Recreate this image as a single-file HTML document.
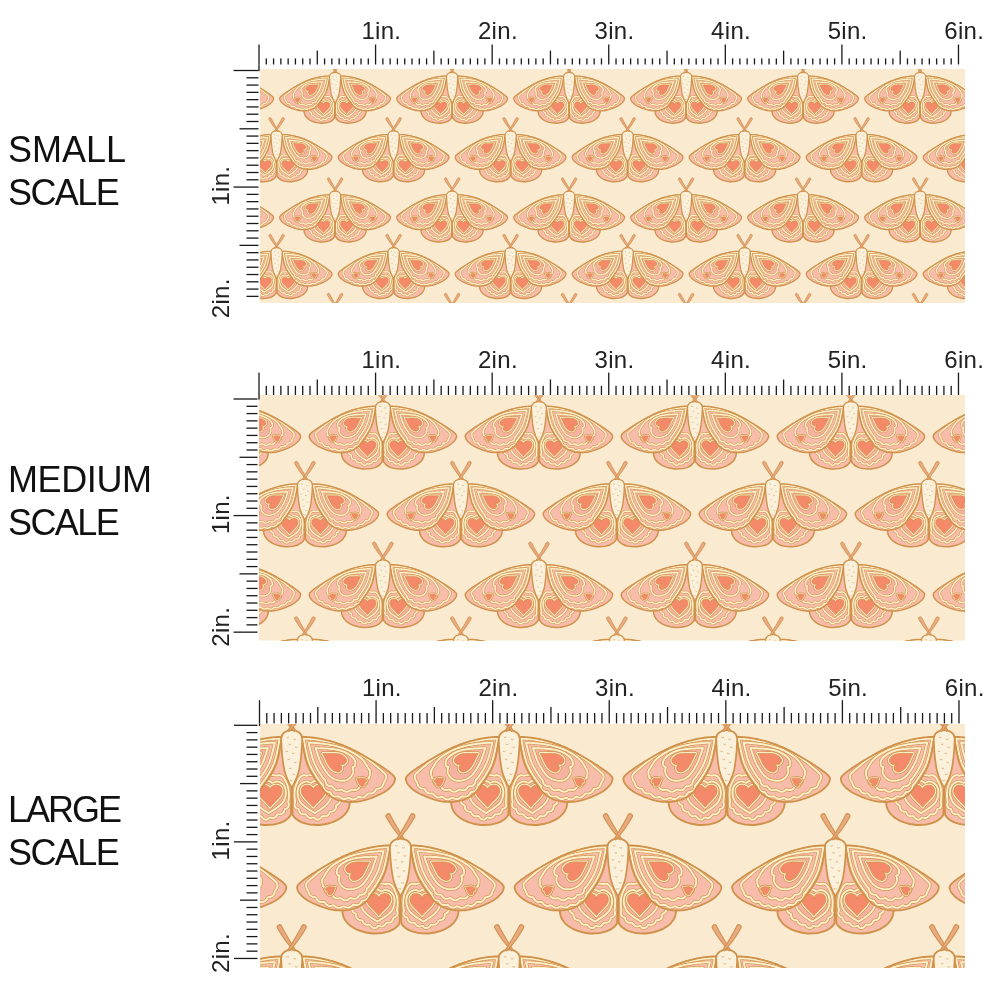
<!DOCTYPE html><html><head><meta charset="utf-8"><style>html,body{margin:0;padding:0;background:#fff;}#page{position:relative;width:1000px;height:1000px;overflow:hidden;background:#fff;font-family:"Liberation Sans",sans-serif;}.panel{position:absolute;display:block;}.big{position:absolute;will-change:transform;left:8px;font-size:36px;line-height:42.8px;color:#111;}.lab{font-family:"Liberation Sans",sans-serif;font-size:24px;letter-spacing:0.3px;fill:#222;}</style></head><body><div id="page">
<svg width="0" height="0" style="position:absolute"><defs><g id="halfS"><path d="M-2 14 C-16 16 -36 28 -48 48 C-54 58 -58 68 -58 76 C-57 86 -47 95 -28 97 C-16 97.5 -5 94 -1 87 C0 80 0 40 0 16Z" fill="#f7bcaa"/>
<path d="M-14.83 47.75 L-15.67 47.57 L-16.54 47.38 L-17.42 47.24 L-18.35 47.12 L-19.31 47.03 L-20.30 46.98 L-21.32 46.96 L-22.36 47.00 L-23.43 47.08 L-24.51 47.19 L-25.60 47.36 L-26.69 47.56 L-27.79 47.80 L-28.88 48.08 L-29.97 48.38 L-31.06 48.73 L-32.14 49.10 L-33.22 49.50 L-34.27 49.95 L-35.32 50.44 L-36.36 50.96 L-37.37 51.55 L-38.36 52.17 L-39.31 52.85 L-40.21 53.59 L-41.09 54.35 L-41.91 55.16 L-42.67 56.03 L-43.41 56.90 L-44.08 57.82 L-44.69 58.77 L-45.29 59.72 L-45.83 60.71 L-46.31 61.72 L-46.71 62.76 L-47.08 63.82 L-47.35 64.88 L-47.55 65.97 L-47.69 67.07 L-47.94 68.17 L-47.16 69.25 L-47.72 70.41 L-48.17 71.66 L-48.34 72.93 L-48.15 74.12 L-47.63 75.24 L-46.73 76.18 L-45.60 76.94 L-44.39 77.54 L-44.38 78.94 L-44.17 80.30 L-43.66 81.48 L-42.88 82.45 L-41.81 83.11 L-40.58 83.51 L-39.19 83.65 L-38.11 84.13 L-37.55 85.39 L-36.88 86.52 L-36.01 87.40 L-34.98 87.98 L-33.80 88.27 L-32.52 88.27 L-31.18 88.09 L-30.14 88.52 L-29.38 89.61 L-28.53 90.56 L-27.57 91.22 L-26.54 91.61 L-25.11 91.80 L-23.98 91.10 L-23.26 90.33 L-22.57 89.46 L-21.55 89.59 L-20.48 89.86 L-19.43 89.99 L-18.42 89.96 L-17.47 89.70 L-16.61 89.23 L-15.83 88.55 L-15.14 87.70 L-14.53 86.72 L-13.74 86.13 L-12.58 86.25 L-11.44 86.23 L-10.38 86.03 L-9.42 85.61 L-8.61 84.96 L-7.96 84.09 L-7.49 83.05 L-7.17 81.91 L-6.75 80.95 L-5.59 80.64 L-4.50 80.11 L-3.64 79.28 L-3.14 78.28 L-2.92 77.31 L-2.92 76.30 L-3.13 75.23 L-3.51 74.14 L-3.38 73.18 L-3.22 72.21 L-3.08 71.23 L-2.96 70.25 L-2.90 69.25 L-2.84 68.26 L-2.83 67.26 L-2.83 66.27 L-2.86 65.27 L-2.91 64.28 L-2.99 63.29 L-3.10 62.32 L-3.23 61.35 L-3.41 60.41 L-3.61 59.49 L-3.85 58.59 L-4.11 57.72 L-4.41 56.90 L-4.71 56.11 L-5.03 55.35 L-5.36 54.61 L-5.69 53.90 L-6.03 53.22 L-6.37 52.56 L-6.70 51.92 L-7.04 51.30 L-7.39 50.69 L-7.76 50.11 L-8.17 49.57 L-8.61 49.06 L-9.09 48.58 L-9.61 48.16 L-10.17 47.80 L-10.77 47.51 L-11.41 47.30 L-12.08 47.19 L-12.77 47.17 L-13.46 47.27 L-14.15 47.46Z" fill="#f7bcaa" stroke="#d0914a" stroke-width="4.16" stroke-linejoin="round"/><path d="M-14.83 47.75 L-15.67 47.57 L-16.54 47.38 L-17.42 47.24 L-18.35 47.12 L-19.31 47.03 L-20.30 46.98 L-21.32 46.96 L-22.36 47.00 L-23.43 47.08 L-24.51 47.19 L-25.60 47.36 L-26.69 47.56 L-27.79 47.80 L-28.88 48.08 L-29.97 48.38 L-31.06 48.73 L-32.14 49.10 L-33.22 49.50 L-34.27 49.95 L-35.32 50.44 L-36.36 50.96 L-37.37 51.55 L-38.36 52.17 L-39.31 52.85 L-40.21 53.59 L-41.09 54.35 L-41.91 55.16 L-42.67 56.03 L-43.41 56.90 L-44.08 57.82 L-44.69 58.77 L-45.29 59.72 L-45.83 60.71 L-46.31 61.72 L-46.71 62.76 L-47.08 63.82 L-47.35 64.88 L-47.55 65.97 L-47.69 67.07 L-47.94 68.17 L-47.16 69.25 L-47.72 70.41 L-48.17 71.66 L-48.34 72.93 L-48.15 74.12 L-47.63 75.24 L-46.73 76.18 L-45.60 76.94 L-44.39 77.54 L-44.38 78.94 L-44.17 80.30 L-43.66 81.48 L-42.88 82.45 L-41.81 83.11 L-40.58 83.51 L-39.19 83.65 L-38.11 84.13 L-37.55 85.39 L-36.88 86.52 L-36.01 87.40 L-34.98 87.98 L-33.80 88.27 L-32.52 88.27 L-31.18 88.09 L-30.14 88.52 L-29.38 89.61 L-28.53 90.56 L-27.57 91.22 L-26.54 91.61 L-25.11 91.80 L-23.98 91.10 L-23.26 90.33 L-22.57 89.46 L-21.55 89.59 L-20.48 89.86 L-19.43 89.99 L-18.42 89.96 L-17.47 89.70 L-16.61 89.23 L-15.83 88.55 L-15.14 87.70 L-14.53 86.72 L-13.74 86.13 L-12.58 86.25 L-11.44 86.23 L-10.38 86.03 L-9.42 85.61 L-8.61 84.96 L-7.96 84.09 L-7.49 83.05 L-7.17 81.91 L-6.75 80.95 L-5.59 80.64 L-4.50 80.11 L-3.64 79.28 L-3.14 78.28 L-2.92 77.31 L-2.92 76.30 L-3.13 75.23 L-3.51 74.14 L-3.38 73.18 L-3.22 72.21 L-3.08 71.23 L-2.96 70.25 L-2.90 69.25 L-2.84 68.26 L-2.83 67.26 L-2.83 66.27 L-2.86 65.27 L-2.91 64.28 L-2.99 63.29 L-3.10 62.32 L-3.23 61.35 L-3.41 60.41 L-3.61 59.49 L-3.85 58.59 L-4.11 57.72 L-4.41 56.90 L-4.71 56.11 L-5.03 55.35 L-5.36 54.61 L-5.69 53.90 L-6.03 53.22 L-6.37 52.56 L-6.70 51.92 L-7.04 51.30 L-7.39 50.69 L-7.76 50.11 L-8.17 49.57 L-8.61 49.06 L-9.09 48.58 L-9.61 48.16 L-10.17 47.80 L-10.77 47.51 L-11.41 47.30 L-12.08 47.19 L-12.77 47.17 L-13.46 47.27 L-14.15 47.46Z" fill="none" stroke="#fcefc8" stroke-width="2.60" stroke-linejoin="round"/>
<path d="M-18.62 55.74 L-19.01 55.32 L-19.44 54.89 L-19.91 54.49 L-20.44 54.11 L-21.02 53.77 L-21.66 53.46 L-22.34 53.20 L-23.05 52.98 L-23.81 52.82 L-24.59 52.71 L-25.39 52.65 L-26.20 52.62 L-27.02 52.65 L-27.84 52.72 L-28.67 52.81 L-29.49 52.94 L-30.31 53.11 L-31.13 53.31 L-31.94 53.55 L-32.74 53.85 L-33.53 54.18 L-34.29 54.58 L-35.03 55.02 L-35.73 55.53 L-36.37 56.10 L-36.97 56.70 L-37.52 57.35 L-38.00 58.05 L-38.44 58.76 L-38.84 59.50 L-39.17 60.25 L-39.47 61.02 L-39.73 61.80 L-39.94 62.59 L-40.07 63.39 L-40.19 64.20 L-40.20 65.00 L-40.18 65.81 L-40.11 66.61 L-39.96 67.40 L-39.79 68.20 L-39.56 68.98 L-39.28 69.75 L-38.96 70.53 L-38.60 71.28 L-38.23 72.03 L-37.80 72.76 L-37.34 73.47 L-36.85 74.17 L-36.32 74.84 L-35.77 75.51 L-35.18 76.14 L-34.59 76.76 L-33.97 77.35 L-33.34 77.94 L-32.68 78.49 L-32.02 79.04 L-31.35 79.56 L-30.67 80.08 L-29.99 80.58 L-29.30 81.07 L-28.61 81.55 L-27.91 82.01 L-27.21 82.47 L-26.52 82.92 L-25.83 83.37 L-25.14 83.81 L-24.46 84.25 L-23.79 84.68 L-23.11 85.12 L-22.51 84.74 L-21.91 84.36 L-21.30 83.97 L-20.68 83.59 L-20.06 83.21 L-19.43 82.81 L-18.80 82.43 L-18.16 82.03 L-17.53 81.63 L-16.90 81.22 L-16.26 80.80 L-15.63 80.38 L-15.00 79.94 L-14.38 79.50 L-13.76 79.04 L-13.14 78.57 L-12.54 78.08 L-11.94 77.58 L-11.35 77.07 L-10.78 76.53 L-10.22 75.98 L-9.69 75.40 L-9.17 74.81 L-8.70 74.19 L-8.28 73.54 L-7.95 72.86 L-7.64 72.16 L-7.34 71.46 L-7.06 70.76 L-6.81 70.03 L-6.56 69.30 L-6.36 68.55 L-6.18 67.80 L-6.02 67.04 L-5.95 66.25 L-5.88 65.47 L-5.88 64.69 L-5.89 63.90 L-5.95 63.12 L-6.03 62.34 L-6.16 61.57 L-6.33 60.82 L-6.53 60.08 L-6.80 59.37 L-7.11 58.70 L-7.46 58.06 L-7.85 57.47 L-8.28 56.93 L-8.73 56.45 L-9.20 56.01 L-9.68 55.60 L-10.18 55.25 L-10.67 54.93 L-11.16 54.63 L-11.66 54.36 L-12.15 54.13 L-12.65 53.92 L-13.15 53.75 L-13.65 53.62 L-14.17 53.53 L-14.69 53.49 L-15.20 53.49 L-15.70 53.56 L-16.20 53.70 L-16.68 53.89 L-17.14 54.14 L-17.56 54.46 L-17.94 54.84 L-18.30 55.27Z" fill="#f5b2a0" stroke="#d0914a" stroke-width="4.16" stroke-linejoin="round"/><path d="M-18.62 55.74 L-19.01 55.32 L-19.44 54.89 L-19.91 54.49 L-20.44 54.11 L-21.02 53.77 L-21.66 53.46 L-22.34 53.20 L-23.05 52.98 L-23.81 52.82 L-24.59 52.71 L-25.39 52.65 L-26.20 52.62 L-27.02 52.65 L-27.84 52.72 L-28.67 52.81 L-29.49 52.94 L-30.31 53.11 L-31.13 53.31 L-31.94 53.55 L-32.74 53.85 L-33.53 54.18 L-34.29 54.58 L-35.03 55.02 L-35.73 55.53 L-36.37 56.10 L-36.97 56.70 L-37.52 57.35 L-38.00 58.05 L-38.44 58.76 L-38.84 59.50 L-39.17 60.25 L-39.47 61.02 L-39.73 61.80 L-39.94 62.59 L-40.07 63.39 L-40.19 64.20 L-40.20 65.00 L-40.18 65.81 L-40.11 66.61 L-39.96 67.40 L-39.79 68.20 L-39.56 68.98 L-39.28 69.75 L-38.96 70.53 L-38.60 71.28 L-38.23 72.03 L-37.80 72.76 L-37.34 73.47 L-36.85 74.17 L-36.32 74.84 L-35.77 75.51 L-35.18 76.14 L-34.59 76.76 L-33.97 77.35 L-33.34 77.94 L-32.68 78.49 L-32.02 79.04 L-31.35 79.56 L-30.67 80.08 L-29.99 80.58 L-29.30 81.07 L-28.61 81.55 L-27.91 82.01 L-27.21 82.47 L-26.52 82.92 L-25.83 83.37 L-25.14 83.81 L-24.46 84.25 L-23.79 84.68 L-23.11 85.12 L-22.51 84.74 L-21.91 84.36 L-21.30 83.97 L-20.68 83.59 L-20.06 83.21 L-19.43 82.81 L-18.80 82.43 L-18.16 82.03 L-17.53 81.63 L-16.90 81.22 L-16.26 80.80 L-15.63 80.38 L-15.00 79.94 L-14.38 79.50 L-13.76 79.04 L-13.14 78.57 L-12.54 78.08 L-11.94 77.58 L-11.35 77.07 L-10.78 76.53 L-10.22 75.98 L-9.69 75.40 L-9.17 74.81 L-8.70 74.19 L-8.28 73.54 L-7.95 72.86 L-7.64 72.16 L-7.34 71.46 L-7.06 70.76 L-6.81 70.03 L-6.56 69.30 L-6.36 68.55 L-6.18 67.80 L-6.02 67.04 L-5.95 66.25 L-5.88 65.47 L-5.88 64.69 L-5.89 63.90 L-5.95 63.12 L-6.03 62.34 L-6.16 61.57 L-6.33 60.82 L-6.53 60.08 L-6.80 59.37 L-7.11 58.70 L-7.46 58.06 L-7.85 57.47 L-8.28 56.93 L-8.73 56.45 L-9.20 56.01 L-9.68 55.60 L-10.18 55.25 L-10.67 54.93 L-11.16 54.63 L-11.66 54.36 L-12.15 54.13 L-12.65 53.92 L-13.15 53.75 L-13.65 53.62 L-14.17 53.53 L-14.69 53.49 L-15.20 53.49 L-15.70 53.56 L-16.20 53.70 L-16.68 53.89 L-17.14 54.14 L-17.56 54.46 L-17.94 54.84 L-18.30 55.27Z" fill="none" stroke="#fcefc8" stroke-width="2.60" stroke-linejoin="round"/>
<path d="M-21.60 62.40 L-21.64 61.84 L-21.71 61.29 L-21.84 60.75 L-22.03 60.23 L-22.30 59.74 L-22.61 59.28 L-22.98 58.87 L-23.39 58.49 L-23.86 58.18 L-24.35 57.92 L-24.86 57.70 L-25.39 57.52 L-25.93 57.39 L-26.48 57.30 L-27.03 57.23 L-27.59 57.21 L-28.14 57.21 L-28.70 57.25 L-29.25 57.32 L-29.79 57.45 L-30.32 57.62 L-30.84 57.84 L-31.32 58.11 L-31.76 58.45 L-32.16 58.84 L-32.51 59.27 L-32.81 59.74 L-33.04 60.24 L-33.23 60.77 L-33.39 61.30 L-33.48 61.85 L-33.55 62.40 L-33.58 62.96 L-33.58 63.52 L-33.51 64.07 L-33.44 64.62 L-33.27 65.15 L-33.09 65.68 L-32.87 66.19 L-32.61 66.68 L-32.35 67.17 L-32.05 67.64 L-31.73 68.10 L-31.41 68.56 L-31.07 69.00 L-30.72 69.43 L-30.37 69.86 L-30.01 70.28 L-29.63 70.70 L-29.26 71.11 L-28.88 71.52 L-28.49 71.92 L-28.10 72.32 L-27.71 72.72 L-27.32 73.11 L-26.92 73.51 L-26.53 73.90 L-26.13 74.29 L-25.74 74.68 L-25.34 75.08 L-24.95 75.47 L-24.56 75.87 L-24.17 76.27 L-23.78 76.67 L-23.41 77.08 L-23.03 77.49 L-22.66 77.90 L-22.30 78.33 L-21.95 78.77 L-21.60 79.20 L-21.25 78.77 L-20.90 78.33 L-20.54 77.90 L-20.17 77.49 L-19.79 77.08 L-19.42 76.67 L-19.03 76.27 L-18.64 75.87 L-18.25 75.47 L-17.86 75.08 L-17.46 74.68 L-17.07 74.29 L-16.67 73.90 L-16.28 73.51 L-15.88 73.11 L-15.49 72.72 L-15.10 72.32 L-14.71 71.92 L-14.32 71.52 L-13.94 71.11 L-13.57 70.70 L-13.19 70.28 L-12.83 69.86 L-12.48 69.43 L-12.13 69.00 L-11.79 68.56 L-11.47 68.10 L-11.15 67.64 L-10.85 67.17 L-10.59 66.68 L-10.33 66.19 L-10.11 65.68 L-9.93 65.15 L-9.76 64.62 L-9.69 64.07 L-9.62 63.52 L-9.62 62.96 L-9.65 62.40 L-9.72 61.85 L-9.81 61.30 L-9.97 60.77 L-10.16 60.24 L-10.39 59.74 L-10.69 59.27 L-11.04 58.84 L-11.44 58.45 L-11.88 58.11 L-12.36 57.84 L-12.88 57.62 L-13.41 57.45 L-13.95 57.32 L-14.50 57.25 L-15.06 57.21 L-15.61 57.21 L-16.17 57.23 L-16.72 57.30 L-17.27 57.39 L-17.81 57.52 L-18.34 57.70 L-18.85 57.92 L-19.34 58.18 L-19.81 58.49 L-20.22 58.87 L-20.59 59.28 L-20.90 59.74 L-21.17 60.23 L-21.36 60.75 L-21.49 61.29 L-21.56 61.84Z" fill="#f48a69" stroke="#d0914a" stroke-width="5.59" stroke-linejoin="round"/>
<path d="M-21.60 62.40 L-21.64 61.84 L-21.71 61.29 L-21.84 60.75 L-22.03 60.23 L-22.30 59.74 L-22.61 59.28 L-22.98 58.87 L-23.39 58.49 L-23.86 58.18 L-24.35 57.92 L-24.86 57.70 L-25.39 57.52 L-25.93 57.39 L-26.48 57.30 L-27.03 57.23 L-27.59 57.21 L-28.14 57.21 L-28.70 57.25 L-29.25 57.32 L-29.79 57.45 L-30.32 57.62 L-30.84 57.84 L-31.32 58.11 L-31.76 58.45 L-32.16 58.84 L-32.51 59.27 L-32.81 59.74 L-33.04 60.24 L-33.23 60.77 L-33.39 61.30 L-33.48 61.85 L-33.55 62.40 L-33.58 62.96 L-33.58 63.52 L-33.51 64.07 L-33.44 64.62 L-33.27 65.15 L-33.09 65.68 L-32.87 66.19 L-32.61 66.68 L-32.35 67.17 L-32.05 67.64 L-31.73 68.10 L-31.41 68.56 L-31.07 69.00 L-30.72 69.43 L-30.37 69.86 L-30.01 70.28 L-29.63 70.70 L-29.26 71.11 L-28.88 71.52 L-28.49 71.92 L-28.10 72.32 L-27.71 72.72 L-27.32 73.11 L-26.92 73.51 L-26.53 73.90 L-26.13 74.29 L-25.74 74.68 L-25.34 75.08 L-24.95 75.47 L-24.56 75.87 L-24.17 76.27 L-23.78 76.67 L-23.41 77.08 L-23.03 77.49 L-22.66 77.90 L-22.30 78.33 L-21.95 78.77 L-21.60 79.20 L-21.25 78.77 L-20.90 78.33 L-20.54 77.90 L-20.17 77.49 L-19.79 77.08 L-19.42 76.67 L-19.03 76.27 L-18.64 75.87 L-18.25 75.47 L-17.86 75.08 L-17.46 74.68 L-17.07 74.29 L-16.67 73.90 L-16.28 73.51 L-15.88 73.11 L-15.49 72.72 L-15.10 72.32 L-14.71 71.92 L-14.32 71.52 L-13.94 71.11 L-13.57 70.70 L-13.19 70.28 L-12.83 69.86 L-12.48 69.43 L-12.13 69.00 L-11.79 68.56 L-11.47 68.10 L-11.15 67.64 L-10.85 67.17 L-10.59 66.68 L-10.33 66.19 L-10.11 65.68 L-9.93 65.15 L-9.76 64.62 L-9.69 64.07 L-9.62 63.52 L-9.62 62.96 L-9.65 62.40 L-9.72 61.85 L-9.81 61.30 L-9.97 60.77 L-10.16 60.24 L-10.39 59.74 L-10.69 59.27 L-11.04 58.84 L-11.44 58.45 L-11.88 58.11 L-12.36 57.84 L-12.88 57.62 L-13.41 57.45 L-13.95 57.32 L-14.50 57.25 L-15.06 57.21 L-15.61 57.21 L-16.17 57.23 L-16.72 57.30 L-17.27 57.39 L-17.81 57.52 L-18.34 57.70 L-18.85 57.92 L-19.34 58.18 L-19.81 58.49 L-20.22 58.87 L-20.59 59.28 L-20.90 59.74 L-21.17 60.23 L-21.36 60.75 L-21.49 61.29 L-21.56 61.84Z" fill="#f48a69" stroke="#fcefc8" stroke-width="3.90" stroke-linejoin="round"/>
<path d="M-21.60 62.40 L-21.64 61.84 L-21.71 61.29 L-21.84 60.75 L-22.03 60.23 L-22.30 59.74 L-22.61 59.28 L-22.98 58.87 L-23.39 58.49 L-23.86 58.18 L-24.35 57.92 L-24.86 57.70 L-25.39 57.52 L-25.93 57.39 L-26.48 57.30 L-27.03 57.23 L-27.59 57.21 L-28.14 57.21 L-28.70 57.25 L-29.25 57.32 L-29.79 57.45 L-30.32 57.62 L-30.84 57.84 L-31.32 58.11 L-31.76 58.45 L-32.16 58.84 L-32.51 59.27 L-32.81 59.74 L-33.04 60.24 L-33.23 60.77 L-33.39 61.30 L-33.48 61.85 L-33.55 62.40 L-33.58 62.96 L-33.58 63.52 L-33.51 64.07 L-33.44 64.62 L-33.27 65.15 L-33.09 65.68 L-32.87 66.19 L-32.61 66.68 L-32.35 67.17 L-32.05 67.64 L-31.73 68.10 L-31.41 68.56 L-31.07 69.00 L-30.72 69.43 L-30.37 69.86 L-30.01 70.28 L-29.63 70.70 L-29.26 71.11 L-28.88 71.52 L-28.49 71.92 L-28.10 72.32 L-27.71 72.72 L-27.32 73.11 L-26.92 73.51 L-26.53 73.90 L-26.13 74.29 L-25.74 74.68 L-25.34 75.08 L-24.95 75.47 L-24.56 75.87 L-24.17 76.27 L-23.78 76.67 L-23.41 77.08 L-23.03 77.49 L-22.66 77.90 L-22.30 78.33 L-21.95 78.77 L-21.60 79.20 L-21.25 78.77 L-20.90 78.33 L-20.54 77.90 L-20.17 77.49 L-19.79 77.08 L-19.42 76.67 L-19.03 76.27 L-18.64 75.87 L-18.25 75.47 L-17.86 75.08 L-17.46 74.68 L-17.07 74.29 L-16.67 73.90 L-16.28 73.51 L-15.88 73.11 L-15.49 72.72 L-15.10 72.32 L-14.71 71.92 L-14.32 71.52 L-13.94 71.11 L-13.57 70.70 L-13.19 70.28 L-12.83 69.86 L-12.48 69.43 L-12.13 69.00 L-11.79 68.56 L-11.47 68.10 L-11.15 67.64 L-10.85 67.17 L-10.59 66.68 L-10.33 66.19 L-10.11 65.68 L-9.93 65.15 L-9.76 64.62 L-9.69 64.07 L-9.62 63.52 L-9.62 62.96 L-9.65 62.40 L-9.72 61.85 L-9.81 61.30 L-9.97 60.77 L-10.16 60.24 L-10.39 59.74 L-10.69 59.27 L-11.04 58.84 L-11.44 58.45 L-11.88 58.11 L-12.36 57.84 L-12.88 57.62 L-13.41 57.45 L-13.95 57.32 L-14.50 57.25 L-15.06 57.21 L-15.61 57.21 L-16.17 57.23 L-16.72 57.30 L-17.27 57.39 L-17.81 57.52 L-18.34 57.70 L-18.85 57.92 L-19.34 58.18 L-19.81 58.49 L-20.22 58.87 L-20.59 59.28 L-20.90 59.74 L-21.17 60.23 L-21.36 60.75 L-21.49 61.29 L-21.56 61.84Z" fill="#f48a69" stroke="#d0914a" stroke-width="1.17" stroke-linejoin="round"/>
<path d="M-2 14 C-16 16 -36 28 -48 48 C-54 58 -58 68 -58 76 C-57 86 -47 95 -28 97 C-16 97.5 -5 94 -1 87 C0 80 0 40 0 16Z" fill="none" stroke="#d0914a" stroke-width="2.47"/>
<path d="M-10.00 9.00 L-11.50 8.97 L-13.01 8.96 L-14.51 9.01 L-16.01 9.08 L-17.51 9.19 L-19.01 9.32 L-20.50 9.49 L-21.99 9.67 L-23.48 9.89 L-24.97 10.11 L-26.45 10.38 L-27.93 10.65 L-29.40 10.94 L-30.87 11.25 L-32.34 11.57 L-33.81 11.93 L-35.27 12.28 L-36.72 12.67 L-38.17 13.06 L-39.62 13.47 L-41.06 13.91 L-42.49 14.35 L-43.92 14.82 L-45.35 15.30 L-46.77 15.79 L-48.18 16.32 L-49.58 16.84 L-50.98 17.41 L-52.37 17.99 L-53.75 18.57 L-55.12 19.19 L-56.49 19.80 L-57.86 20.42 L-59.22 21.08 L-60.58 21.73 L-61.93 22.38 L-63.27 23.06 L-64.61 23.74 L-65.95 24.42 L-67.28 25.13 L-68.61 25.83 L-69.93 26.54 L-71.25 27.27 L-72.56 28.00 L-73.88 28.73 L-75.18 29.48 L-76.48 30.23 L-77.78 30.99 L-79.08 31.75 L-80.36 32.53 L-81.65 33.31 L-82.93 34.09 L-84.21 34.89 L-85.48 35.69 L-86.75 36.50 L-88.01 37.32 L-89.27 38.15 L-90.52 38.98 L-91.76 39.82 L-93.00 40.67 L-94.24 41.53 L-95.46 42.40 L-96.69 43.28 L-97.89 44.18 L-99.06 45.12 L-100.20 46.10 L-101.28 47.14 L-102.27 48.27 L-103.07 49.55 L-103.40 51.00 L-103.11 52.55 L-102.59 54.04 L-101.87 55.44 L-100.99 56.76 L-100.00 57.99 L-98.92 59.14 L-97.77 60.22 L-96.57 61.24 L-95.32 62.20 L-94.03 63.12 L-92.70 63.98 L-91.35 64.79 L-89.94 65.52 L-88.52 66.21 L-87.09 66.88 L-85.66 67.54 L-84.21 68.17 L-82.76 68.79 L-81.29 69.38 L-79.82 69.95 L-78.33 70.49 L-76.84 71.00 L-75.34 71.49 L-73.82 71.93 L-72.29 72.35 L-70.76 72.72 L-69.21 73.05 L-67.66 73.34 L-66.10 73.56 L-64.53 73.76 L-62.95 73.89 L-61.38 73.96 L-59.80 73.99 L-58.22 73.95 L-56.64 73.88 L-55.06 73.75 L-53.49 73.57 L-51.93 73.34 L-50.38 73.05 L-48.83 72.72 L-47.31 72.30 L-45.80 71.84 L-44.31 71.30 L-42.85 70.70 L-41.42 70.05 L-40.03 69.30 L-38.67 68.48 L-37.35 67.61 L-36.11 66.64 L-34.93 65.59 L-33.80 64.49 L-32.76 63.30 L-31.77 62.07 L-30.79 60.83 L-29.82 59.58 L-28.85 58.33 L-27.89 57.08 L-26.94 55.82 L-26.00 54.55 L-25.08 53.26 L-24.17 51.97 L-23.28 50.66 L-22.41 49.34 L-21.56 48.01 L-20.74 46.66 L-19.94 45.30 L-19.16 43.92 L-18.42 42.53 L-17.71 41.12 L-17.04 39.69 L-16.40 38.24 L-15.81 36.78 L-15.26 35.30 L-14.76 33.80 L-14.31 32.29 L-13.90 30.76 L-13.51 29.23 L-13.16 27.69 L-12.82 26.15 L-12.50 24.60 L-12.19 23.05 L-11.90 21.50 L-11.62 19.94 L-11.36 18.38 L-11.10 16.82 L-10.86 15.26 L-10.63 13.70 L-10.41 12.13 L-10.20 10.57Z" fill="#f7bcaa"/>
<path d="M-12.07 10.79 L-13.47 10.77 L-14.88 10.77 L-16.28 10.82 L-17.68 10.88 L-19.09 10.98 L-20.48 11.09 L-21.88 11.23 L-23.28 11.37 L-24.67 11.56 L-26.06 11.73 L-27.44 11.95 L-28.83 12.17 L-30.21 12.41 L-31.58 12.67 L-32.96 12.93 L-34.33 13.22 L-35.70 13.51 L-37.06 13.83 L-38.42 14.16 L-39.78 14.50 L-41.13 14.87 L-42.48 15.24 L-43.82 15.64 L-45.16 16.05 L-46.49 16.46 L-47.82 16.92 L-49.14 17.37 L-50.45 17.86 L-51.76 18.37 L-53.06 18.89 L-54.35 19.43 L-55.64 19.99 L-56.92 20.55 L-58.20 21.14 L-59.46 21.74 L-60.73 22.36 L-61.98 22.99 L-63.23 23.64 L-64.47 24.29 L-65.70 24.97 L-66.93 25.65 L-68.15 26.33 L-69.36 27.04 L-70.55 27.76 L-71.75 28.48 L-72.92 29.23 L-74.08 29.99 L-75.23 30.76 L-76.35 31.54 L-77.45 32.33 L-78.52 33.13 L-79.56 33.94 L-80.57 34.74 L-81.57 35.54 L-82.54 36.34 L-83.49 37.14 L-84.43 37.93 L-85.36 38.71 L-86.26 39.48 L-87.16 40.24 L-88.04 40.99 L-88.91 41.73 L-89.79 42.45 L-90.64 43.19 L-91.47 43.94 L-92.28 44.71 L-93.05 45.53 L-93.73 46.41 L-94.26 47.40 L-94.41 48.54 L-94.27 49.90 L-93.93 51.21 L-93.42 52.45 L-92.78 53.62 L-92.04 54.72 L-91.60 56.08 L-91.12 57.50 L-90.36 58.69 L-89.30 59.60 L-88.01 60.21 L-86.54 60.54 L-84.98 60.66 L-84.18 61.91 L-83.36 63.21 L-82.38 64.28 L-81.20 65.06 L-79.82 65.47 L-78.30 65.58 L-76.68 65.45 L-75.50 66.24 L-74.49 67.50 L-73.34 68.51 L-72.02 69.16 L-70.55 69.39 L-68.99 69.25 L-67.39 68.81 L-66.04 69.30 L-64.76 70.34 L-63.38 71.06 L-61.92 71.38 L-60.42 71.24 L-58.94 70.69 L-57.51 69.87 L-56.07 70.02 L-54.58 70.70 L-53.07 71.06 L-51.59 71.01 L-50.18 70.51 L-48.88 69.62 L-47.67 68.49 L-46.24 68.31 L-44.62 68.61 L-43.06 68.55 L-41.64 68.09 L-40.41 67.22 L-39.40 65.97 L-38.62 64.51 L-37.30 63.92 L-35.68 63.62 L-34.23 63.00 L-33.06 62.03 L-32.28 60.72 L-31.83 59.20 L-31.61 57.55 L-30.48 56.61 L-29.61 55.47 L-28.74 54.33 L-27.89 53.17 L-27.05 52.01 L-26.23 50.84 L-25.41 49.66 L-24.61 48.46 L-23.83 47.26 L-23.07 46.05 L-22.33 44.82 L-21.61 43.58 L-20.91 42.32 L-20.24 41.06 L-19.60 39.77 L-18.98 38.48 L-18.40 37.16 L-17.86 35.84 L-17.35 34.50 L-16.89 33.14 L-16.46 31.77 L-16.07 30.39 L-15.70 29.01 L-15.35 27.62 L-15.02 26.22 L-14.70 24.83 L-14.40 23.43 L-14.10 22.03 L-13.82 20.63 L-13.55 19.22 L-13.28 17.82 L-13.02 16.41 L-12.78 15.01 L-12.53 13.60 L-12.30 12.19Z" fill="#f7bcaa" stroke="#d0914a" stroke-width="4.16" stroke-linejoin="round"/><path d="M-12.07 10.79 L-13.47 10.77 L-14.88 10.77 L-16.28 10.82 L-17.68 10.88 L-19.09 10.98 L-20.48 11.09 L-21.88 11.23 L-23.28 11.37 L-24.67 11.56 L-26.06 11.73 L-27.44 11.95 L-28.83 12.17 L-30.21 12.41 L-31.58 12.67 L-32.96 12.93 L-34.33 13.22 L-35.70 13.51 L-37.06 13.83 L-38.42 14.16 L-39.78 14.50 L-41.13 14.87 L-42.48 15.24 L-43.82 15.64 L-45.16 16.05 L-46.49 16.46 L-47.82 16.92 L-49.14 17.37 L-50.45 17.86 L-51.76 18.37 L-53.06 18.89 L-54.35 19.43 L-55.64 19.99 L-56.92 20.55 L-58.20 21.14 L-59.46 21.74 L-60.73 22.36 L-61.98 22.99 L-63.23 23.64 L-64.47 24.29 L-65.70 24.97 L-66.93 25.65 L-68.15 26.33 L-69.36 27.04 L-70.55 27.76 L-71.75 28.48 L-72.92 29.23 L-74.08 29.99 L-75.23 30.76 L-76.35 31.54 L-77.45 32.33 L-78.52 33.13 L-79.56 33.94 L-80.57 34.74 L-81.57 35.54 L-82.54 36.34 L-83.49 37.14 L-84.43 37.93 L-85.36 38.71 L-86.26 39.48 L-87.16 40.24 L-88.04 40.99 L-88.91 41.73 L-89.79 42.45 L-90.64 43.19 L-91.47 43.94 L-92.28 44.71 L-93.05 45.53 L-93.73 46.41 L-94.26 47.40 L-94.41 48.54 L-94.27 49.90 L-93.93 51.21 L-93.42 52.45 L-92.78 53.62 L-92.04 54.72 L-91.60 56.08 L-91.12 57.50 L-90.36 58.69 L-89.30 59.60 L-88.01 60.21 L-86.54 60.54 L-84.98 60.66 L-84.18 61.91 L-83.36 63.21 L-82.38 64.28 L-81.20 65.06 L-79.82 65.47 L-78.30 65.58 L-76.68 65.45 L-75.50 66.24 L-74.49 67.50 L-73.34 68.51 L-72.02 69.16 L-70.55 69.39 L-68.99 69.25 L-67.39 68.81 L-66.04 69.30 L-64.76 70.34 L-63.38 71.06 L-61.92 71.38 L-60.42 71.24 L-58.94 70.69 L-57.51 69.87 L-56.07 70.02 L-54.58 70.70 L-53.07 71.06 L-51.59 71.01 L-50.18 70.51 L-48.88 69.62 L-47.67 68.49 L-46.24 68.31 L-44.62 68.61 L-43.06 68.55 L-41.64 68.09 L-40.41 67.22 L-39.40 65.97 L-38.62 64.51 L-37.30 63.92 L-35.68 63.62 L-34.23 63.00 L-33.06 62.03 L-32.28 60.72 L-31.83 59.20 L-31.61 57.55 L-30.48 56.61 L-29.61 55.47 L-28.74 54.33 L-27.89 53.17 L-27.05 52.01 L-26.23 50.84 L-25.41 49.66 L-24.61 48.46 L-23.83 47.26 L-23.07 46.05 L-22.33 44.82 L-21.61 43.58 L-20.91 42.32 L-20.24 41.06 L-19.60 39.77 L-18.98 38.48 L-18.40 37.16 L-17.86 35.84 L-17.35 34.50 L-16.89 33.14 L-16.46 31.77 L-16.07 30.39 L-15.70 29.01 L-15.35 27.62 L-15.02 26.22 L-14.70 24.83 L-14.40 23.43 L-14.10 22.03 L-13.82 20.63 L-13.55 19.22 L-13.28 17.82 L-13.02 16.41 L-12.78 15.01 L-12.53 13.60 L-12.30 12.19Z" fill="none" stroke="#fcefc8" stroke-width="2.60" stroke-linejoin="round"/>
<path d="M-16.91 14.74 L-18.09 14.74 L-19.26 14.76 L-20.44 14.81 L-21.62 14.85 L-22.79 14.91 L-23.97 14.99 L-25.14 15.07 L-26.31 15.16 L-27.48 15.28 L-28.65 15.38 L-29.81 15.52 L-30.98 15.65 L-32.14 15.80 L-33.30 15.95 L-34.46 16.12 L-35.61 16.30 L-36.77 16.48 L-37.92 16.69 L-39.07 16.89 L-40.21 17.12 L-41.36 17.36 L-42.50 17.60 L-43.64 17.87 L-44.77 18.15 L-45.90 18.44 L-47.03 18.76 L-48.15 19.09 L-49.27 19.44 L-50.38 19.81 L-51.48 20.20 L-52.58 20.61 L-53.67 21.04 L-54.76 21.49 L-55.84 21.96 L-56.91 22.45 L-57.96 22.97 L-59.01 23.50 L-60.05 24.06 L-61.08 24.63 L-62.09 25.23 L-63.10 25.83 L-64.10 26.45 L-65.08 27.09 L-66.04 27.75 L-66.99 28.42 L-67.90 29.12 L-68.79 29.84 L-69.64 30.58 L-70.44 31.35 L-71.19 32.13 L-71.88 32.91 L-72.51 33.69 L-73.07 34.47 L-73.60 35.22 L-74.08 35.96 L-74.53 36.68 L-74.94 37.37 L-75.32 38.03 L-75.68 38.66 L-76.01 39.24 L-76.32 39.78 L-76.62 40.28 L-76.92 40.74 L-77.22 41.18 L-77.50 41.62 L-77.77 42.04 L-78.02 42.47 L-78.22 42.94 L-78.33 43.45 L-78.19 44.06 L-78.27 45.06 L-78.22 46.02 L-78.06 46.96 L-77.80 47.85 L-77.47 48.70 L-77.55 49.76 L-76.66 50.33 L-75.71 50.79 L-75.59 51.82 L-75.46 52.88 L-75.18 53.92 L-74.73 54.89 L-74.10 55.71 L-73.31 56.38 L-72.37 56.88 L-71.31 57.22 L-70.12 57.41 L-68.89 57.49 L-68.20 58.37 L-67.58 59.46 L-66.84 60.43 L-65.96 61.22 L-64.92 61.78 L-63.76 62.06 L-62.52 62.08 L-61.24 61.86 L-59.98 61.46 L-58.95 62.04 L-57.89 62.82 L-56.77 63.42 L-55.59 63.75 L-54.40 63.78 L-53.23 63.51 L-52.10 62.98 L-51.03 62.25 L-50.02 61.40 L-48.81 61.81 L-47.56 62.16 L-46.32 62.31 L-45.12 62.22 L-44.01 61.83 L-42.99 61.18 L-42.10 60.29 L-41.34 59.23 L-40.60 58.23 L-39.28 58.24 L-37.99 58.08 L-36.79 57.73 L-35.73 57.10 L-34.88 56.24 L-34.26 55.17 L-33.87 53.95 L-33.66 52.65 L-33.19 51.58 L-32.20 50.90 L-31.52 49.99 L-30.84 49.08 L-30.18 48.15 L-29.53 47.22 L-28.89 46.28 L-28.26 45.33 L-27.64 44.38 L-27.04 43.41 L-26.45 42.44 L-25.87 41.46 L-25.31 40.47 L-24.77 39.47 L-24.24 38.46 L-23.74 37.44 L-23.25 36.41 L-22.78 35.37 L-22.34 34.32 L-21.93 33.26 L-21.54 32.19 L-21.17 31.12 L-20.83 30.04 L-20.51 28.95 L-20.19 27.86 L-19.89 26.77 L-19.59 25.68 L-19.30 24.58 L-19.02 23.49 L-18.75 22.39 L-18.47 21.30 L-18.21 20.20 L-17.94 19.10 L-17.68 18.01 L-17.42 16.92 L-17.16 15.83Z" fill="#f7bcaa" stroke="#d0914a" stroke-width="4.16" stroke-linejoin="round"/><path d="M-16.91 14.74 L-18.09 14.74 L-19.26 14.76 L-20.44 14.81 L-21.62 14.85 L-22.79 14.91 L-23.97 14.99 L-25.14 15.07 L-26.31 15.16 L-27.48 15.28 L-28.65 15.38 L-29.81 15.52 L-30.98 15.65 L-32.14 15.80 L-33.30 15.95 L-34.46 16.12 L-35.61 16.30 L-36.77 16.48 L-37.92 16.69 L-39.07 16.89 L-40.21 17.12 L-41.36 17.36 L-42.50 17.60 L-43.64 17.87 L-44.77 18.15 L-45.90 18.44 L-47.03 18.76 L-48.15 19.09 L-49.27 19.44 L-50.38 19.81 L-51.48 20.20 L-52.58 20.61 L-53.67 21.04 L-54.76 21.49 L-55.84 21.96 L-56.91 22.45 L-57.96 22.97 L-59.01 23.50 L-60.05 24.06 L-61.08 24.63 L-62.09 25.23 L-63.10 25.83 L-64.10 26.45 L-65.08 27.09 L-66.04 27.75 L-66.99 28.42 L-67.90 29.12 L-68.79 29.84 L-69.64 30.58 L-70.44 31.35 L-71.19 32.13 L-71.88 32.91 L-72.51 33.69 L-73.07 34.47 L-73.60 35.22 L-74.08 35.96 L-74.53 36.68 L-74.94 37.37 L-75.32 38.03 L-75.68 38.66 L-76.01 39.24 L-76.32 39.78 L-76.62 40.28 L-76.92 40.74 L-77.22 41.18 L-77.50 41.62 L-77.77 42.04 L-78.02 42.47 L-78.22 42.94 L-78.33 43.45 L-78.19 44.06 L-78.27 45.06 L-78.22 46.02 L-78.06 46.96 L-77.80 47.85 L-77.47 48.70 L-77.55 49.76 L-76.66 50.33 L-75.71 50.79 L-75.59 51.82 L-75.46 52.88 L-75.18 53.92 L-74.73 54.89 L-74.10 55.71 L-73.31 56.38 L-72.37 56.88 L-71.31 57.22 L-70.12 57.41 L-68.89 57.49 L-68.20 58.37 L-67.58 59.46 L-66.84 60.43 L-65.96 61.22 L-64.92 61.78 L-63.76 62.06 L-62.52 62.08 L-61.24 61.86 L-59.98 61.46 L-58.95 62.04 L-57.89 62.82 L-56.77 63.42 L-55.59 63.75 L-54.40 63.78 L-53.23 63.51 L-52.10 62.98 L-51.03 62.25 L-50.02 61.40 L-48.81 61.81 L-47.56 62.16 L-46.32 62.31 L-45.12 62.22 L-44.01 61.83 L-42.99 61.18 L-42.10 60.29 L-41.34 59.23 L-40.60 58.23 L-39.28 58.24 L-37.99 58.08 L-36.79 57.73 L-35.73 57.10 L-34.88 56.24 L-34.26 55.17 L-33.87 53.95 L-33.66 52.65 L-33.19 51.58 L-32.20 50.90 L-31.52 49.99 L-30.84 49.08 L-30.18 48.15 L-29.53 47.22 L-28.89 46.28 L-28.26 45.33 L-27.64 44.38 L-27.04 43.41 L-26.45 42.44 L-25.87 41.46 L-25.31 40.47 L-24.77 39.47 L-24.24 38.46 L-23.74 37.44 L-23.25 36.41 L-22.78 35.37 L-22.34 34.32 L-21.93 33.26 L-21.54 32.19 L-21.17 31.12 L-20.83 30.04 L-20.51 28.95 L-20.19 27.86 L-19.89 26.77 L-19.59 25.68 L-19.30 24.58 L-19.02 23.49 L-18.75 22.39 L-18.47 21.30 L-18.21 20.20 L-17.94 19.10 L-17.68 18.01 L-17.42 16.92 L-17.16 15.83Z" fill="none" stroke="#fcefc8" stroke-width="2.60" stroke-linejoin="round"/>
<path d="M-23.78 20.09 L-24.65 20.11 L-25.51 20.14 L-26.37 20.18 L-27.23 20.20 L-28.09 20.24 L-28.95 20.27 L-29.81 20.30 L-30.67 20.34 L-31.53 20.38 L-32.39 20.41 L-33.24 20.46 L-34.10 20.51 L-34.95 20.56 L-35.81 20.61 L-36.66 20.67 L-37.51 20.74 L-38.36 20.82 L-39.21 20.90 L-40.06 20.98 L-40.91 21.09 L-41.76 21.19 L-42.61 21.30 L-43.45 21.44 L-44.29 21.58 L-45.13 21.72 L-45.97 21.89 L-46.81 22.08 L-47.64 22.28 L-48.47 22.49 L-49.29 22.73 L-50.11 22.99 L-50.92 23.26 L-51.73 23.57 L-52.53 23.88 L-53.31 24.24 L-54.09 24.62 L-54.85 25.01 L-55.60 25.44 L-56.34 25.88 L-57.07 26.34 L-57.78 26.82 L-58.48 27.31 L-59.17 27.83 L-59.82 28.37 L-60.47 28.92 L-61.06 29.51 L-61.62 30.13 L-62.13 30.77 L-62.58 31.44 L-62.96 32.12 L-63.25 32.81 L-63.46 33.50 L-63.59 34.16 L-63.66 34.80 L-63.67 35.41 L-63.64 35.99 L-63.56 36.53 L-63.44 37.02 L-63.29 37.45 L-63.10 37.82 L-62.90 38.13 L-62.68 38.37 L-62.46 38.56 L-62.25 38.71 L-62.03 38.83 L-61.81 38.90 L-61.59 38.96 L-61.36 39.02 L-61.10 39.08 L-60.74 39.18 L-61.00 39.76 L-61.20 40.33 L-61.35 40.90 L-61.45 41.46 L-61.51 42.02 L-61.53 42.57 L-61.52 43.12 L-61.48 43.67 L-61.40 44.23 L-61.30 44.78 L-61.14 45.35 L-60.95 45.91 L-60.72 46.46 L-60.42 47.02 L-60.09 47.57 L-59.73 48.12 L-59.31 48.66 L-58.85 49.18 L-58.36 49.69 L-57.83 50.17 L-57.27 50.63 L-56.68 51.07 L-56.05 51.47 L-55.39 51.82 L-54.69 52.12 L-53.98 52.38 L-53.24 52.58 L-52.49 52.73 L-51.73 52.82 L-50.96 52.86 L-50.20 52.86 L-49.43 52.82 L-48.68 52.74 L-47.92 52.63 L-47.18 52.49 L-46.44 52.32 L-45.70 52.13 L-44.98 51.90 L-44.26 51.66 L-43.55 51.39 L-42.84 51.10 L-42.15 50.79 L-41.47 50.44 L-40.81 50.06 L-40.15 49.68 L-39.52 49.25 L-38.92 48.78 L-38.33 48.30 L-37.75 47.79 L-37.21 47.25 L-36.70 46.69 L-36.21 46.10 L-35.73 45.50 L-35.27 44.88 L-34.82 44.26 L-34.37 43.64 L-33.93 43.02 L-33.50 42.38 L-33.08 41.74 L-32.67 41.09 L-32.25 40.45 L-31.86 39.79 L-31.47 39.13 L-31.09 38.47 L-30.71 37.80 L-30.34 37.12 L-29.99 36.44 L-29.64 35.76 L-29.30 35.07 L-28.98 34.38 L-28.66 33.68 L-28.35 32.98 L-28.06 32.27 L-27.77 31.56 L-27.50 30.84 L-27.24 30.13 L-26.98 29.41 L-26.73 28.69 L-26.48 27.96 L-26.23 27.24 L-25.99 26.52 L-25.75 25.80 L-25.51 25.08 L-25.26 24.36 L-25.02 23.65 L-24.78 22.93 L-24.53 22.22 L-24.28 21.51 L-24.03 20.80Z" fill="#f5b2a0" stroke="#d0914a" stroke-width="4.16" stroke-linejoin="round"/><path d="M-23.78 20.09 L-24.65 20.11 L-25.51 20.14 L-26.37 20.18 L-27.23 20.20 L-28.09 20.24 L-28.95 20.27 L-29.81 20.30 L-30.67 20.34 L-31.53 20.38 L-32.39 20.41 L-33.24 20.46 L-34.10 20.51 L-34.95 20.56 L-35.81 20.61 L-36.66 20.67 L-37.51 20.74 L-38.36 20.82 L-39.21 20.90 L-40.06 20.98 L-40.91 21.09 L-41.76 21.19 L-42.61 21.30 L-43.45 21.44 L-44.29 21.58 L-45.13 21.72 L-45.97 21.89 L-46.81 22.08 L-47.64 22.28 L-48.47 22.49 L-49.29 22.73 L-50.11 22.99 L-50.92 23.26 L-51.73 23.57 L-52.53 23.88 L-53.31 24.24 L-54.09 24.62 L-54.85 25.01 L-55.60 25.44 L-56.34 25.88 L-57.07 26.34 L-57.78 26.82 L-58.48 27.31 L-59.17 27.83 L-59.82 28.37 L-60.47 28.92 L-61.06 29.51 L-61.62 30.13 L-62.13 30.77 L-62.58 31.44 L-62.96 32.12 L-63.25 32.81 L-63.46 33.50 L-63.59 34.16 L-63.66 34.80 L-63.67 35.41 L-63.64 35.99 L-63.56 36.53 L-63.44 37.02 L-63.29 37.45 L-63.10 37.82 L-62.90 38.13 L-62.68 38.37 L-62.46 38.56 L-62.25 38.71 L-62.03 38.83 L-61.81 38.90 L-61.59 38.96 L-61.36 39.02 L-61.10 39.08 L-60.74 39.18 L-61.00 39.76 L-61.20 40.33 L-61.35 40.90 L-61.45 41.46 L-61.51 42.02 L-61.53 42.57 L-61.52 43.12 L-61.48 43.67 L-61.40 44.23 L-61.30 44.78 L-61.14 45.35 L-60.95 45.91 L-60.72 46.46 L-60.42 47.02 L-60.09 47.57 L-59.73 48.12 L-59.31 48.66 L-58.85 49.18 L-58.36 49.69 L-57.83 50.17 L-57.27 50.63 L-56.68 51.07 L-56.05 51.47 L-55.39 51.82 L-54.69 52.12 L-53.98 52.38 L-53.24 52.58 L-52.49 52.73 L-51.73 52.82 L-50.96 52.86 L-50.20 52.86 L-49.43 52.82 L-48.68 52.74 L-47.92 52.63 L-47.18 52.49 L-46.44 52.32 L-45.70 52.13 L-44.98 51.90 L-44.26 51.66 L-43.55 51.39 L-42.84 51.10 L-42.15 50.79 L-41.47 50.44 L-40.81 50.06 L-40.15 49.68 L-39.52 49.25 L-38.92 48.78 L-38.33 48.30 L-37.75 47.79 L-37.21 47.25 L-36.70 46.69 L-36.21 46.10 L-35.73 45.50 L-35.27 44.88 L-34.82 44.26 L-34.37 43.64 L-33.93 43.02 L-33.50 42.38 L-33.08 41.74 L-32.67 41.09 L-32.25 40.45 L-31.86 39.79 L-31.47 39.13 L-31.09 38.47 L-30.71 37.80 L-30.34 37.12 L-29.99 36.44 L-29.64 35.76 L-29.30 35.07 L-28.98 34.38 L-28.66 33.68 L-28.35 32.98 L-28.06 32.27 L-27.77 31.56 L-27.50 30.84 L-27.24 30.13 L-26.98 29.41 L-26.73 28.69 L-26.48 27.96 L-26.23 27.24 L-25.99 26.52 L-25.75 25.80 L-25.51 25.08 L-25.26 24.36 L-25.02 23.65 L-24.78 22.93 L-24.53 22.22 L-24.28 21.51 L-24.03 20.80Z" fill="none" stroke="#fcefc8" stroke-width="2.60" stroke-linejoin="round"/>
<path d="M-65.00 50.50 L-65.53 50.50 L-66.07 50.47 L-66.60 50.43 L-67.13 50.38 L-67.66 50.32 L-68.19 50.27 L-68.73 50.21 L-69.26 50.16 L-69.79 50.13 L-70.32 50.11 L-70.86 50.11 L-71.39 50.14 L-71.92 50.21 L-72.44 50.33 L-72.94 50.50 L-73.42 50.75 L-73.85 51.06 L-74.26 51.41 L-74.60 51.81 L-74.85 52.28 L-74.96 52.80 L-74.90 53.33 L-74.69 53.82 L-74.38 54.25 L-73.98 54.61 L-73.51 54.84 L-72.99 54.94 L-72.45 54.89 L-71.95 54.72 L-71.47 54.48 L-71.90 54.80 L-72.28 55.17 L-72.56 55.63 L-72.71 56.14 L-72.72 56.67 L-72.58 57.18 L-72.33 57.66 L-71.99 58.06 L-71.55 58.35 L-71.03 58.49 L-70.50 58.48 L-69.98 58.35 L-69.49 58.15 L-69.02 57.90 L-68.59 57.59 L-68.20 57.22 L-67.86 56.81 L-67.56 56.37 L-67.29 55.91 L-67.05 55.43 L-66.83 54.94 L-66.62 54.45 L-66.42 53.96 L-66.23 53.46 L-66.04 52.96 L-65.86 52.46 L-65.66 51.96 L-65.46 51.47 L-65.24 50.98Z" fill="#f48a69" stroke="#d0914a" stroke-width="4.68" stroke-linejoin="round"/>
<path d="M-65.00 50.50 L-65.53 50.50 L-66.07 50.47 L-66.60 50.43 L-67.13 50.38 L-67.66 50.32 L-68.19 50.27 L-68.73 50.21 L-69.26 50.16 L-69.79 50.13 L-70.32 50.11 L-70.86 50.11 L-71.39 50.14 L-71.92 50.21 L-72.44 50.33 L-72.94 50.50 L-73.42 50.75 L-73.85 51.06 L-74.26 51.41 L-74.60 51.81 L-74.85 52.28 L-74.96 52.80 L-74.90 53.33 L-74.69 53.82 L-74.38 54.25 L-73.98 54.61 L-73.51 54.84 L-72.99 54.94 L-72.45 54.89 L-71.95 54.72 L-71.47 54.48 L-71.90 54.80 L-72.28 55.17 L-72.56 55.63 L-72.71 56.14 L-72.72 56.67 L-72.58 57.18 L-72.33 57.66 L-71.99 58.06 L-71.55 58.35 L-71.03 58.49 L-70.50 58.48 L-69.98 58.35 L-69.49 58.15 L-69.02 57.90 L-68.59 57.59 L-68.20 57.22 L-67.86 56.81 L-67.56 56.37 L-67.29 55.91 L-67.05 55.43 L-66.83 54.94 L-66.62 54.45 L-66.42 53.96 L-66.23 53.46 L-66.04 52.96 L-65.86 52.46 L-65.66 51.96 L-65.46 51.47 L-65.24 50.98Z" fill="#f48a69" stroke="#fcefc8" stroke-width="2.60" stroke-linejoin="round"/>
<path d="M-65.00 50.50 L-65.53 50.50 L-66.07 50.47 L-66.60 50.43 L-67.13 50.38 L-67.66 50.32 L-68.19 50.27 L-68.73 50.21 L-69.26 50.16 L-69.79 50.13 L-70.32 50.11 L-70.86 50.11 L-71.39 50.14 L-71.92 50.21 L-72.44 50.33 L-72.94 50.50 L-73.42 50.75 L-73.85 51.06 L-74.26 51.41 L-74.60 51.81 L-74.85 52.28 L-74.96 52.80 L-74.90 53.33 L-74.69 53.82 L-74.38 54.25 L-73.98 54.61 L-73.51 54.84 L-72.99 54.94 L-72.45 54.89 L-71.95 54.72 L-71.47 54.48 L-71.90 54.80 L-72.28 55.17 L-72.56 55.63 L-72.71 56.14 L-72.72 56.67 L-72.58 57.18 L-72.33 57.66 L-71.99 58.06 L-71.55 58.35 L-71.03 58.49 L-70.50 58.48 L-69.98 58.35 L-69.49 58.15 L-69.02 57.90 L-68.59 57.59 L-68.20 57.22 L-67.86 56.81 L-67.56 56.37 L-67.29 55.91 L-67.05 55.43 L-66.83 54.94 L-66.62 54.45 L-66.42 53.96 L-66.23 53.46 L-66.04 52.96 L-65.86 52.46 L-65.66 51.96 L-65.46 51.47 L-65.24 50.98Z" fill="#f48a69" stroke="#d0914a" stroke-width="0.91" stroke-linejoin="round"/>
<path d="M-31.00 25.50 L-31.53 25.53 L-32.07 25.57 L-32.60 25.60 L-33.14 25.60 L-33.67 25.61 L-34.21 25.61 L-34.75 25.60 L-35.28 25.59 L-35.82 25.58 L-36.35 25.57 L-36.89 25.55 L-37.42 25.53 L-37.96 25.51 L-38.49 25.50 L-39.03 25.48 L-39.56 25.46 L-40.10 25.45 L-40.63 25.44 L-41.17 25.43 L-41.71 25.44 L-42.24 25.45 L-42.78 25.45 L-43.31 25.48 L-43.85 25.51 L-44.38 25.54 L-44.91 25.59 L-45.45 25.65 L-45.98 25.72 L-46.51 25.80 L-47.03 25.91 L-47.55 26.02 L-48.07 26.16 L-48.58 26.33 L-49.09 26.50 L-49.58 26.71 L-50.05 26.95 L-50.53 27.20 L-50.99 27.48 L-51.43 27.77 L-51.87 28.09 L-52.29 28.41 L-52.70 28.76 L-53.10 29.12 L-53.46 29.51 L-53.81 29.91 L-54.12 30.35 L-54.39 30.82 L-54.60 31.30 L-54.76 31.82 L-54.83 32.35 L-54.82 32.88 L-54.72 33.41 L-54.54 33.91 L-54.29 34.39 L-53.99 34.83 L-53.64 35.23 L-53.25 35.60 L-52.82 35.91 L-52.34 36.15 L-51.84 36.34 L-51.32 36.45 L-50.78 36.48 L-50.25 36.46 L-49.72 36.40 L-49.19 36.29 L-48.68 36.12 L-48.18 35.93 L-47.70 35.71 L-47.22 35.46 L-46.76 35.19 L-47.10 35.43 L-47.45 35.66 L-47.78 35.91 L-48.10 36.17 L-48.41 36.45 L-48.70 36.75 L-48.98 37.06 L-49.24 37.39 L-49.46 37.74 L-49.68 38.09 L-49.84 38.48 L-49.98 38.87 L-50.08 39.27 L-50.13 39.69 L-50.13 40.10 L-50.11 40.52 L-50.02 40.92 L-49.90 41.32 L-49.75 41.71 L-49.55 42.08 L-49.33 42.43 L-49.08 42.76 L-48.79 43.06 L-48.47 43.32 L-48.12 43.54 L-47.74 43.73 L-47.35 43.86 L-46.94 43.93 L-46.53 43.98 L-46.11 43.98 L-45.70 43.94 L-45.28 43.88 L-44.88 43.79 L-44.48 43.68 L-44.08 43.55 L-43.69 43.40 L-43.31 43.24 L-42.93 43.06 L-42.56 42.88 L-42.19 42.68 L-41.83 42.48 L-41.47 42.27 L-41.13 42.03 L-40.79 41.78 L-40.46 41.53 L-40.13 41.27 L-39.84 40.98 L-39.54 40.69 L-39.24 40.40 L-38.97 40.09 L-38.71 39.76 L-38.45 39.44 L-38.18 39.11 L-37.95 38.77 L-37.71 38.42 L-37.48 38.08 L-37.25 37.73 L-37.04 37.37 L-36.83 37.01 L-36.62 36.65 L-36.41 36.29 L-36.21 35.93 L-36.02 35.56 L-35.83 35.19 L-35.64 34.82 L-35.45 34.45 L-35.27 34.07 L-35.09 33.70 L-34.91 33.32 L-34.73 32.95 L-34.55 32.57 L-34.37 32.19 L-34.20 31.81 L-34.02 31.43 L-33.85 31.06 L-33.67 30.68 L-33.50 30.30 L-33.32 29.92 L-33.14 29.55 L-32.96 29.17 L-32.78 28.80 L-32.60 28.42 L-32.41 28.05 L-32.22 27.68 L-32.03 27.31 L-31.84 26.94 L-31.63 26.58 L-31.42 26.22 L-31.21 25.86Z" fill="#f48a69" stroke="#d0914a" stroke-width="5.59" stroke-linejoin="round"/>
<path d="M-31.00 25.50 L-31.53 25.53 L-32.07 25.57 L-32.60 25.60 L-33.14 25.60 L-33.67 25.61 L-34.21 25.61 L-34.75 25.60 L-35.28 25.59 L-35.82 25.58 L-36.35 25.57 L-36.89 25.55 L-37.42 25.53 L-37.96 25.51 L-38.49 25.50 L-39.03 25.48 L-39.56 25.46 L-40.10 25.45 L-40.63 25.44 L-41.17 25.43 L-41.71 25.44 L-42.24 25.45 L-42.78 25.45 L-43.31 25.48 L-43.85 25.51 L-44.38 25.54 L-44.91 25.59 L-45.45 25.65 L-45.98 25.72 L-46.51 25.80 L-47.03 25.91 L-47.55 26.02 L-48.07 26.16 L-48.58 26.33 L-49.09 26.50 L-49.58 26.71 L-50.05 26.95 L-50.53 27.20 L-50.99 27.48 L-51.43 27.77 L-51.87 28.09 L-52.29 28.41 L-52.70 28.76 L-53.10 29.12 L-53.46 29.51 L-53.81 29.91 L-54.12 30.35 L-54.39 30.82 L-54.60 31.30 L-54.76 31.82 L-54.83 32.35 L-54.82 32.88 L-54.72 33.41 L-54.54 33.91 L-54.29 34.39 L-53.99 34.83 L-53.64 35.23 L-53.25 35.60 L-52.82 35.91 L-52.34 36.15 L-51.84 36.34 L-51.32 36.45 L-50.78 36.48 L-50.25 36.46 L-49.72 36.40 L-49.19 36.29 L-48.68 36.12 L-48.18 35.93 L-47.70 35.71 L-47.22 35.46 L-46.76 35.19 L-47.10 35.43 L-47.45 35.66 L-47.78 35.91 L-48.10 36.17 L-48.41 36.45 L-48.70 36.75 L-48.98 37.06 L-49.24 37.39 L-49.46 37.74 L-49.68 38.09 L-49.84 38.48 L-49.98 38.87 L-50.08 39.27 L-50.13 39.69 L-50.13 40.10 L-50.11 40.52 L-50.02 40.92 L-49.90 41.32 L-49.75 41.71 L-49.55 42.08 L-49.33 42.43 L-49.08 42.76 L-48.79 43.06 L-48.47 43.32 L-48.12 43.54 L-47.74 43.73 L-47.35 43.86 L-46.94 43.93 L-46.53 43.98 L-46.11 43.98 L-45.70 43.94 L-45.28 43.88 L-44.88 43.79 L-44.48 43.68 L-44.08 43.55 L-43.69 43.40 L-43.31 43.24 L-42.93 43.06 L-42.56 42.88 L-42.19 42.68 L-41.83 42.48 L-41.47 42.27 L-41.13 42.03 L-40.79 41.78 L-40.46 41.53 L-40.13 41.27 L-39.84 40.98 L-39.54 40.69 L-39.24 40.40 L-38.97 40.09 L-38.71 39.76 L-38.45 39.44 L-38.18 39.11 L-37.95 38.77 L-37.71 38.42 L-37.48 38.08 L-37.25 37.73 L-37.04 37.37 L-36.83 37.01 L-36.62 36.65 L-36.41 36.29 L-36.21 35.93 L-36.02 35.56 L-35.83 35.19 L-35.64 34.82 L-35.45 34.45 L-35.27 34.07 L-35.09 33.70 L-34.91 33.32 L-34.73 32.95 L-34.55 32.57 L-34.37 32.19 L-34.20 31.81 L-34.02 31.43 L-33.85 31.06 L-33.67 30.68 L-33.50 30.30 L-33.32 29.92 L-33.14 29.55 L-32.96 29.17 L-32.78 28.80 L-32.60 28.42 L-32.41 28.05 L-32.22 27.68 L-32.03 27.31 L-31.84 26.94 L-31.63 26.58 L-31.42 26.22 L-31.21 25.86Z" fill="#f48a69" stroke="#fcefc8" stroke-width="3.90" stroke-linejoin="round"/>
<path d="M-31.00 25.50 L-31.53 25.53 L-32.07 25.57 L-32.60 25.60 L-33.14 25.60 L-33.67 25.61 L-34.21 25.61 L-34.75 25.60 L-35.28 25.59 L-35.82 25.58 L-36.35 25.57 L-36.89 25.55 L-37.42 25.53 L-37.96 25.51 L-38.49 25.50 L-39.03 25.48 L-39.56 25.46 L-40.10 25.45 L-40.63 25.44 L-41.17 25.43 L-41.71 25.44 L-42.24 25.45 L-42.78 25.45 L-43.31 25.48 L-43.85 25.51 L-44.38 25.54 L-44.91 25.59 L-45.45 25.65 L-45.98 25.72 L-46.51 25.80 L-47.03 25.91 L-47.55 26.02 L-48.07 26.16 L-48.58 26.33 L-49.09 26.50 L-49.58 26.71 L-50.05 26.95 L-50.53 27.20 L-50.99 27.48 L-51.43 27.77 L-51.87 28.09 L-52.29 28.41 L-52.70 28.76 L-53.10 29.12 L-53.46 29.51 L-53.81 29.91 L-54.12 30.35 L-54.39 30.82 L-54.60 31.30 L-54.76 31.82 L-54.83 32.35 L-54.82 32.88 L-54.72 33.41 L-54.54 33.91 L-54.29 34.39 L-53.99 34.83 L-53.64 35.23 L-53.25 35.60 L-52.82 35.91 L-52.34 36.15 L-51.84 36.34 L-51.32 36.45 L-50.78 36.48 L-50.25 36.46 L-49.72 36.40 L-49.19 36.29 L-48.68 36.12 L-48.18 35.93 L-47.70 35.71 L-47.22 35.46 L-46.76 35.19 L-47.10 35.43 L-47.45 35.66 L-47.78 35.91 L-48.10 36.17 L-48.41 36.45 L-48.70 36.75 L-48.98 37.06 L-49.24 37.39 L-49.46 37.74 L-49.68 38.09 L-49.84 38.48 L-49.98 38.87 L-50.08 39.27 L-50.13 39.69 L-50.13 40.10 L-50.11 40.52 L-50.02 40.92 L-49.90 41.32 L-49.75 41.71 L-49.55 42.08 L-49.33 42.43 L-49.08 42.76 L-48.79 43.06 L-48.47 43.32 L-48.12 43.54 L-47.74 43.73 L-47.35 43.86 L-46.94 43.93 L-46.53 43.98 L-46.11 43.98 L-45.70 43.94 L-45.28 43.88 L-44.88 43.79 L-44.48 43.68 L-44.08 43.55 L-43.69 43.40 L-43.31 43.24 L-42.93 43.06 L-42.56 42.88 L-42.19 42.68 L-41.83 42.48 L-41.47 42.27 L-41.13 42.03 L-40.79 41.78 L-40.46 41.53 L-40.13 41.27 L-39.84 40.98 L-39.54 40.69 L-39.24 40.40 L-38.97 40.09 L-38.71 39.76 L-38.45 39.44 L-38.18 39.11 L-37.95 38.77 L-37.71 38.42 L-37.48 38.08 L-37.25 37.73 L-37.04 37.37 L-36.83 37.01 L-36.62 36.65 L-36.41 36.29 L-36.21 35.93 L-36.02 35.56 L-35.83 35.19 L-35.64 34.82 L-35.45 34.45 L-35.27 34.07 L-35.09 33.70 L-34.91 33.32 L-34.73 32.95 L-34.55 32.57 L-34.37 32.19 L-34.20 31.81 L-34.02 31.43 L-33.85 31.06 L-33.67 30.68 L-33.50 30.30 L-33.32 29.92 L-33.14 29.55 L-32.96 29.17 L-32.78 28.80 L-32.60 28.42 L-32.41 28.05 L-32.22 27.68 L-32.03 27.31 L-31.84 26.94 L-31.63 26.58 L-31.42 26.22 L-31.21 25.86Z" fill="#f48a69" stroke="#d0914a" stroke-width="1.17" stroke-linejoin="round"/>
<path d="M-10.00 9.00 L-11.50 8.97 L-13.01 8.96 L-14.51 9.01 L-16.01 9.08 L-17.51 9.19 L-19.01 9.32 L-20.50 9.49 L-21.99 9.67 L-23.48 9.89 L-24.97 10.11 L-26.45 10.38 L-27.93 10.65 L-29.40 10.94 L-30.87 11.25 L-32.34 11.57 L-33.81 11.93 L-35.27 12.28 L-36.72 12.67 L-38.17 13.06 L-39.62 13.47 L-41.06 13.91 L-42.49 14.35 L-43.92 14.82 L-45.35 15.30 L-46.77 15.79 L-48.18 16.32 L-49.58 16.84 L-50.98 17.41 L-52.37 17.99 L-53.75 18.57 L-55.12 19.19 L-56.49 19.80 L-57.86 20.42 L-59.22 21.08 L-60.58 21.73 L-61.93 22.38 L-63.27 23.06 L-64.61 23.74 L-65.95 24.42 L-67.28 25.13 L-68.61 25.83 L-69.93 26.54 L-71.25 27.27 L-72.56 28.00 L-73.88 28.73 L-75.18 29.48 L-76.48 30.23 L-77.78 30.99 L-79.08 31.75 L-80.36 32.53 L-81.65 33.31 L-82.93 34.09 L-84.21 34.89 L-85.48 35.69 L-86.75 36.50 L-88.01 37.32 L-89.27 38.15 L-90.52 38.98 L-91.76 39.82 L-93.00 40.67 L-94.24 41.53 L-95.46 42.40 L-96.69 43.28 L-97.89 44.18 L-99.06 45.12 L-100.20 46.10 L-101.28 47.14 L-102.27 48.27 L-103.07 49.55 L-103.40 51.00 L-103.11 52.55 L-102.59 54.04 L-101.87 55.44 L-100.99 56.76 L-100.00 57.99 L-98.92 59.14 L-97.77 60.22 L-96.57 61.24 L-95.32 62.20 L-94.03 63.12 L-92.70 63.98 L-91.35 64.79 L-89.94 65.52 L-88.52 66.21 L-87.09 66.88 L-85.66 67.54 L-84.21 68.17 L-82.76 68.79 L-81.29 69.38 L-79.82 69.95 L-78.33 70.49 L-76.84 71.00 L-75.34 71.49 L-73.82 71.93 L-72.29 72.35 L-70.76 72.72 L-69.21 73.05 L-67.66 73.34 L-66.10 73.56 L-64.53 73.76 L-62.95 73.89 L-61.38 73.96 L-59.80 73.99 L-58.22 73.95 L-56.64 73.88 L-55.06 73.75 L-53.49 73.57 L-51.93 73.34 L-50.38 73.05 L-48.83 72.72 L-47.31 72.30 L-45.80 71.84 L-44.31 71.30 L-42.85 70.70 L-41.42 70.05 L-40.03 69.30 L-38.67 68.48 L-37.35 67.61 L-36.11 66.64 L-34.93 65.59 L-33.80 64.49 L-32.76 63.30 L-31.77 62.07 L-30.79 60.83 L-29.82 59.58 L-28.85 58.33 L-27.89 57.08 L-26.94 55.82 L-26.00 54.55 L-25.08 53.26 L-24.17 51.97 L-23.28 50.66 L-22.41 49.34 L-21.56 48.01 L-20.74 46.66 L-19.94 45.30 L-19.16 43.92 L-18.42 42.53 L-17.71 41.12 L-17.04 39.69 L-16.40 38.24 L-15.81 36.78 L-15.26 35.30 L-14.76 33.80 L-14.31 32.29 L-13.90 30.76 L-13.51 29.23 L-13.16 27.69 L-12.82 26.15 L-12.50 24.60 L-12.19 23.05 L-11.90 21.50 L-11.62 19.94 L-11.36 18.38 L-11.10 16.82 L-10.86 15.26 L-10.63 13.70 L-10.41 12.13 L-10.20 10.57Z" fill="none" stroke="#d0914a" stroke-width="2.34" stroke-linejoin="round"/></g><path id="antS" d="M3.79 2.62 C-2.5 -7.6 -6.8 -14.6 -10.32 -21.84 A2.3 2.3 0 0 0 -14.16 -19.32 C-10.4 -12.6 -3.6 -2.8 2.61 3.38Z" fill="#e9a982" stroke="#d0914a" stroke-width="1.43" stroke-linejoin="round"/><g id="mothS"><use href="#halfS"/><use href="#halfS" transform="scale(-1 1)"/><path d="M0 2.2 C-5 2.2 -10.5 5 -10.5 10.5 C-10.2 22 -9 34 -7.4 42 C-5.8 49 -2.8 55 0 60 C2.8 55 5.8 49 7.4 42 C9 34 10.2 22 10.5 10.5 C10.5 5 5 2.2 0 2.2Z" fill="#fbf0da" stroke="#d0914a" stroke-width="2.21"/>
<path d="M-5.3 9 q1.3 1.4 2.6 0" fill="none" stroke="#d9b07e" stroke-width="1.17"/>
<path d="M1.7 11 q1.3 1.4 2.6 0" fill="none" stroke="#d9b07e" stroke-width="1.17"/>
<path d="M-3.3 16 q1.3 1.4 2.6 0" fill="none" stroke="#d9b07e" stroke-width="1.17"/>
<path d="M3.2 19 q1.3 1.4 2.6 0" fill="none" stroke="#d9b07e" stroke-width="1.17"/>
<path d="M-6.3 23 q1.3 1.4 2.6 0" fill="none" stroke="#d9b07e" stroke-width="1.17"/>
<path d="M0.19999999999999996 25 q1.3 1.4 2.6 0" fill="none" stroke="#d9b07e" stroke-width="1.17"/>
<path d="M-4.3 31 q1.3 1.4 2.6 0" fill="none" stroke="#d9b07e" stroke-width="1.17"/>
<path d="M2.2 34 q1.3 1.4 2.6 0" fill="none" stroke="#d9b07e" stroke-width="1.17"/>
<path d="M-2.8 40 q1.3 1.4 2.6 0" fill="none" stroke="#d9b07e" stroke-width="1.17"/>
<path d="M0.7 46 q1.3 1.4 2.6 0" fill="none" stroke="#d9b07e" stroke-width="1.17"/>
<path d="M-1.8 52 q1.3 1.4 2.6 0" fill="none" stroke="#d9b07e" stroke-width="1.17"/><use href="#antS"/><use href="#antS" transform="scale(-1 1)"/></g><g id="halfM"><path d="M-2 14 C-16 16 -36 28 -48 48 C-54 58 -58 68 -58 76 C-57 86 -47 95 -28 97 C-16 97.5 -5 94 -1 87 C0 80 0 40 0 16Z" fill="#f7bcaa"/>
<path d="M-14.83 47.75 L-15.67 47.57 L-16.54 47.38 L-17.42 47.24 L-18.35 47.12 L-19.31 47.03 L-20.30 46.98 L-21.32 46.96 L-22.36 47.00 L-23.43 47.08 L-24.51 47.19 L-25.60 47.36 L-26.69 47.56 L-27.79 47.80 L-28.88 48.08 L-29.97 48.38 L-31.06 48.73 L-32.14 49.10 L-33.22 49.50 L-34.27 49.95 L-35.32 50.44 L-36.36 50.96 L-37.37 51.55 L-38.36 52.17 L-39.31 52.85 L-40.21 53.59 L-41.09 54.35 L-41.91 55.16 L-42.67 56.03 L-43.41 56.90 L-44.08 57.82 L-44.69 58.77 L-45.29 59.72 L-45.83 60.71 L-46.31 61.72 L-46.71 62.76 L-47.08 63.82 L-47.35 64.88 L-47.55 65.97 L-47.69 67.07 L-47.94 68.17 L-47.16 69.25 L-47.72 70.41 L-48.17 71.66 L-48.34 72.93 L-48.15 74.12 L-47.63 75.24 L-46.73 76.18 L-45.60 76.94 L-44.39 77.54 L-44.38 78.94 L-44.17 80.30 L-43.66 81.48 L-42.88 82.45 L-41.81 83.11 L-40.58 83.51 L-39.19 83.65 L-38.11 84.13 L-37.55 85.39 L-36.88 86.52 L-36.01 87.40 L-34.98 87.98 L-33.80 88.27 L-32.52 88.27 L-31.18 88.09 L-30.14 88.52 L-29.38 89.61 L-28.53 90.56 L-27.57 91.22 L-26.54 91.61 L-25.11 91.80 L-23.98 91.10 L-23.26 90.33 L-22.57 89.46 L-21.55 89.59 L-20.48 89.86 L-19.43 89.99 L-18.42 89.96 L-17.47 89.70 L-16.61 89.23 L-15.83 88.55 L-15.14 87.70 L-14.53 86.72 L-13.74 86.13 L-12.58 86.25 L-11.44 86.23 L-10.38 86.03 L-9.42 85.61 L-8.61 84.96 L-7.96 84.09 L-7.49 83.05 L-7.17 81.91 L-6.75 80.95 L-5.59 80.64 L-4.50 80.11 L-3.64 79.28 L-3.14 78.28 L-2.92 77.31 L-2.92 76.30 L-3.13 75.23 L-3.51 74.14 L-3.38 73.18 L-3.22 72.21 L-3.08 71.23 L-2.96 70.25 L-2.90 69.25 L-2.84 68.26 L-2.83 67.26 L-2.83 66.27 L-2.86 65.27 L-2.91 64.28 L-2.99 63.29 L-3.10 62.32 L-3.23 61.35 L-3.41 60.41 L-3.61 59.49 L-3.85 58.59 L-4.11 57.72 L-4.41 56.90 L-4.71 56.11 L-5.03 55.35 L-5.36 54.61 L-5.69 53.90 L-6.03 53.22 L-6.37 52.56 L-6.70 51.92 L-7.04 51.30 L-7.39 50.69 L-7.76 50.11 L-8.17 49.57 L-8.61 49.06 L-9.09 48.58 L-9.61 48.16 L-10.17 47.80 L-10.77 47.51 L-11.41 47.30 L-12.08 47.19 L-12.77 47.17 L-13.46 47.27 L-14.15 47.46Z" fill="#f7bcaa" stroke="#d0914a" stroke-width="3.52" stroke-linejoin="round"/><path d="M-14.83 47.75 L-15.67 47.57 L-16.54 47.38 L-17.42 47.24 L-18.35 47.12 L-19.31 47.03 L-20.30 46.98 L-21.32 46.96 L-22.36 47.00 L-23.43 47.08 L-24.51 47.19 L-25.60 47.36 L-26.69 47.56 L-27.79 47.80 L-28.88 48.08 L-29.97 48.38 L-31.06 48.73 L-32.14 49.10 L-33.22 49.50 L-34.27 49.95 L-35.32 50.44 L-36.36 50.96 L-37.37 51.55 L-38.36 52.17 L-39.31 52.85 L-40.21 53.59 L-41.09 54.35 L-41.91 55.16 L-42.67 56.03 L-43.41 56.90 L-44.08 57.82 L-44.69 58.77 L-45.29 59.72 L-45.83 60.71 L-46.31 61.72 L-46.71 62.76 L-47.08 63.82 L-47.35 64.88 L-47.55 65.97 L-47.69 67.07 L-47.94 68.17 L-47.16 69.25 L-47.72 70.41 L-48.17 71.66 L-48.34 72.93 L-48.15 74.12 L-47.63 75.24 L-46.73 76.18 L-45.60 76.94 L-44.39 77.54 L-44.38 78.94 L-44.17 80.30 L-43.66 81.48 L-42.88 82.45 L-41.81 83.11 L-40.58 83.51 L-39.19 83.65 L-38.11 84.13 L-37.55 85.39 L-36.88 86.52 L-36.01 87.40 L-34.98 87.98 L-33.80 88.27 L-32.52 88.27 L-31.18 88.09 L-30.14 88.52 L-29.38 89.61 L-28.53 90.56 L-27.57 91.22 L-26.54 91.61 L-25.11 91.80 L-23.98 91.10 L-23.26 90.33 L-22.57 89.46 L-21.55 89.59 L-20.48 89.86 L-19.43 89.99 L-18.42 89.96 L-17.47 89.70 L-16.61 89.23 L-15.83 88.55 L-15.14 87.70 L-14.53 86.72 L-13.74 86.13 L-12.58 86.25 L-11.44 86.23 L-10.38 86.03 L-9.42 85.61 L-8.61 84.96 L-7.96 84.09 L-7.49 83.05 L-7.17 81.91 L-6.75 80.95 L-5.59 80.64 L-4.50 80.11 L-3.64 79.28 L-3.14 78.28 L-2.92 77.31 L-2.92 76.30 L-3.13 75.23 L-3.51 74.14 L-3.38 73.18 L-3.22 72.21 L-3.08 71.23 L-2.96 70.25 L-2.90 69.25 L-2.84 68.26 L-2.83 67.26 L-2.83 66.27 L-2.86 65.27 L-2.91 64.28 L-2.99 63.29 L-3.10 62.32 L-3.23 61.35 L-3.41 60.41 L-3.61 59.49 L-3.85 58.59 L-4.11 57.72 L-4.41 56.90 L-4.71 56.11 L-5.03 55.35 L-5.36 54.61 L-5.69 53.90 L-6.03 53.22 L-6.37 52.56 L-6.70 51.92 L-7.04 51.30 L-7.39 50.69 L-7.76 50.11 L-8.17 49.57 L-8.61 49.06 L-9.09 48.58 L-9.61 48.16 L-10.17 47.80 L-10.77 47.51 L-11.41 47.30 L-12.08 47.19 L-12.77 47.17 L-13.46 47.27 L-14.15 47.46Z" fill="none" stroke="#fcefc8" stroke-width="2.20" stroke-linejoin="round"/>
<path d="M-18.62 55.74 L-19.01 55.32 L-19.44 54.89 L-19.91 54.49 L-20.44 54.11 L-21.02 53.77 L-21.66 53.46 L-22.34 53.20 L-23.05 52.98 L-23.81 52.82 L-24.59 52.71 L-25.39 52.65 L-26.20 52.62 L-27.02 52.65 L-27.84 52.72 L-28.67 52.81 L-29.49 52.94 L-30.31 53.11 L-31.13 53.31 L-31.94 53.55 L-32.74 53.85 L-33.53 54.18 L-34.29 54.58 L-35.03 55.02 L-35.73 55.53 L-36.37 56.10 L-36.97 56.70 L-37.52 57.35 L-38.00 58.05 L-38.44 58.76 L-38.84 59.50 L-39.17 60.25 L-39.47 61.02 L-39.73 61.80 L-39.94 62.59 L-40.07 63.39 L-40.19 64.20 L-40.20 65.00 L-40.18 65.81 L-40.11 66.61 L-39.96 67.40 L-39.79 68.20 L-39.56 68.98 L-39.28 69.75 L-38.96 70.53 L-38.60 71.28 L-38.23 72.03 L-37.80 72.76 L-37.34 73.47 L-36.85 74.17 L-36.32 74.84 L-35.77 75.51 L-35.18 76.14 L-34.59 76.76 L-33.97 77.35 L-33.34 77.94 L-32.68 78.49 L-32.02 79.04 L-31.35 79.56 L-30.67 80.08 L-29.99 80.58 L-29.30 81.07 L-28.61 81.55 L-27.91 82.01 L-27.21 82.47 L-26.52 82.92 L-25.83 83.37 L-25.14 83.81 L-24.46 84.25 L-23.79 84.68 L-23.11 85.12 L-22.51 84.74 L-21.91 84.36 L-21.30 83.97 L-20.68 83.59 L-20.06 83.21 L-19.43 82.81 L-18.80 82.43 L-18.16 82.03 L-17.53 81.63 L-16.90 81.22 L-16.26 80.80 L-15.63 80.38 L-15.00 79.94 L-14.38 79.50 L-13.76 79.04 L-13.14 78.57 L-12.54 78.08 L-11.94 77.58 L-11.35 77.07 L-10.78 76.53 L-10.22 75.98 L-9.69 75.40 L-9.17 74.81 L-8.70 74.19 L-8.28 73.54 L-7.95 72.86 L-7.64 72.16 L-7.34 71.46 L-7.06 70.76 L-6.81 70.03 L-6.56 69.30 L-6.36 68.55 L-6.18 67.80 L-6.02 67.04 L-5.95 66.25 L-5.88 65.47 L-5.88 64.69 L-5.89 63.90 L-5.95 63.12 L-6.03 62.34 L-6.16 61.57 L-6.33 60.82 L-6.53 60.08 L-6.80 59.37 L-7.11 58.70 L-7.46 58.06 L-7.85 57.47 L-8.28 56.93 L-8.73 56.45 L-9.20 56.01 L-9.68 55.60 L-10.18 55.25 L-10.67 54.93 L-11.16 54.63 L-11.66 54.36 L-12.15 54.13 L-12.65 53.92 L-13.15 53.75 L-13.65 53.62 L-14.17 53.53 L-14.69 53.49 L-15.20 53.49 L-15.70 53.56 L-16.20 53.70 L-16.68 53.89 L-17.14 54.14 L-17.56 54.46 L-17.94 54.84 L-18.30 55.27Z" fill="#f5b2a0" stroke="#d0914a" stroke-width="3.52" stroke-linejoin="round"/><path d="M-18.62 55.74 L-19.01 55.32 L-19.44 54.89 L-19.91 54.49 L-20.44 54.11 L-21.02 53.77 L-21.66 53.46 L-22.34 53.20 L-23.05 52.98 L-23.81 52.82 L-24.59 52.71 L-25.39 52.65 L-26.20 52.62 L-27.02 52.65 L-27.84 52.72 L-28.67 52.81 L-29.49 52.94 L-30.31 53.11 L-31.13 53.31 L-31.94 53.55 L-32.74 53.85 L-33.53 54.18 L-34.29 54.58 L-35.03 55.02 L-35.73 55.53 L-36.37 56.10 L-36.97 56.70 L-37.52 57.35 L-38.00 58.05 L-38.44 58.76 L-38.84 59.50 L-39.17 60.25 L-39.47 61.02 L-39.73 61.80 L-39.94 62.59 L-40.07 63.39 L-40.19 64.20 L-40.20 65.00 L-40.18 65.81 L-40.11 66.61 L-39.96 67.40 L-39.79 68.20 L-39.56 68.98 L-39.28 69.75 L-38.96 70.53 L-38.60 71.28 L-38.23 72.03 L-37.80 72.76 L-37.34 73.47 L-36.85 74.17 L-36.32 74.84 L-35.77 75.51 L-35.18 76.14 L-34.59 76.76 L-33.97 77.35 L-33.34 77.94 L-32.68 78.49 L-32.02 79.04 L-31.35 79.56 L-30.67 80.08 L-29.99 80.58 L-29.30 81.07 L-28.61 81.55 L-27.91 82.01 L-27.21 82.47 L-26.52 82.92 L-25.83 83.37 L-25.14 83.81 L-24.46 84.25 L-23.79 84.68 L-23.11 85.12 L-22.51 84.74 L-21.91 84.36 L-21.30 83.97 L-20.68 83.59 L-20.06 83.21 L-19.43 82.81 L-18.80 82.43 L-18.16 82.03 L-17.53 81.63 L-16.90 81.22 L-16.26 80.80 L-15.63 80.38 L-15.00 79.94 L-14.38 79.50 L-13.76 79.04 L-13.14 78.57 L-12.54 78.08 L-11.94 77.58 L-11.35 77.07 L-10.78 76.53 L-10.22 75.98 L-9.69 75.40 L-9.17 74.81 L-8.70 74.19 L-8.28 73.54 L-7.95 72.86 L-7.64 72.16 L-7.34 71.46 L-7.06 70.76 L-6.81 70.03 L-6.56 69.30 L-6.36 68.55 L-6.18 67.80 L-6.02 67.04 L-5.95 66.25 L-5.88 65.47 L-5.88 64.69 L-5.89 63.90 L-5.95 63.12 L-6.03 62.34 L-6.16 61.57 L-6.33 60.82 L-6.53 60.08 L-6.80 59.37 L-7.11 58.70 L-7.46 58.06 L-7.85 57.47 L-8.28 56.93 L-8.73 56.45 L-9.20 56.01 L-9.68 55.60 L-10.18 55.25 L-10.67 54.93 L-11.16 54.63 L-11.66 54.36 L-12.15 54.13 L-12.65 53.92 L-13.15 53.75 L-13.65 53.62 L-14.17 53.53 L-14.69 53.49 L-15.20 53.49 L-15.70 53.56 L-16.20 53.70 L-16.68 53.89 L-17.14 54.14 L-17.56 54.46 L-17.94 54.84 L-18.30 55.27Z" fill="none" stroke="#fcefc8" stroke-width="2.20" stroke-linejoin="round"/>
<path d="M-21.60 62.40 L-21.64 61.84 L-21.71 61.29 L-21.84 60.75 L-22.03 60.23 L-22.30 59.74 L-22.61 59.28 L-22.98 58.87 L-23.39 58.49 L-23.86 58.18 L-24.35 57.92 L-24.86 57.70 L-25.39 57.52 L-25.93 57.39 L-26.48 57.30 L-27.03 57.23 L-27.59 57.21 L-28.14 57.21 L-28.70 57.25 L-29.25 57.32 L-29.79 57.45 L-30.32 57.62 L-30.84 57.84 L-31.32 58.11 L-31.76 58.45 L-32.16 58.84 L-32.51 59.27 L-32.81 59.74 L-33.04 60.24 L-33.23 60.77 L-33.39 61.30 L-33.48 61.85 L-33.55 62.40 L-33.58 62.96 L-33.58 63.52 L-33.51 64.07 L-33.44 64.62 L-33.27 65.15 L-33.09 65.68 L-32.87 66.19 L-32.61 66.68 L-32.35 67.17 L-32.05 67.64 L-31.73 68.10 L-31.41 68.56 L-31.07 69.00 L-30.72 69.43 L-30.37 69.86 L-30.01 70.28 L-29.63 70.70 L-29.26 71.11 L-28.88 71.52 L-28.49 71.92 L-28.10 72.32 L-27.71 72.72 L-27.32 73.11 L-26.92 73.51 L-26.53 73.90 L-26.13 74.29 L-25.74 74.68 L-25.34 75.08 L-24.95 75.47 L-24.56 75.87 L-24.17 76.27 L-23.78 76.67 L-23.41 77.08 L-23.03 77.49 L-22.66 77.90 L-22.30 78.33 L-21.95 78.77 L-21.60 79.20 L-21.25 78.77 L-20.90 78.33 L-20.54 77.90 L-20.17 77.49 L-19.79 77.08 L-19.42 76.67 L-19.03 76.27 L-18.64 75.87 L-18.25 75.47 L-17.86 75.08 L-17.46 74.68 L-17.07 74.29 L-16.67 73.90 L-16.28 73.51 L-15.88 73.11 L-15.49 72.72 L-15.10 72.32 L-14.71 71.92 L-14.32 71.52 L-13.94 71.11 L-13.57 70.70 L-13.19 70.28 L-12.83 69.86 L-12.48 69.43 L-12.13 69.00 L-11.79 68.56 L-11.47 68.10 L-11.15 67.64 L-10.85 67.17 L-10.59 66.68 L-10.33 66.19 L-10.11 65.68 L-9.93 65.15 L-9.76 64.62 L-9.69 64.07 L-9.62 63.52 L-9.62 62.96 L-9.65 62.40 L-9.72 61.85 L-9.81 61.30 L-9.97 60.77 L-10.16 60.24 L-10.39 59.74 L-10.69 59.27 L-11.04 58.84 L-11.44 58.45 L-11.88 58.11 L-12.36 57.84 L-12.88 57.62 L-13.41 57.45 L-13.95 57.32 L-14.50 57.25 L-15.06 57.21 L-15.61 57.21 L-16.17 57.23 L-16.72 57.30 L-17.27 57.39 L-17.81 57.52 L-18.34 57.70 L-18.85 57.92 L-19.34 58.18 L-19.81 58.49 L-20.22 58.87 L-20.59 59.28 L-20.90 59.74 L-21.17 60.23 L-21.36 60.75 L-21.49 61.29 L-21.56 61.84Z" fill="#f48a69" stroke="#d0914a" stroke-width="4.73" stroke-linejoin="round"/>
<path d="M-21.60 62.40 L-21.64 61.84 L-21.71 61.29 L-21.84 60.75 L-22.03 60.23 L-22.30 59.74 L-22.61 59.28 L-22.98 58.87 L-23.39 58.49 L-23.86 58.18 L-24.35 57.92 L-24.86 57.70 L-25.39 57.52 L-25.93 57.39 L-26.48 57.30 L-27.03 57.23 L-27.59 57.21 L-28.14 57.21 L-28.70 57.25 L-29.25 57.32 L-29.79 57.45 L-30.32 57.62 L-30.84 57.84 L-31.32 58.11 L-31.76 58.45 L-32.16 58.84 L-32.51 59.27 L-32.81 59.74 L-33.04 60.24 L-33.23 60.77 L-33.39 61.30 L-33.48 61.85 L-33.55 62.40 L-33.58 62.96 L-33.58 63.52 L-33.51 64.07 L-33.44 64.62 L-33.27 65.15 L-33.09 65.68 L-32.87 66.19 L-32.61 66.68 L-32.35 67.17 L-32.05 67.64 L-31.73 68.10 L-31.41 68.56 L-31.07 69.00 L-30.72 69.43 L-30.37 69.86 L-30.01 70.28 L-29.63 70.70 L-29.26 71.11 L-28.88 71.52 L-28.49 71.92 L-28.10 72.32 L-27.71 72.72 L-27.32 73.11 L-26.92 73.51 L-26.53 73.90 L-26.13 74.29 L-25.74 74.68 L-25.34 75.08 L-24.95 75.47 L-24.56 75.87 L-24.17 76.27 L-23.78 76.67 L-23.41 77.08 L-23.03 77.49 L-22.66 77.90 L-22.30 78.33 L-21.95 78.77 L-21.60 79.20 L-21.25 78.77 L-20.90 78.33 L-20.54 77.90 L-20.17 77.49 L-19.79 77.08 L-19.42 76.67 L-19.03 76.27 L-18.64 75.87 L-18.25 75.47 L-17.86 75.08 L-17.46 74.68 L-17.07 74.29 L-16.67 73.90 L-16.28 73.51 L-15.88 73.11 L-15.49 72.72 L-15.10 72.32 L-14.71 71.92 L-14.32 71.52 L-13.94 71.11 L-13.57 70.70 L-13.19 70.28 L-12.83 69.86 L-12.48 69.43 L-12.13 69.00 L-11.79 68.56 L-11.47 68.10 L-11.15 67.64 L-10.85 67.17 L-10.59 66.68 L-10.33 66.19 L-10.11 65.68 L-9.93 65.15 L-9.76 64.62 L-9.69 64.07 L-9.62 63.52 L-9.62 62.96 L-9.65 62.40 L-9.72 61.85 L-9.81 61.30 L-9.97 60.77 L-10.16 60.24 L-10.39 59.74 L-10.69 59.27 L-11.04 58.84 L-11.44 58.45 L-11.88 58.11 L-12.36 57.84 L-12.88 57.62 L-13.41 57.45 L-13.95 57.32 L-14.50 57.25 L-15.06 57.21 L-15.61 57.21 L-16.17 57.23 L-16.72 57.30 L-17.27 57.39 L-17.81 57.52 L-18.34 57.70 L-18.85 57.92 L-19.34 58.18 L-19.81 58.49 L-20.22 58.87 L-20.59 59.28 L-20.90 59.74 L-21.17 60.23 L-21.36 60.75 L-21.49 61.29 L-21.56 61.84Z" fill="#f48a69" stroke="#fcefc8" stroke-width="3.30" stroke-linejoin="round"/>
<path d="M-21.60 62.40 L-21.64 61.84 L-21.71 61.29 L-21.84 60.75 L-22.03 60.23 L-22.30 59.74 L-22.61 59.28 L-22.98 58.87 L-23.39 58.49 L-23.86 58.18 L-24.35 57.92 L-24.86 57.70 L-25.39 57.52 L-25.93 57.39 L-26.48 57.30 L-27.03 57.23 L-27.59 57.21 L-28.14 57.21 L-28.70 57.25 L-29.25 57.32 L-29.79 57.45 L-30.32 57.62 L-30.84 57.84 L-31.32 58.11 L-31.76 58.45 L-32.16 58.84 L-32.51 59.27 L-32.81 59.74 L-33.04 60.24 L-33.23 60.77 L-33.39 61.30 L-33.48 61.85 L-33.55 62.40 L-33.58 62.96 L-33.58 63.52 L-33.51 64.07 L-33.44 64.62 L-33.27 65.15 L-33.09 65.68 L-32.87 66.19 L-32.61 66.68 L-32.35 67.17 L-32.05 67.64 L-31.73 68.10 L-31.41 68.56 L-31.07 69.00 L-30.72 69.43 L-30.37 69.86 L-30.01 70.28 L-29.63 70.70 L-29.26 71.11 L-28.88 71.52 L-28.49 71.92 L-28.10 72.32 L-27.71 72.72 L-27.32 73.11 L-26.92 73.51 L-26.53 73.90 L-26.13 74.29 L-25.74 74.68 L-25.34 75.08 L-24.95 75.47 L-24.56 75.87 L-24.17 76.27 L-23.78 76.67 L-23.41 77.08 L-23.03 77.49 L-22.66 77.90 L-22.30 78.33 L-21.95 78.77 L-21.60 79.20 L-21.25 78.77 L-20.90 78.33 L-20.54 77.90 L-20.17 77.49 L-19.79 77.08 L-19.42 76.67 L-19.03 76.27 L-18.64 75.87 L-18.25 75.47 L-17.86 75.08 L-17.46 74.68 L-17.07 74.29 L-16.67 73.90 L-16.28 73.51 L-15.88 73.11 L-15.49 72.72 L-15.10 72.32 L-14.71 71.92 L-14.32 71.52 L-13.94 71.11 L-13.57 70.70 L-13.19 70.28 L-12.83 69.86 L-12.48 69.43 L-12.13 69.00 L-11.79 68.56 L-11.47 68.10 L-11.15 67.64 L-10.85 67.17 L-10.59 66.68 L-10.33 66.19 L-10.11 65.68 L-9.93 65.15 L-9.76 64.62 L-9.69 64.07 L-9.62 63.52 L-9.62 62.96 L-9.65 62.40 L-9.72 61.85 L-9.81 61.30 L-9.97 60.77 L-10.16 60.24 L-10.39 59.74 L-10.69 59.27 L-11.04 58.84 L-11.44 58.45 L-11.88 58.11 L-12.36 57.84 L-12.88 57.62 L-13.41 57.45 L-13.95 57.32 L-14.50 57.25 L-15.06 57.21 L-15.61 57.21 L-16.17 57.23 L-16.72 57.30 L-17.27 57.39 L-17.81 57.52 L-18.34 57.70 L-18.85 57.92 L-19.34 58.18 L-19.81 58.49 L-20.22 58.87 L-20.59 59.28 L-20.90 59.74 L-21.17 60.23 L-21.36 60.75 L-21.49 61.29 L-21.56 61.84Z" fill="#f48a69" stroke="#d0914a" stroke-width="0.99" stroke-linejoin="round"/>
<path d="M-2 14 C-16 16 -36 28 -48 48 C-54 58 -58 68 -58 76 C-57 86 -47 95 -28 97 C-16 97.5 -5 94 -1 87 C0 80 0 40 0 16Z" fill="none" stroke="#d0914a" stroke-width="2.09"/>
<path d="M-10.00 9.00 L-11.50 8.97 L-13.01 8.96 L-14.51 9.01 L-16.01 9.08 L-17.51 9.19 L-19.01 9.32 L-20.50 9.49 L-21.99 9.67 L-23.48 9.89 L-24.97 10.11 L-26.45 10.38 L-27.93 10.65 L-29.40 10.94 L-30.87 11.25 L-32.34 11.57 L-33.81 11.93 L-35.27 12.28 L-36.72 12.67 L-38.17 13.06 L-39.62 13.47 L-41.06 13.91 L-42.49 14.35 L-43.92 14.82 L-45.35 15.30 L-46.77 15.79 L-48.18 16.32 L-49.58 16.84 L-50.98 17.41 L-52.37 17.99 L-53.75 18.57 L-55.12 19.19 L-56.49 19.80 L-57.86 20.42 L-59.22 21.08 L-60.58 21.73 L-61.93 22.38 L-63.27 23.06 L-64.61 23.74 L-65.95 24.42 L-67.28 25.13 L-68.61 25.83 L-69.93 26.54 L-71.25 27.27 L-72.56 28.00 L-73.88 28.73 L-75.18 29.48 L-76.48 30.23 L-77.78 30.99 L-79.08 31.75 L-80.36 32.53 L-81.65 33.31 L-82.93 34.09 L-84.21 34.89 L-85.48 35.69 L-86.75 36.50 L-88.01 37.32 L-89.27 38.15 L-90.52 38.98 L-91.76 39.82 L-93.00 40.67 L-94.24 41.53 L-95.46 42.40 L-96.69 43.28 L-97.89 44.18 L-99.06 45.12 L-100.20 46.10 L-101.28 47.14 L-102.27 48.27 L-103.07 49.55 L-103.40 51.00 L-103.11 52.55 L-102.59 54.04 L-101.87 55.44 L-100.99 56.76 L-100.00 57.99 L-98.92 59.14 L-97.77 60.22 L-96.57 61.24 L-95.32 62.20 L-94.03 63.12 L-92.70 63.98 L-91.35 64.79 L-89.94 65.52 L-88.52 66.21 L-87.09 66.88 L-85.66 67.54 L-84.21 68.17 L-82.76 68.79 L-81.29 69.38 L-79.82 69.95 L-78.33 70.49 L-76.84 71.00 L-75.34 71.49 L-73.82 71.93 L-72.29 72.35 L-70.76 72.72 L-69.21 73.05 L-67.66 73.34 L-66.10 73.56 L-64.53 73.76 L-62.95 73.89 L-61.38 73.96 L-59.80 73.99 L-58.22 73.95 L-56.64 73.88 L-55.06 73.75 L-53.49 73.57 L-51.93 73.34 L-50.38 73.05 L-48.83 72.72 L-47.31 72.30 L-45.80 71.84 L-44.31 71.30 L-42.85 70.70 L-41.42 70.05 L-40.03 69.30 L-38.67 68.48 L-37.35 67.61 L-36.11 66.64 L-34.93 65.59 L-33.80 64.49 L-32.76 63.30 L-31.77 62.07 L-30.79 60.83 L-29.82 59.58 L-28.85 58.33 L-27.89 57.08 L-26.94 55.82 L-26.00 54.55 L-25.08 53.26 L-24.17 51.97 L-23.28 50.66 L-22.41 49.34 L-21.56 48.01 L-20.74 46.66 L-19.94 45.30 L-19.16 43.92 L-18.42 42.53 L-17.71 41.12 L-17.04 39.69 L-16.40 38.24 L-15.81 36.78 L-15.26 35.30 L-14.76 33.80 L-14.31 32.29 L-13.90 30.76 L-13.51 29.23 L-13.16 27.69 L-12.82 26.15 L-12.50 24.60 L-12.19 23.05 L-11.90 21.50 L-11.62 19.94 L-11.36 18.38 L-11.10 16.82 L-10.86 15.26 L-10.63 13.70 L-10.41 12.13 L-10.20 10.57Z" fill="#f7bcaa"/>
<path d="M-12.07 10.79 L-13.47 10.77 L-14.88 10.77 L-16.28 10.82 L-17.68 10.88 L-19.09 10.98 L-20.48 11.09 L-21.88 11.23 L-23.28 11.37 L-24.67 11.56 L-26.06 11.73 L-27.44 11.95 L-28.83 12.17 L-30.21 12.41 L-31.58 12.67 L-32.96 12.93 L-34.33 13.22 L-35.70 13.51 L-37.06 13.83 L-38.42 14.16 L-39.78 14.50 L-41.13 14.87 L-42.48 15.24 L-43.82 15.64 L-45.16 16.05 L-46.49 16.46 L-47.82 16.92 L-49.14 17.37 L-50.45 17.86 L-51.76 18.37 L-53.06 18.89 L-54.35 19.43 L-55.64 19.99 L-56.92 20.55 L-58.20 21.14 L-59.46 21.74 L-60.73 22.36 L-61.98 22.99 L-63.23 23.64 L-64.47 24.29 L-65.70 24.97 L-66.93 25.65 L-68.15 26.33 L-69.36 27.04 L-70.55 27.76 L-71.75 28.48 L-72.92 29.23 L-74.08 29.99 L-75.23 30.76 L-76.35 31.54 L-77.45 32.33 L-78.52 33.13 L-79.56 33.94 L-80.57 34.74 L-81.57 35.54 L-82.54 36.34 L-83.49 37.14 L-84.43 37.93 L-85.36 38.71 L-86.26 39.48 L-87.16 40.24 L-88.04 40.99 L-88.91 41.73 L-89.79 42.45 L-90.64 43.19 L-91.47 43.94 L-92.28 44.71 L-93.05 45.53 L-93.73 46.41 L-94.26 47.40 L-94.41 48.54 L-94.27 49.90 L-93.93 51.21 L-93.42 52.45 L-92.78 53.62 L-92.04 54.72 L-91.60 56.08 L-91.12 57.50 L-90.36 58.69 L-89.30 59.60 L-88.01 60.21 L-86.54 60.54 L-84.98 60.66 L-84.18 61.91 L-83.36 63.21 L-82.38 64.28 L-81.20 65.06 L-79.82 65.47 L-78.30 65.58 L-76.68 65.45 L-75.50 66.24 L-74.49 67.50 L-73.34 68.51 L-72.02 69.16 L-70.55 69.39 L-68.99 69.25 L-67.39 68.81 L-66.04 69.30 L-64.76 70.34 L-63.38 71.06 L-61.92 71.38 L-60.42 71.24 L-58.94 70.69 L-57.51 69.87 L-56.07 70.02 L-54.58 70.70 L-53.07 71.06 L-51.59 71.01 L-50.18 70.51 L-48.88 69.62 L-47.67 68.49 L-46.24 68.31 L-44.62 68.61 L-43.06 68.55 L-41.64 68.09 L-40.41 67.22 L-39.40 65.97 L-38.62 64.51 L-37.30 63.92 L-35.68 63.62 L-34.23 63.00 L-33.06 62.03 L-32.28 60.72 L-31.83 59.20 L-31.61 57.55 L-30.48 56.61 L-29.61 55.47 L-28.74 54.33 L-27.89 53.17 L-27.05 52.01 L-26.23 50.84 L-25.41 49.66 L-24.61 48.46 L-23.83 47.26 L-23.07 46.05 L-22.33 44.82 L-21.61 43.58 L-20.91 42.32 L-20.24 41.06 L-19.60 39.77 L-18.98 38.48 L-18.40 37.16 L-17.86 35.84 L-17.35 34.50 L-16.89 33.14 L-16.46 31.77 L-16.07 30.39 L-15.70 29.01 L-15.35 27.62 L-15.02 26.22 L-14.70 24.83 L-14.40 23.43 L-14.10 22.03 L-13.82 20.63 L-13.55 19.22 L-13.28 17.82 L-13.02 16.41 L-12.78 15.01 L-12.53 13.60 L-12.30 12.19Z" fill="#f7bcaa" stroke="#d0914a" stroke-width="3.52" stroke-linejoin="round"/><path d="M-12.07 10.79 L-13.47 10.77 L-14.88 10.77 L-16.28 10.82 L-17.68 10.88 L-19.09 10.98 L-20.48 11.09 L-21.88 11.23 L-23.28 11.37 L-24.67 11.56 L-26.06 11.73 L-27.44 11.95 L-28.83 12.17 L-30.21 12.41 L-31.58 12.67 L-32.96 12.93 L-34.33 13.22 L-35.70 13.51 L-37.06 13.83 L-38.42 14.16 L-39.78 14.50 L-41.13 14.87 L-42.48 15.24 L-43.82 15.64 L-45.16 16.05 L-46.49 16.46 L-47.82 16.92 L-49.14 17.37 L-50.45 17.86 L-51.76 18.37 L-53.06 18.89 L-54.35 19.43 L-55.64 19.99 L-56.92 20.55 L-58.20 21.14 L-59.46 21.74 L-60.73 22.36 L-61.98 22.99 L-63.23 23.64 L-64.47 24.29 L-65.70 24.97 L-66.93 25.65 L-68.15 26.33 L-69.36 27.04 L-70.55 27.76 L-71.75 28.48 L-72.92 29.23 L-74.08 29.99 L-75.23 30.76 L-76.35 31.54 L-77.45 32.33 L-78.52 33.13 L-79.56 33.94 L-80.57 34.74 L-81.57 35.54 L-82.54 36.34 L-83.49 37.14 L-84.43 37.93 L-85.36 38.71 L-86.26 39.48 L-87.16 40.24 L-88.04 40.99 L-88.91 41.73 L-89.79 42.45 L-90.64 43.19 L-91.47 43.94 L-92.28 44.71 L-93.05 45.53 L-93.73 46.41 L-94.26 47.40 L-94.41 48.54 L-94.27 49.90 L-93.93 51.21 L-93.42 52.45 L-92.78 53.62 L-92.04 54.72 L-91.60 56.08 L-91.12 57.50 L-90.36 58.69 L-89.30 59.60 L-88.01 60.21 L-86.54 60.54 L-84.98 60.66 L-84.18 61.91 L-83.36 63.21 L-82.38 64.28 L-81.20 65.06 L-79.82 65.47 L-78.30 65.58 L-76.68 65.45 L-75.50 66.24 L-74.49 67.50 L-73.34 68.51 L-72.02 69.16 L-70.55 69.39 L-68.99 69.25 L-67.39 68.81 L-66.04 69.30 L-64.76 70.34 L-63.38 71.06 L-61.92 71.38 L-60.42 71.24 L-58.94 70.69 L-57.51 69.87 L-56.07 70.02 L-54.58 70.70 L-53.07 71.06 L-51.59 71.01 L-50.18 70.51 L-48.88 69.62 L-47.67 68.49 L-46.24 68.31 L-44.62 68.61 L-43.06 68.55 L-41.64 68.09 L-40.41 67.22 L-39.40 65.97 L-38.62 64.51 L-37.30 63.92 L-35.68 63.62 L-34.23 63.00 L-33.06 62.03 L-32.28 60.72 L-31.83 59.20 L-31.61 57.55 L-30.48 56.61 L-29.61 55.47 L-28.74 54.33 L-27.89 53.17 L-27.05 52.01 L-26.23 50.84 L-25.41 49.66 L-24.61 48.46 L-23.83 47.26 L-23.07 46.05 L-22.33 44.82 L-21.61 43.58 L-20.91 42.32 L-20.24 41.06 L-19.60 39.77 L-18.98 38.48 L-18.40 37.16 L-17.86 35.84 L-17.35 34.50 L-16.89 33.14 L-16.46 31.77 L-16.07 30.39 L-15.70 29.01 L-15.35 27.62 L-15.02 26.22 L-14.70 24.83 L-14.40 23.43 L-14.10 22.03 L-13.82 20.63 L-13.55 19.22 L-13.28 17.82 L-13.02 16.41 L-12.78 15.01 L-12.53 13.60 L-12.30 12.19Z" fill="none" stroke="#fcefc8" stroke-width="2.20" stroke-linejoin="round"/>
<path d="M-16.91 14.74 L-18.09 14.74 L-19.26 14.76 L-20.44 14.81 L-21.62 14.85 L-22.79 14.91 L-23.97 14.99 L-25.14 15.07 L-26.31 15.16 L-27.48 15.28 L-28.65 15.38 L-29.81 15.52 L-30.98 15.65 L-32.14 15.80 L-33.30 15.95 L-34.46 16.12 L-35.61 16.30 L-36.77 16.48 L-37.92 16.69 L-39.07 16.89 L-40.21 17.12 L-41.36 17.36 L-42.50 17.60 L-43.64 17.87 L-44.77 18.15 L-45.90 18.44 L-47.03 18.76 L-48.15 19.09 L-49.27 19.44 L-50.38 19.81 L-51.48 20.20 L-52.58 20.61 L-53.67 21.04 L-54.76 21.49 L-55.84 21.96 L-56.91 22.45 L-57.96 22.97 L-59.01 23.50 L-60.05 24.06 L-61.08 24.63 L-62.09 25.23 L-63.10 25.83 L-64.10 26.45 L-65.08 27.09 L-66.04 27.75 L-66.99 28.42 L-67.90 29.12 L-68.79 29.84 L-69.64 30.58 L-70.44 31.35 L-71.19 32.13 L-71.88 32.91 L-72.51 33.69 L-73.07 34.47 L-73.60 35.22 L-74.08 35.96 L-74.53 36.68 L-74.94 37.37 L-75.32 38.03 L-75.68 38.66 L-76.01 39.24 L-76.32 39.78 L-76.62 40.28 L-76.92 40.74 L-77.22 41.18 L-77.50 41.62 L-77.77 42.04 L-78.02 42.47 L-78.22 42.94 L-78.33 43.45 L-78.19 44.06 L-78.27 45.06 L-78.22 46.02 L-78.06 46.96 L-77.80 47.85 L-77.47 48.70 L-77.55 49.76 L-76.66 50.33 L-75.71 50.79 L-75.59 51.82 L-75.46 52.88 L-75.18 53.92 L-74.73 54.89 L-74.10 55.71 L-73.31 56.38 L-72.37 56.88 L-71.31 57.22 L-70.12 57.41 L-68.89 57.49 L-68.20 58.37 L-67.58 59.46 L-66.84 60.43 L-65.96 61.22 L-64.92 61.78 L-63.76 62.06 L-62.52 62.08 L-61.24 61.86 L-59.98 61.46 L-58.95 62.04 L-57.89 62.82 L-56.77 63.42 L-55.59 63.75 L-54.40 63.78 L-53.23 63.51 L-52.10 62.98 L-51.03 62.25 L-50.02 61.40 L-48.81 61.81 L-47.56 62.16 L-46.32 62.31 L-45.12 62.22 L-44.01 61.83 L-42.99 61.18 L-42.10 60.29 L-41.34 59.23 L-40.60 58.23 L-39.28 58.24 L-37.99 58.08 L-36.79 57.73 L-35.73 57.10 L-34.88 56.24 L-34.26 55.17 L-33.87 53.95 L-33.66 52.65 L-33.19 51.58 L-32.20 50.90 L-31.52 49.99 L-30.84 49.08 L-30.18 48.15 L-29.53 47.22 L-28.89 46.28 L-28.26 45.33 L-27.64 44.38 L-27.04 43.41 L-26.45 42.44 L-25.87 41.46 L-25.31 40.47 L-24.77 39.47 L-24.24 38.46 L-23.74 37.44 L-23.25 36.41 L-22.78 35.37 L-22.34 34.32 L-21.93 33.26 L-21.54 32.19 L-21.17 31.12 L-20.83 30.04 L-20.51 28.95 L-20.19 27.86 L-19.89 26.77 L-19.59 25.68 L-19.30 24.58 L-19.02 23.49 L-18.75 22.39 L-18.47 21.30 L-18.21 20.20 L-17.94 19.10 L-17.68 18.01 L-17.42 16.92 L-17.16 15.83Z" fill="#f7bcaa" stroke="#d0914a" stroke-width="3.52" stroke-linejoin="round"/><path d="M-16.91 14.74 L-18.09 14.74 L-19.26 14.76 L-20.44 14.81 L-21.62 14.85 L-22.79 14.91 L-23.97 14.99 L-25.14 15.07 L-26.31 15.16 L-27.48 15.28 L-28.65 15.38 L-29.81 15.52 L-30.98 15.65 L-32.14 15.80 L-33.30 15.95 L-34.46 16.12 L-35.61 16.30 L-36.77 16.48 L-37.92 16.69 L-39.07 16.89 L-40.21 17.12 L-41.36 17.36 L-42.50 17.60 L-43.64 17.87 L-44.77 18.15 L-45.90 18.44 L-47.03 18.76 L-48.15 19.09 L-49.27 19.44 L-50.38 19.81 L-51.48 20.20 L-52.58 20.61 L-53.67 21.04 L-54.76 21.49 L-55.84 21.96 L-56.91 22.45 L-57.96 22.97 L-59.01 23.50 L-60.05 24.06 L-61.08 24.63 L-62.09 25.23 L-63.10 25.83 L-64.10 26.45 L-65.08 27.09 L-66.04 27.75 L-66.99 28.42 L-67.90 29.12 L-68.79 29.84 L-69.64 30.58 L-70.44 31.35 L-71.19 32.13 L-71.88 32.91 L-72.51 33.69 L-73.07 34.47 L-73.60 35.22 L-74.08 35.96 L-74.53 36.68 L-74.94 37.37 L-75.32 38.03 L-75.68 38.66 L-76.01 39.24 L-76.32 39.78 L-76.62 40.28 L-76.92 40.74 L-77.22 41.18 L-77.50 41.62 L-77.77 42.04 L-78.02 42.47 L-78.22 42.94 L-78.33 43.45 L-78.19 44.06 L-78.27 45.06 L-78.22 46.02 L-78.06 46.96 L-77.80 47.85 L-77.47 48.70 L-77.55 49.76 L-76.66 50.33 L-75.71 50.79 L-75.59 51.82 L-75.46 52.88 L-75.18 53.92 L-74.73 54.89 L-74.10 55.71 L-73.31 56.38 L-72.37 56.88 L-71.31 57.22 L-70.12 57.41 L-68.89 57.49 L-68.20 58.37 L-67.58 59.46 L-66.84 60.43 L-65.96 61.22 L-64.92 61.78 L-63.76 62.06 L-62.52 62.08 L-61.24 61.86 L-59.98 61.46 L-58.95 62.04 L-57.89 62.82 L-56.77 63.42 L-55.59 63.75 L-54.40 63.78 L-53.23 63.51 L-52.10 62.98 L-51.03 62.25 L-50.02 61.40 L-48.81 61.81 L-47.56 62.16 L-46.32 62.31 L-45.12 62.22 L-44.01 61.83 L-42.99 61.18 L-42.10 60.29 L-41.34 59.23 L-40.60 58.23 L-39.28 58.24 L-37.99 58.08 L-36.79 57.73 L-35.73 57.10 L-34.88 56.24 L-34.26 55.17 L-33.87 53.95 L-33.66 52.65 L-33.19 51.58 L-32.20 50.90 L-31.52 49.99 L-30.84 49.08 L-30.18 48.15 L-29.53 47.22 L-28.89 46.28 L-28.26 45.33 L-27.64 44.38 L-27.04 43.41 L-26.45 42.44 L-25.87 41.46 L-25.31 40.47 L-24.77 39.47 L-24.24 38.46 L-23.74 37.44 L-23.25 36.41 L-22.78 35.37 L-22.34 34.32 L-21.93 33.26 L-21.54 32.19 L-21.17 31.12 L-20.83 30.04 L-20.51 28.95 L-20.19 27.86 L-19.89 26.77 L-19.59 25.68 L-19.30 24.58 L-19.02 23.49 L-18.75 22.39 L-18.47 21.30 L-18.21 20.20 L-17.94 19.10 L-17.68 18.01 L-17.42 16.92 L-17.16 15.83Z" fill="none" stroke="#fcefc8" stroke-width="2.20" stroke-linejoin="round"/>
<path d="M-23.78 20.09 L-24.65 20.11 L-25.51 20.14 L-26.37 20.18 L-27.23 20.20 L-28.09 20.24 L-28.95 20.27 L-29.81 20.30 L-30.67 20.34 L-31.53 20.38 L-32.39 20.41 L-33.24 20.46 L-34.10 20.51 L-34.95 20.56 L-35.81 20.61 L-36.66 20.67 L-37.51 20.74 L-38.36 20.82 L-39.21 20.90 L-40.06 20.98 L-40.91 21.09 L-41.76 21.19 L-42.61 21.30 L-43.45 21.44 L-44.29 21.58 L-45.13 21.72 L-45.97 21.89 L-46.81 22.08 L-47.64 22.28 L-48.47 22.49 L-49.29 22.73 L-50.11 22.99 L-50.92 23.26 L-51.73 23.57 L-52.53 23.88 L-53.31 24.24 L-54.09 24.62 L-54.85 25.01 L-55.60 25.44 L-56.34 25.88 L-57.07 26.34 L-57.78 26.82 L-58.48 27.31 L-59.17 27.83 L-59.82 28.37 L-60.47 28.92 L-61.06 29.51 L-61.62 30.13 L-62.13 30.77 L-62.58 31.44 L-62.96 32.12 L-63.25 32.81 L-63.46 33.50 L-63.59 34.16 L-63.66 34.80 L-63.67 35.41 L-63.64 35.99 L-63.56 36.53 L-63.44 37.02 L-63.29 37.45 L-63.10 37.82 L-62.90 38.13 L-62.68 38.37 L-62.46 38.56 L-62.25 38.71 L-62.03 38.83 L-61.81 38.90 L-61.59 38.96 L-61.36 39.02 L-61.10 39.08 L-60.74 39.18 L-61.00 39.76 L-61.20 40.33 L-61.35 40.90 L-61.45 41.46 L-61.51 42.02 L-61.53 42.57 L-61.52 43.12 L-61.48 43.67 L-61.40 44.23 L-61.30 44.78 L-61.14 45.35 L-60.95 45.91 L-60.72 46.46 L-60.42 47.02 L-60.09 47.57 L-59.73 48.12 L-59.31 48.66 L-58.85 49.18 L-58.36 49.69 L-57.83 50.17 L-57.27 50.63 L-56.68 51.07 L-56.05 51.47 L-55.39 51.82 L-54.69 52.12 L-53.98 52.38 L-53.24 52.58 L-52.49 52.73 L-51.73 52.82 L-50.96 52.86 L-50.20 52.86 L-49.43 52.82 L-48.68 52.74 L-47.92 52.63 L-47.18 52.49 L-46.44 52.32 L-45.70 52.13 L-44.98 51.90 L-44.26 51.66 L-43.55 51.39 L-42.84 51.10 L-42.15 50.79 L-41.47 50.44 L-40.81 50.06 L-40.15 49.68 L-39.52 49.25 L-38.92 48.78 L-38.33 48.30 L-37.75 47.79 L-37.21 47.25 L-36.70 46.69 L-36.21 46.10 L-35.73 45.50 L-35.27 44.88 L-34.82 44.26 L-34.37 43.64 L-33.93 43.02 L-33.50 42.38 L-33.08 41.74 L-32.67 41.09 L-32.25 40.45 L-31.86 39.79 L-31.47 39.13 L-31.09 38.47 L-30.71 37.80 L-30.34 37.12 L-29.99 36.44 L-29.64 35.76 L-29.30 35.07 L-28.98 34.38 L-28.66 33.68 L-28.35 32.98 L-28.06 32.27 L-27.77 31.56 L-27.50 30.84 L-27.24 30.13 L-26.98 29.41 L-26.73 28.69 L-26.48 27.96 L-26.23 27.24 L-25.99 26.52 L-25.75 25.80 L-25.51 25.08 L-25.26 24.36 L-25.02 23.65 L-24.78 22.93 L-24.53 22.22 L-24.28 21.51 L-24.03 20.80Z" fill="#f5b2a0" stroke="#d0914a" stroke-width="3.52" stroke-linejoin="round"/><path d="M-23.78 20.09 L-24.65 20.11 L-25.51 20.14 L-26.37 20.18 L-27.23 20.20 L-28.09 20.24 L-28.95 20.27 L-29.81 20.30 L-30.67 20.34 L-31.53 20.38 L-32.39 20.41 L-33.24 20.46 L-34.10 20.51 L-34.95 20.56 L-35.81 20.61 L-36.66 20.67 L-37.51 20.74 L-38.36 20.82 L-39.21 20.90 L-40.06 20.98 L-40.91 21.09 L-41.76 21.19 L-42.61 21.30 L-43.45 21.44 L-44.29 21.58 L-45.13 21.72 L-45.97 21.89 L-46.81 22.08 L-47.64 22.28 L-48.47 22.49 L-49.29 22.73 L-50.11 22.99 L-50.92 23.26 L-51.73 23.57 L-52.53 23.88 L-53.31 24.24 L-54.09 24.62 L-54.85 25.01 L-55.60 25.44 L-56.34 25.88 L-57.07 26.34 L-57.78 26.82 L-58.48 27.31 L-59.17 27.83 L-59.82 28.37 L-60.47 28.92 L-61.06 29.51 L-61.62 30.13 L-62.13 30.77 L-62.58 31.44 L-62.96 32.12 L-63.25 32.81 L-63.46 33.50 L-63.59 34.16 L-63.66 34.80 L-63.67 35.41 L-63.64 35.99 L-63.56 36.53 L-63.44 37.02 L-63.29 37.45 L-63.10 37.82 L-62.90 38.13 L-62.68 38.37 L-62.46 38.56 L-62.25 38.71 L-62.03 38.83 L-61.81 38.90 L-61.59 38.96 L-61.36 39.02 L-61.10 39.08 L-60.74 39.18 L-61.00 39.76 L-61.20 40.33 L-61.35 40.90 L-61.45 41.46 L-61.51 42.02 L-61.53 42.57 L-61.52 43.12 L-61.48 43.67 L-61.40 44.23 L-61.30 44.78 L-61.14 45.35 L-60.95 45.91 L-60.72 46.46 L-60.42 47.02 L-60.09 47.57 L-59.73 48.12 L-59.31 48.66 L-58.85 49.18 L-58.36 49.69 L-57.83 50.17 L-57.27 50.63 L-56.68 51.07 L-56.05 51.47 L-55.39 51.82 L-54.69 52.12 L-53.98 52.38 L-53.24 52.58 L-52.49 52.73 L-51.73 52.82 L-50.96 52.86 L-50.20 52.86 L-49.43 52.82 L-48.68 52.74 L-47.92 52.63 L-47.18 52.49 L-46.44 52.32 L-45.70 52.13 L-44.98 51.90 L-44.26 51.66 L-43.55 51.39 L-42.84 51.10 L-42.15 50.79 L-41.47 50.44 L-40.81 50.06 L-40.15 49.68 L-39.52 49.25 L-38.92 48.78 L-38.33 48.30 L-37.75 47.79 L-37.21 47.25 L-36.70 46.69 L-36.21 46.10 L-35.73 45.50 L-35.27 44.88 L-34.82 44.26 L-34.37 43.64 L-33.93 43.02 L-33.50 42.38 L-33.08 41.74 L-32.67 41.09 L-32.25 40.45 L-31.86 39.79 L-31.47 39.13 L-31.09 38.47 L-30.71 37.80 L-30.34 37.12 L-29.99 36.44 L-29.64 35.76 L-29.30 35.07 L-28.98 34.38 L-28.66 33.68 L-28.35 32.98 L-28.06 32.27 L-27.77 31.56 L-27.50 30.84 L-27.24 30.13 L-26.98 29.41 L-26.73 28.69 L-26.48 27.96 L-26.23 27.24 L-25.99 26.52 L-25.75 25.80 L-25.51 25.08 L-25.26 24.36 L-25.02 23.65 L-24.78 22.93 L-24.53 22.22 L-24.28 21.51 L-24.03 20.80Z" fill="none" stroke="#fcefc8" stroke-width="2.20" stroke-linejoin="round"/>
<path d="M-65.00 50.50 L-65.53 50.50 L-66.07 50.47 L-66.60 50.43 L-67.13 50.38 L-67.66 50.32 L-68.19 50.27 L-68.73 50.21 L-69.26 50.16 L-69.79 50.13 L-70.32 50.11 L-70.86 50.11 L-71.39 50.14 L-71.92 50.21 L-72.44 50.33 L-72.94 50.50 L-73.42 50.75 L-73.85 51.06 L-74.26 51.41 L-74.60 51.81 L-74.85 52.28 L-74.96 52.80 L-74.90 53.33 L-74.69 53.82 L-74.38 54.25 L-73.98 54.61 L-73.51 54.84 L-72.99 54.94 L-72.45 54.89 L-71.95 54.72 L-71.47 54.48 L-71.90 54.80 L-72.28 55.17 L-72.56 55.63 L-72.71 56.14 L-72.72 56.67 L-72.58 57.18 L-72.33 57.66 L-71.99 58.06 L-71.55 58.35 L-71.03 58.49 L-70.50 58.48 L-69.98 58.35 L-69.49 58.15 L-69.02 57.90 L-68.59 57.59 L-68.20 57.22 L-67.86 56.81 L-67.56 56.37 L-67.29 55.91 L-67.05 55.43 L-66.83 54.94 L-66.62 54.45 L-66.42 53.96 L-66.23 53.46 L-66.04 52.96 L-65.86 52.46 L-65.66 51.96 L-65.46 51.47 L-65.24 50.98Z" fill="#f48a69" stroke="#d0914a" stroke-width="3.96" stroke-linejoin="round"/>
<path d="M-65.00 50.50 L-65.53 50.50 L-66.07 50.47 L-66.60 50.43 L-67.13 50.38 L-67.66 50.32 L-68.19 50.27 L-68.73 50.21 L-69.26 50.16 L-69.79 50.13 L-70.32 50.11 L-70.86 50.11 L-71.39 50.14 L-71.92 50.21 L-72.44 50.33 L-72.94 50.50 L-73.42 50.75 L-73.85 51.06 L-74.26 51.41 L-74.60 51.81 L-74.85 52.28 L-74.96 52.80 L-74.90 53.33 L-74.69 53.82 L-74.38 54.25 L-73.98 54.61 L-73.51 54.84 L-72.99 54.94 L-72.45 54.89 L-71.95 54.72 L-71.47 54.48 L-71.90 54.80 L-72.28 55.17 L-72.56 55.63 L-72.71 56.14 L-72.72 56.67 L-72.58 57.18 L-72.33 57.66 L-71.99 58.06 L-71.55 58.35 L-71.03 58.49 L-70.50 58.48 L-69.98 58.35 L-69.49 58.15 L-69.02 57.90 L-68.59 57.59 L-68.20 57.22 L-67.86 56.81 L-67.56 56.37 L-67.29 55.91 L-67.05 55.43 L-66.83 54.94 L-66.62 54.45 L-66.42 53.96 L-66.23 53.46 L-66.04 52.96 L-65.86 52.46 L-65.66 51.96 L-65.46 51.47 L-65.24 50.98Z" fill="#f48a69" stroke="#fcefc8" stroke-width="2.20" stroke-linejoin="round"/>
<path d="M-65.00 50.50 L-65.53 50.50 L-66.07 50.47 L-66.60 50.43 L-67.13 50.38 L-67.66 50.32 L-68.19 50.27 L-68.73 50.21 L-69.26 50.16 L-69.79 50.13 L-70.32 50.11 L-70.86 50.11 L-71.39 50.14 L-71.92 50.21 L-72.44 50.33 L-72.94 50.50 L-73.42 50.75 L-73.85 51.06 L-74.26 51.41 L-74.60 51.81 L-74.85 52.28 L-74.96 52.80 L-74.90 53.33 L-74.69 53.82 L-74.38 54.25 L-73.98 54.61 L-73.51 54.84 L-72.99 54.94 L-72.45 54.89 L-71.95 54.72 L-71.47 54.48 L-71.90 54.80 L-72.28 55.17 L-72.56 55.63 L-72.71 56.14 L-72.72 56.67 L-72.58 57.18 L-72.33 57.66 L-71.99 58.06 L-71.55 58.35 L-71.03 58.49 L-70.50 58.48 L-69.98 58.35 L-69.49 58.15 L-69.02 57.90 L-68.59 57.59 L-68.20 57.22 L-67.86 56.81 L-67.56 56.37 L-67.29 55.91 L-67.05 55.43 L-66.83 54.94 L-66.62 54.45 L-66.42 53.96 L-66.23 53.46 L-66.04 52.96 L-65.86 52.46 L-65.66 51.96 L-65.46 51.47 L-65.24 50.98Z" fill="#f48a69" stroke="#d0914a" stroke-width="0.77" stroke-linejoin="round"/>
<path d="M-31.00 25.50 L-31.53 25.53 L-32.07 25.57 L-32.60 25.60 L-33.14 25.60 L-33.67 25.61 L-34.21 25.61 L-34.75 25.60 L-35.28 25.59 L-35.82 25.58 L-36.35 25.57 L-36.89 25.55 L-37.42 25.53 L-37.96 25.51 L-38.49 25.50 L-39.03 25.48 L-39.56 25.46 L-40.10 25.45 L-40.63 25.44 L-41.17 25.43 L-41.71 25.44 L-42.24 25.45 L-42.78 25.45 L-43.31 25.48 L-43.85 25.51 L-44.38 25.54 L-44.91 25.59 L-45.45 25.65 L-45.98 25.72 L-46.51 25.80 L-47.03 25.91 L-47.55 26.02 L-48.07 26.16 L-48.58 26.33 L-49.09 26.50 L-49.58 26.71 L-50.05 26.95 L-50.53 27.20 L-50.99 27.48 L-51.43 27.77 L-51.87 28.09 L-52.29 28.41 L-52.70 28.76 L-53.10 29.12 L-53.46 29.51 L-53.81 29.91 L-54.12 30.35 L-54.39 30.82 L-54.60 31.30 L-54.76 31.82 L-54.83 32.35 L-54.82 32.88 L-54.72 33.41 L-54.54 33.91 L-54.29 34.39 L-53.99 34.83 L-53.64 35.23 L-53.25 35.60 L-52.82 35.91 L-52.34 36.15 L-51.84 36.34 L-51.32 36.45 L-50.78 36.48 L-50.25 36.46 L-49.72 36.40 L-49.19 36.29 L-48.68 36.12 L-48.18 35.93 L-47.70 35.71 L-47.22 35.46 L-46.76 35.19 L-47.10 35.43 L-47.45 35.66 L-47.78 35.91 L-48.10 36.17 L-48.41 36.45 L-48.70 36.75 L-48.98 37.06 L-49.24 37.39 L-49.46 37.74 L-49.68 38.09 L-49.84 38.48 L-49.98 38.87 L-50.08 39.27 L-50.13 39.69 L-50.13 40.10 L-50.11 40.52 L-50.02 40.92 L-49.90 41.32 L-49.75 41.71 L-49.55 42.08 L-49.33 42.43 L-49.08 42.76 L-48.79 43.06 L-48.47 43.32 L-48.12 43.54 L-47.74 43.73 L-47.35 43.86 L-46.94 43.93 L-46.53 43.98 L-46.11 43.98 L-45.70 43.94 L-45.28 43.88 L-44.88 43.79 L-44.48 43.68 L-44.08 43.55 L-43.69 43.40 L-43.31 43.24 L-42.93 43.06 L-42.56 42.88 L-42.19 42.68 L-41.83 42.48 L-41.47 42.27 L-41.13 42.03 L-40.79 41.78 L-40.46 41.53 L-40.13 41.27 L-39.84 40.98 L-39.54 40.69 L-39.24 40.40 L-38.97 40.09 L-38.71 39.76 L-38.45 39.44 L-38.18 39.11 L-37.95 38.77 L-37.71 38.42 L-37.48 38.08 L-37.25 37.73 L-37.04 37.37 L-36.83 37.01 L-36.62 36.65 L-36.41 36.29 L-36.21 35.93 L-36.02 35.56 L-35.83 35.19 L-35.64 34.82 L-35.45 34.45 L-35.27 34.07 L-35.09 33.70 L-34.91 33.32 L-34.73 32.95 L-34.55 32.57 L-34.37 32.19 L-34.20 31.81 L-34.02 31.43 L-33.85 31.06 L-33.67 30.68 L-33.50 30.30 L-33.32 29.92 L-33.14 29.55 L-32.96 29.17 L-32.78 28.80 L-32.60 28.42 L-32.41 28.05 L-32.22 27.68 L-32.03 27.31 L-31.84 26.94 L-31.63 26.58 L-31.42 26.22 L-31.21 25.86Z" fill="#f48a69" stroke="#d0914a" stroke-width="4.73" stroke-linejoin="round"/>
<path d="M-31.00 25.50 L-31.53 25.53 L-32.07 25.57 L-32.60 25.60 L-33.14 25.60 L-33.67 25.61 L-34.21 25.61 L-34.75 25.60 L-35.28 25.59 L-35.82 25.58 L-36.35 25.57 L-36.89 25.55 L-37.42 25.53 L-37.96 25.51 L-38.49 25.50 L-39.03 25.48 L-39.56 25.46 L-40.10 25.45 L-40.63 25.44 L-41.17 25.43 L-41.71 25.44 L-42.24 25.45 L-42.78 25.45 L-43.31 25.48 L-43.85 25.51 L-44.38 25.54 L-44.91 25.59 L-45.45 25.65 L-45.98 25.72 L-46.51 25.80 L-47.03 25.91 L-47.55 26.02 L-48.07 26.16 L-48.58 26.33 L-49.09 26.50 L-49.58 26.71 L-50.05 26.95 L-50.53 27.20 L-50.99 27.48 L-51.43 27.77 L-51.87 28.09 L-52.29 28.41 L-52.70 28.76 L-53.10 29.12 L-53.46 29.51 L-53.81 29.91 L-54.12 30.35 L-54.39 30.82 L-54.60 31.30 L-54.76 31.82 L-54.83 32.35 L-54.82 32.88 L-54.72 33.41 L-54.54 33.91 L-54.29 34.39 L-53.99 34.83 L-53.64 35.23 L-53.25 35.60 L-52.82 35.91 L-52.34 36.15 L-51.84 36.34 L-51.32 36.45 L-50.78 36.48 L-50.25 36.46 L-49.72 36.40 L-49.19 36.29 L-48.68 36.12 L-48.18 35.93 L-47.70 35.71 L-47.22 35.46 L-46.76 35.19 L-47.10 35.43 L-47.45 35.66 L-47.78 35.91 L-48.10 36.17 L-48.41 36.45 L-48.70 36.75 L-48.98 37.06 L-49.24 37.39 L-49.46 37.74 L-49.68 38.09 L-49.84 38.48 L-49.98 38.87 L-50.08 39.27 L-50.13 39.69 L-50.13 40.10 L-50.11 40.52 L-50.02 40.92 L-49.90 41.32 L-49.75 41.71 L-49.55 42.08 L-49.33 42.43 L-49.08 42.76 L-48.79 43.06 L-48.47 43.32 L-48.12 43.54 L-47.74 43.73 L-47.35 43.86 L-46.94 43.93 L-46.53 43.98 L-46.11 43.98 L-45.70 43.94 L-45.28 43.88 L-44.88 43.79 L-44.48 43.68 L-44.08 43.55 L-43.69 43.40 L-43.31 43.24 L-42.93 43.06 L-42.56 42.88 L-42.19 42.68 L-41.83 42.48 L-41.47 42.27 L-41.13 42.03 L-40.79 41.78 L-40.46 41.53 L-40.13 41.27 L-39.84 40.98 L-39.54 40.69 L-39.24 40.40 L-38.97 40.09 L-38.71 39.76 L-38.45 39.44 L-38.18 39.11 L-37.95 38.77 L-37.71 38.42 L-37.48 38.08 L-37.25 37.73 L-37.04 37.37 L-36.83 37.01 L-36.62 36.65 L-36.41 36.29 L-36.21 35.93 L-36.02 35.56 L-35.83 35.19 L-35.64 34.82 L-35.45 34.45 L-35.27 34.07 L-35.09 33.70 L-34.91 33.32 L-34.73 32.95 L-34.55 32.57 L-34.37 32.19 L-34.20 31.81 L-34.02 31.43 L-33.85 31.06 L-33.67 30.68 L-33.50 30.30 L-33.32 29.92 L-33.14 29.55 L-32.96 29.17 L-32.78 28.80 L-32.60 28.42 L-32.41 28.05 L-32.22 27.68 L-32.03 27.31 L-31.84 26.94 L-31.63 26.58 L-31.42 26.22 L-31.21 25.86Z" fill="#f48a69" stroke="#fcefc8" stroke-width="3.30" stroke-linejoin="round"/>
<path d="M-31.00 25.50 L-31.53 25.53 L-32.07 25.57 L-32.60 25.60 L-33.14 25.60 L-33.67 25.61 L-34.21 25.61 L-34.75 25.60 L-35.28 25.59 L-35.82 25.58 L-36.35 25.57 L-36.89 25.55 L-37.42 25.53 L-37.96 25.51 L-38.49 25.50 L-39.03 25.48 L-39.56 25.46 L-40.10 25.45 L-40.63 25.44 L-41.17 25.43 L-41.71 25.44 L-42.24 25.45 L-42.78 25.45 L-43.31 25.48 L-43.85 25.51 L-44.38 25.54 L-44.91 25.59 L-45.45 25.65 L-45.98 25.72 L-46.51 25.80 L-47.03 25.91 L-47.55 26.02 L-48.07 26.16 L-48.58 26.33 L-49.09 26.50 L-49.58 26.71 L-50.05 26.95 L-50.53 27.20 L-50.99 27.48 L-51.43 27.77 L-51.87 28.09 L-52.29 28.41 L-52.70 28.76 L-53.10 29.12 L-53.46 29.51 L-53.81 29.91 L-54.12 30.35 L-54.39 30.82 L-54.60 31.30 L-54.76 31.82 L-54.83 32.35 L-54.82 32.88 L-54.72 33.41 L-54.54 33.91 L-54.29 34.39 L-53.99 34.83 L-53.64 35.23 L-53.25 35.60 L-52.82 35.91 L-52.34 36.15 L-51.84 36.34 L-51.32 36.45 L-50.78 36.48 L-50.25 36.46 L-49.72 36.40 L-49.19 36.29 L-48.68 36.12 L-48.18 35.93 L-47.70 35.71 L-47.22 35.46 L-46.76 35.19 L-47.10 35.43 L-47.45 35.66 L-47.78 35.91 L-48.10 36.17 L-48.41 36.45 L-48.70 36.75 L-48.98 37.06 L-49.24 37.39 L-49.46 37.74 L-49.68 38.09 L-49.84 38.48 L-49.98 38.87 L-50.08 39.27 L-50.13 39.69 L-50.13 40.10 L-50.11 40.52 L-50.02 40.92 L-49.90 41.32 L-49.75 41.71 L-49.55 42.08 L-49.33 42.43 L-49.08 42.76 L-48.79 43.06 L-48.47 43.32 L-48.12 43.54 L-47.74 43.73 L-47.35 43.86 L-46.94 43.93 L-46.53 43.98 L-46.11 43.98 L-45.70 43.94 L-45.28 43.88 L-44.88 43.79 L-44.48 43.68 L-44.08 43.55 L-43.69 43.40 L-43.31 43.24 L-42.93 43.06 L-42.56 42.88 L-42.19 42.68 L-41.83 42.48 L-41.47 42.27 L-41.13 42.03 L-40.79 41.78 L-40.46 41.53 L-40.13 41.27 L-39.84 40.98 L-39.54 40.69 L-39.24 40.40 L-38.97 40.09 L-38.71 39.76 L-38.45 39.44 L-38.18 39.11 L-37.95 38.77 L-37.71 38.42 L-37.48 38.08 L-37.25 37.73 L-37.04 37.37 L-36.83 37.01 L-36.62 36.65 L-36.41 36.29 L-36.21 35.93 L-36.02 35.56 L-35.83 35.19 L-35.64 34.82 L-35.45 34.45 L-35.27 34.07 L-35.09 33.70 L-34.91 33.32 L-34.73 32.95 L-34.55 32.57 L-34.37 32.19 L-34.20 31.81 L-34.02 31.43 L-33.85 31.06 L-33.67 30.68 L-33.50 30.30 L-33.32 29.92 L-33.14 29.55 L-32.96 29.17 L-32.78 28.80 L-32.60 28.42 L-32.41 28.05 L-32.22 27.68 L-32.03 27.31 L-31.84 26.94 L-31.63 26.58 L-31.42 26.22 L-31.21 25.86Z" fill="#f48a69" stroke="#d0914a" stroke-width="0.99" stroke-linejoin="round"/>
<path d="M-10.00 9.00 L-11.50 8.97 L-13.01 8.96 L-14.51 9.01 L-16.01 9.08 L-17.51 9.19 L-19.01 9.32 L-20.50 9.49 L-21.99 9.67 L-23.48 9.89 L-24.97 10.11 L-26.45 10.38 L-27.93 10.65 L-29.40 10.94 L-30.87 11.25 L-32.34 11.57 L-33.81 11.93 L-35.27 12.28 L-36.72 12.67 L-38.17 13.06 L-39.62 13.47 L-41.06 13.91 L-42.49 14.35 L-43.92 14.82 L-45.35 15.30 L-46.77 15.79 L-48.18 16.32 L-49.58 16.84 L-50.98 17.41 L-52.37 17.99 L-53.75 18.57 L-55.12 19.19 L-56.49 19.80 L-57.86 20.42 L-59.22 21.08 L-60.58 21.73 L-61.93 22.38 L-63.27 23.06 L-64.61 23.74 L-65.95 24.42 L-67.28 25.13 L-68.61 25.83 L-69.93 26.54 L-71.25 27.27 L-72.56 28.00 L-73.88 28.73 L-75.18 29.48 L-76.48 30.23 L-77.78 30.99 L-79.08 31.75 L-80.36 32.53 L-81.65 33.31 L-82.93 34.09 L-84.21 34.89 L-85.48 35.69 L-86.75 36.50 L-88.01 37.32 L-89.27 38.15 L-90.52 38.98 L-91.76 39.82 L-93.00 40.67 L-94.24 41.53 L-95.46 42.40 L-96.69 43.28 L-97.89 44.18 L-99.06 45.12 L-100.20 46.10 L-101.28 47.14 L-102.27 48.27 L-103.07 49.55 L-103.40 51.00 L-103.11 52.55 L-102.59 54.04 L-101.87 55.44 L-100.99 56.76 L-100.00 57.99 L-98.92 59.14 L-97.77 60.22 L-96.57 61.24 L-95.32 62.20 L-94.03 63.12 L-92.70 63.98 L-91.35 64.79 L-89.94 65.52 L-88.52 66.21 L-87.09 66.88 L-85.66 67.54 L-84.21 68.17 L-82.76 68.79 L-81.29 69.38 L-79.82 69.95 L-78.33 70.49 L-76.84 71.00 L-75.34 71.49 L-73.82 71.93 L-72.29 72.35 L-70.76 72.72 L-69.21 73.05 L-67.66 73.34 L-66.10 73.56 L-64.53 73.76 L-62.95 73.89 L-61.38 73.96 L-59.80 73.99 L-58.22 73.95 L-56.64 73.88 L-55.06 73.75 L-53.49 73.57 L-51.93 73.34 L-50.38 73.05 L-48.83 72.72 L-47.31 72.30 L-45.80 71.84 L-44.31 71.30 L-42.85 70.70 L-41.42 70.05 L-40.03 69.30 L-38.67 68.48 L-37.35 67.61 L-36.11 66.64 L-34.93 65.59 L-33.80 64.49 L-32.76 63.30 L-31.77 62.07 L-30.79 60.83 L-29.82 59.58 L-28.85 58.33 L-27.89 57.08 L-26.94 55.82 L-26.00 54.55 L-25.08 53.26 L-24.17 51.97 L-23.28 50.66 L-22.41 49.34 L-21.56 48.01 L-20.74 46.66 L-19.94 45.30 L-19.16 43.92 L-18.42 42.53 L-17.71 41.12 L-17.04 39.69 L-16.40 38.24 L-15.81 36.78 L-15.26 35.30 L-14.76 33.80 L-14.31 32.29 L-13.90 30.76 L-13.51 29.23 L-13.16 27.69 L-12.82 26.15 L-12.50 24.60 L-12.19 23.05 L-11.90 21.50 L-11.62 19.94 L-11.36 18.38 L-11.10 16.82 L-10.86 15.26 L-10.63 13.70 L-10.41 12.13 L-10.20 10.57Z" fill="none" stroke="#d0914a" stroke-width="1.98" stroke-linejoin="round"/></g><path id="antM" d="M3.79 2.62 C-2.5 -7.6 -6.8 -14.6 -10.32 -21.84 A2.3 2.3 0 0 0 -14.16 -19.32 C-10.4 -12.6 -3.6 -2.8 2.61 3.38Z" fill="#e9a982" stroke="#d0914a" stroke-width="1.21" stroke-linejoin="round"/><g id="mothM"><use href="#halfM"/><use href="#halfM" transform="scale(-1 1)"/><path d="M0 2.2 C-5 2.2 -10.5 5 -10.5 10.5 C-10.2 22 -9 34 -7.4 42 C-5.8 49 -2.8 55 0 60 C2.8 55 5.8 49 7.4 42 C9 34 10.2 22 10.5 10.5 C10.5 5 5 2.2 0 2.2Z" fill="#fbf0da" stroke="#d0914a" stroke-width="1.87"/>
<path d="M-5.3 9 q1.3 1.4 2.6 0" fill="none" stroke="#d9b07e" stroke-width="0.99"/>
<path d="M1.7 11 q1.3 1.4 2.6 0" fill="none" stroke="#d9b07e" stroke-width="0.99"/>
<path d="M-3.3 16 q1.3 1.4 2.6 0" fill="none" stroke="#d9b07e" stroke-width="0.99"/>
<path d="M3.2 19 q1.3 1.4 2.6 0" fill="none" stroke="#d9b07e" stroke-width="0.99"/>
<path d="M-6.3 23 q1.3 1.4 2.6 0" fill="none" stroke="#d9b07e" stroke-width="0.99"/>
<path d="M0.19999999999999996 25 q1.3 1.4 2.6 0" fill="none" stroke="#d9b07e" stroke-width="0.99"/>
<path d="M-4.3 31 q1.3 1.4 2.6 0" fill="none" stroke="#d9b07e" stroke-width="0.99"/>
<path d="M2.2 34 q1.3 1.4 2.6 0" fill="none" stroke="#d9b07e" stroke-width="0.99"/>
<path d="M-2.8 40 q1.3 1.4 2.6 0" fill="none" stroke="#d9b07e" stroke-width="0.99"/>
<path d="M0.7 46 q1.3 1.4 2.6 0" fill="none" stroke="#d9b07e" stroke-width="0.99"/>
<path d="M-1.8 52 q1.3 1.4 2.6 0" fill="none" stroke="#d9b07e" stroke-width="0.99"/><use href="#antM"/><use href="#antM" transform="scale(-1 1)"/></g><g id="halfL"><path d="M-2 14 C-16 16 -36 28 -48 48 C-54 58 -58 68 -58 76 C-57 86 -47 95 -28 97 C-16 97.5 -5 94 -1 87 C0 80 0 40 0 16Z" fill="#f7bcaa"/>
<path d="M-14.83 47.75 L-15.67 47.57 L-16.54 47.38 L-17.42 47.24 L-18.35 47.12 L-19.31 47.03 L-20.30 46.98 L-21.32 46.96 L-22.36 47.00 L-23.43 47.08 L-24.51 47.19 L-25.60 47.36 L-26.69 47.56 L-27.79 47.80 L-28.88 48.08 L-29.97 48.38 L-31.06 48.73 L-32.14 49.10 L-33.22 49.50 L-34.27 49.95 L-35.32 50.44 L-36.36 50.96 L-37.37 51.55 L-38.36 52.17 L-39.31 52.85 L-40.21 53.59 L-41.09 54.35 L-41.91 55.16 L-42.67 56.03 L-43.41 56.90 L-44.08 57.82 L-44.69 58.77 L-45.29 59.72 L-45.83 60.71 L-46.31 61.72 L-46.71 62.76 L-47.08 63.82 L-47.35 64.88 L-47.55 65.97 L-47.69 67.07 L-47.94 68.17 L-47.16 69.25 L-47.72 70.41 L-48.17 71.66 L-48.34 72.93 L-48.15 74.12 L-47.63 75.24 L-46.73 76.18 L-45.60 76.94 L-44.39 77.54 L-44.38 78.94 L-44.17 80.30 L-43.66 81.48 L-42.88 82.45 L-41.81 83.11 L-40.58 83.51 L-39.19 83.65 L-38.11 84.13 L-37.55 85.39 L-36.88 86.52 L-36.01 87.40 L-34.98 87.98 L-33.80 88.27 L-32.52 88.27 L-31.18 88.09 L-30.14 88.52 L-29.38 89.61 L-28.53 90.56 L-27.57 91.22 L-26.54 91.61 L-25.11 91.80 L-23.98 91.10 L-23.26 90.33 L-22.57 89.46 L-21.55 89.59 L-20.48 89.86 L-19.43 89.99 L-18.42 89.96 L-17.47 89.70 L-16.61 89.23 L-15.83 88.55 L-15.14 87.70 L-14.53 86.72 L-13.74 86.13 L-12.58 86.25 L-11.44 86.23 L-10.38 86.03 L-9.42 85.61 L-8.61 84.96 L-7.96 84.09 L-7.49 83.05 L-7.17 81.91 L-6.75 80.95 L-5.59 80.64 L-4.50 80.11 L-3.64 79.28 L-3.14 78.28 L-2.92 77.31 L-2.92 76.30 L-3.13 75.23 L-3.51 74.14 L-3.38 73.18 L-3.22 72.21 L-3.08 71.23 L-2.96 70.25 L-2.90 69.25 L-2.84 68.26 L-2.83 67.26 L-2.83 66.27 L-2.86 65.27 L-2.91 64.28 L-2.99 63.29 L-3.10 62.32 L-3.23 61.35 L-3.41 60.41 L-3.61 59.49 L-3.85 58.59 L-4.11 57.72 L-4.41 56.90 L-4.71 56.11 L-5.03 55.35 L-5.36 54.61 L-5.69 53.90 L-6.03 53.22 L-6.37 52.56 L-6.70 51.92 L-7.04 51.30 L-7.39 50.69 L-7.76 50.11 L-8.17 49.57 L-8.61 49.06 L-9.09 48.58 L-9.61 48.16 L-10.17 47.80 L-10.77 47.51 L-11.41 47.30 L-12.08 47.19 L-12.77 47.17 L-13.46 47.27 L-14.15 47.46Z" fill="#f7bcaa" stroke="#d0914a" stroke-width="3.20" stroke-linejoin="round"/><path d="M-14.83 47.75 L-15.67 47.57 L-16.54 47.38 L-17.42 47.24 L-18.35 47.12 L-19.31 47.03 L-20.30 46.98 L-21.32 46.96 L-22.36 47.00 L-23.43 47.08 L-24.51 47.19 L-25.60 47.36 L-26.69 47.56 L-27.79 47.80 L-28.88 48.08 L-29.97 48.38 L-31.06 48.73 L-32.14 49.10 L-33.22 49.50 L-34.27 49.95 L-35.32 50.44 L-36.36 50.96 L-37.37 51.55 L-38.36 52.17 L-39.31 52.85 L-40.21 53.59 L-41.09 54.35 L-41.91 55.16 L-42.67 56.03 L-43.41 56.90 L-44.08 57.82 L-44.69 58.77 L-45.29 59.72 L-45.83 60.71 L-46.31 61.72 L-46.71 62.76 L-47.08 63.82 L-47.35 64.88 L-47.55 65.97 L-47.69 67.07 L-47.94 68.17 L-47.16 69.25 L-47.72 70.41 L-48.17 71.66 L-48.34 72.93 L-48.15 74.12 L-47.63 75.24 L-46.73 76.18 L-45.60 76.94 L-44.39 77.54 L-44.38 78.94 L-44.17 80.30 L-43.66 81.48 L-42.88 82.45 L-41.81 83.11 L-40.58 83.51 L-39.19 83.65 L-38.11 84.13 L-37.55 85.39 L-36.88 86.52 L-36.01 87.40 L-34.98 87.98 L-33.80 88.27 L-32.52 88.27 L-31.18 88.09 L-30.14 88.52 L-29.38 89.61 L-28.53 90.56 L-27.57 91.22 L-26.54 91.61 L-25.11 91.80 L-23.98 91.10 L-23.26 90.33 L-22.57 89.46 L-21.55 89.59 L-20.48 89.86 L-19.43 89.99 L-18.42 89.96 L-17.47 89.70 L-16.61 89.23 L-15.83 88.55 L-15.14 87.70 L-14.53 86.72 L-13.74 86.13 L-12.58 86.25 L-11.44 86.23 L-10.38 86.03 L-9.42 85.61 L-8.61 84.96 L-7.96 84.09 L-7.49 83.05 L-7.17 81.91 L-6.75 80.95 L-5.59 80.64 L-4.50 80.11 L-3.64 79.28 L-3.14 78.28 L-2.92 77.31 L-2.92 76.30 L-3.13 75.23 L-3.51 74.14 L-3.38 73.18 L-3.22 72.21 L-3.08 71.23 L-2.96 70.25 L-2.90 69.25 L-2.84 68.26 L-2.83 67.26 L-2.83 66.27 L-2.86 65.27 L-2.91 64.28 L-2.99 63.29 L-3.10 62.32 L-3.23 61.35 L-3.41 60.41 L-3.61 59.49 L-3.85 58.59 L-4.11 57.72 L-4.41 56.90 L-4.71 56.11 L-5.03 55.35 L-5.36 54.61 L-5.69 53.90 L-6.03 53.22 L-6.37 52.56 L-6.70 51.92 L-7.04 51.30 L-7.39 50.69 L-7.76 50.11 L-8.17 49.57 L-8.61 49.06 L-9.09 48.58 L-9.61 48.16 L-10.17 47.80 L-10.77 47.51 L-11.41 47.30 L-12.08 47.19 L-12.77 47.17 L-13.46 47.27 L-14.15 47.46Z" fill="none" stroke="#fcefc8" stroke-width="2.00" stroke-linejoin="round"/>
<path d="M-18.62 55.74 L-19.01 55.32 L-19.44 54.89 L-19.91 54.49 L-20.44 54.11 L-21.02 53.77 L-21.66 53.46 L-22.34 53.20 L-23.05 52.98 L-23.81 52.82 L-24.59 52.71 L-25.39 52.65 L-26.20 52.62 L-27.02 52.65 L-27.84 52.72 L-28.67 52.81 L-29.49 52.94 L-30.31 53.11 L-31.13 53.31 L-31.94 53.55 L-32.74 53.85 L-33.53 54.18 L-34.29 54.58 L-35.03 55.02 L-35.73 55.53 L-36.37 56.10 L-36.97 56.70 L-37.52 57.35 L-38.00 58.05 L-38.44 58.76 L-38.84 59.50 L-39.17 60.25 L-39.47 61.02 L-39.73 61.80 L-39.94 62.59 L-40.07 63.39 L-40.19 64.20 L-40.20 65.00 L-40.18 65.81 L-40.11 66.61 L-39.96 67.40 L-39.79 68.20 L-39.56 68.98 L-39.28 69.75 L-38.96 70.53 L-38.60 71.28 L-38.23 72.03 L-37.80 72.76 L-37.34 73.47 L-36.85 74.17 L-36.32 74.84 L-35.77 75.51 L-35.18 76.14 L-34.59 76.76 L-33.97 77.35 L-33.34 77.94 L-32.68 78.49 L-32.02 79.04 L-31.35 79.56 L-30.67 80.08 L-29.99 80.58 L-29.30 81.07 L-28.61 81.55 L-27.91 82.01 L-27.21 82.47 L-26.52 82.92 L-25.83 83.37 L-25.14 83.81 L-24.46 84.25 L-23.79 84.68 L-23.11 85.12 L-22.51 84.74 L-21.91 84.36 L-21.30 83.97 L-20.68 83.59 L-20.06 83.21 L-19.43 82.81 L-18.80 82.43 L-18.16 82.03 L-17.53 81.63 L-16.90 81.22 L-16.26 80.80 L-15.63 80.38 L-15.00 79.94 L-14.38 79.50 L-13.76 79.04 L-13.14 78.57 L-12.54 78.08 L-11.94 77.58 L-11.35 77.07 L-10.78 76.53 L-10.22 75.98 L-9.69 75.40 L-9.17 74.81 L-8.70 74.19 L-8.28 73.54 L-7.95 72.86 L-7.64 72.16 L-7.34 71.46 L-7.06 70.76 L-6.81 70.03 L-6.56 69.30 L-6.36 68.55 L-6.18 67.80 L-6.02 67.04 L-5.95 66.25 L-5.88 65.47 L-5.88 64.69 L-5.89 63.90 L-5.95 63.12 L-6.03 62.34 L-6.16 61.57 L-6.33 60.82 L-6.53 60.08 L-6.80 59.37 L-7.11 58.70 L-7.46 58.06 L-7.85 57.47 L-8.28 56.93 L-8.73 56.45 L-9.20 56.01 L-9.68 55.60 L-10.18 55.25 L-10.67 54.93 L-11.16 54.63 L-11.66 54.36 L-12.15 54.13 L-12.65 53.92 L-13.15 53.75 L-13.65 53.62 L-14.17 53.53 L-14.69 53.49 L-15.20 53.49 L-15.70 53.56 L-16.20 53.70 L-16.68 53.89 L-17.14 54.14 L-17.56 54.46 L-17.94 54.84 L-18.30 55.27Z" fill="#f5b2a0" stroke="#d0914a" stroke-width="3.20" stroke-linejoin="round"/><path d="M-18.62 55.74 L-19.01 55.32 L-19.44 54.89 L-19.91 54.49 L-20.44 54.11 L-21.02 53.77 L-21.66 53.46 L-22.34 53.20 L-23.05 52.98 L-23.81 52.82 L-24.59 52.71 L-25.39 52.65 L-26.20 52.62 L-27.02 52.65 L-27.84 52.72 L-28.67 52.81 L-29.49 52.94 L-30.31 53.11 L-31.13 53.31 L-31.94 53.55 L-32.74 53.85 L-33.53 54.18 L-34.29 54.58 L-35.03 55.02 L-35.73 55.53 L-36.37 56.10 L-36.97 56.70 L-37.52 57.35 L-38.00 58.05 L-38.44 58.76 L-38.84 59.50 L-39.17 60.25 L-39.47 61.02 L-39.73 61.80 L-39.94 62.59 L-40.07 63.39 L-40.19 64.20 L-40.20 65.00 L-40.18 65.81 L-40.11 66.61 L-39.96 67.40 L-39.79 68.20 L-39.56 68.98 L-39.28 69.75 L-38.96 70.53 L-38.60 71.28 L-38.23 72.03 L-37.80 72.76 L-37.34 73.47 L-36.85 74.17 L-36.32 74.84 L-35.77 75.51 L-35.18 76.14 L-34.59 76.76 L-33.97 77.35 L-33.34 77.94 L-32.68 78.49 L-32.02 79.04 L-31.35 79.56 L-30.67 80.08 L-29.99 80.58 L-29.30 81.07 L-28.61 81.55 L-27.91 82.01 L-27.21 82.47 L-26.52 82.92 L-25.83 83.37 L-25.14 83.81 L-24.46 84.25 L-23.79 84.68 L-23.11 85.12 L-22.51 84.74 L-21.91 84.36 L-21.30 83.97 L-20.68 83.59 L-20.06 83.21 L-19.43 82.81 L-18.80 82.43 L-18.16 82.03 L-17.53 81.63 L-16.90 81.22 L-16.26 80.80 L-15.63 80.38 L-15.00 79.94 L-14.38 79.50 L-13.76 79.04 L-13.14 78.57 L-12.54 78.08 L-11.94 77.58 L-11.35 77.07 L-10.78 76.53 L-10.22 75.98 L-9.69 75.40 L-9.17 74.81 L-8.70 74.19 L-8.28 73.54 L-7.95 72.86 L-7.64 72.16 L-7.34 71.46 L-7.06 70.76 L-6.81 70.03 L-6.56 69.30 L-6.36 68.55 L-6.18 67.80 L-6.02 67.04 L-5.95 66.25 L-5.88 65.47 L-5.88 64.69 L-5.89 63.90 L-5.95 63.12 L-6.03 62.34 L-6.16 61.57 L-6.33 60.82 L-6.53 60.08 L-6.80 59.37 L-7.11 58.70 L-7.46 58.06 L-7.85 57.47 L-8.28 56.93 L-8.73 56.45 L-9.20 56.01 L-9.68 55.60 L-10.18 55.25 L-10.67 54.93 L-11.16 54.63 L-11.66 54.36 L-12.15 54.13 L-12.65 53.92 L-13.15 53.75 L-13.65 53.62 L-14.17 53.53 L-14.69 53.49 L-15.20 53.49 L-15.70 53.56 L-16.20 53.70 L-16.68 53.89 L-17.14 54.14 L-17.56 54.46 L-17.94 54.84 L-18.30 55.27Z" fill="none" stroke="#fcefc8" stroke-width="2.00" stroke-linejoin="round"/>
<path d="M-21.60 62.40 L-21.64 61.84 L-21.71 61.29 L-21.84 60.75 L-22.03 60.23 L-22.30 59.74 L-22.61 59.28 L-22.98 58.87 L-23.39 58.49 L-23.86 58.18 L-24.35 57.92 L-24.86 57.70 L-25.39 57.52 L-25.93 57.39 L-26.48 57.30 L-27.03 57.23 L-27.59 57.21 L-28.14 57.21 L-28.70 57.25 L-29.25 57.32 L-29.79 57.45 L-30.32 57.62 L-30.84 57.84 L-31.32 58.11 L-31.76 58.45 L-32.16 58.84 L-32.51 59.27 L-32.81 59.74 L-33.04 60.24 L-33.23 60.77 L-33.39 61.30 L-33.48 61.85 L-33.55 62.40 L-33.58 62.96 L-33.58 63.52 L-33.51 64.07 L-33.44 64.62 L-33.27 65.15 L-33.09 65.68 L-32.87 66.19 L-32.61 66.68 L-32.35 67.17 L-32.05 67.64 L-31.73 68.10 L-31.41 68.56 L-31.07 69.00 L-30.72 69.43 L-30.37 69.86 L-30.01 70.28 L-29.63 70.70 L-29.26 71.11 L-28.88 71.52 L-28.49 71.92 L-28.10 72.32 L-27.71 72.72 L-27.32 73.11 L-26.92 73.51 L-26.53 73.90 L-26.13 74.29 L-25.74 74.68 L-25.34 75.08 L-24.95 75.47 L-24.56 75.87 L-24.17 76.27 L-23.78 76.67 L-23.41 77.08 L-23.03 77.49 L-22.66 77.90 L-22.30 78.33 L-21.95 78.77 L-21.60 79.20 L-21.25 78.77 L-20.90 78.33 L-20.54 77.90 L-20.17 77.49 L-19.79 77.08 L-19.42 76.67 L-19.03 76.27 L-18.64 75.87 L-18.25 75.47 L-17.86 75.08 L-17.46 74.68 L-17.07 74.29 L-16.67 73.90 L-16.28 73.51 L-15.88 73.11 L-15.49 72.72 L-15.10 72.32 L-14.71 71.92 L-14.32 71.52 L-13.94 71.11 L-13.57 70.70 L-13.19 70.28 L-12.83 69.86 L-12.48 69.43 L-12.13 69.00 L-11.79 68.56 L-11.47 68.10 L-11.15 67.64 L-10.85 67.17 L-10.59 66.68 L-10.33 66.19 L-10.11 65.68 L-9.93 65.15 L-9.76 64.62 L-9.69 64.07 L-9.62 63.52 L-9.62 62.96 L-9.65 62.40 L-9.72 61.85 L-9.81 61.30 L-9.97 60.77 L-10.16 60.24 L-10.39 59.74 L-10.69 59.27 L-11.04 58.84 L-11.44 58.45 L-11.88 58.11 L-12.36 57.84 L-12.88 57.62 L-13.41 57.45 L-13.95 57.32 L-14.50 57.25 L-15.06 57.21 L-15.61 57.21 L-16.17 57.23 L-16.72 57.30 L-17.27 57.39 L-17.81 57.52 L-18.34 57.70 L-18.85 57.92 L-19.34 58.18 L-19.81 58.49 L-20.22 58.87 L-20.59 59.28 L-20.90 59.74 L-21.17 60.23 L-21.36 60.75 L-21.49 61.29 L-21.56 61.84Z" fill="#f48a69" stroke="#d0914a" stroke-width="4.30" stroke-linejoin="round"/>
<path d="M-21.60 62.40 L-21.64 61.84 L-21.71 61.29 L-21.84 60.75 L-22.03 60.23 L-22.30 59.74 L-22.61 59.28 L-22.98 58.87 L-23.39 58.49 L-23.86 58.18 L-24.35 57.92 L-24.86 57.70 L-25.39 57.52 L-25.93 57.39 L-26.48 57.30 L-27.03 57.23 L-27.59 57.21 L-28.14 57.21 L-28.70 57.25 L-29.25 57.32 L-29.79 57.45 L-30.32 57.62 L-30.84 57.84 L-31.32 58.11 L-31.76 58.45 L-32.16 58.84 L-32.51 59.27 L-32.81 59.74 L-33.04 60.24 L-33.23 60.77 L-33.39 61.30 L-33.48 61.85 L-33.55 62.40 L-33.58 62.96 L-33.58 63.52 L-33.51 64.07 L-33.44 64.62 L-33.27 65.15 L-33.09 65.68 L-32.87 66.19 L-32.61 66.68 L-32.35 67.17 L-32.05 67.64 L-31.73 68.10 L-31.41 68.56 L-31.07 69.00 L-30.72 69.43 L-30.37 69.86 L-30.01 70.28 L-29.63 70.70 L-29.26 71.11 L-28.88 71.52 L-28.49 71.92 L-28.10 72.32 L-27.71 72.72 L-27.32 73.11 L-26.92 73.51 L-26.53 73.90 L-26.13 74.29 L-25.74 74.68 L-25.34 75.08 L-24.95 75.47 L-24.56 75.87 L-24.17 76.27 L-23.78 76.67 L-23.41 77.08 L-23.03 77.49 L-22.66 77.90 L-22.30 78.33 L-21.95 78.77 L-21.60 79.20 L-21.25 78.77 L-20.90 78.33 L-20.54 77.90 L-20.17 77.49 L-19.79 77.08 L-19.42 76.67 L-19.03 76.27 L-18.64 75.87 L-18.25 75.47 L-17.86 75.08 L-17.46 74.68 L-17.07 74.29 L-16.67 73.90 L-16.28 73.51 L-15.88 73.11 L-15.49 72.72 L-15.10 72.32 L-14.71 71.92 L-14.32 71.52 L-13.94 71.11 L-13.57 70.70 L-13.19 70.28 L-12.83 69.86 L-12.48 69.43 L-12.13 69.00 L-11.79 68.56 L-11.47 68.10 L-11.15 67.64 L-10.85 67.17 L-10.59 66.68 L-10.33 66.19 L-10.11 65.68 L-9.93 65.15 L-9.76 64.62 L-9.69 64.07 L-9.62 63.52 L-9.62 62.96 L-9.65 62.40 L-9.72 61.85 L-9.81 61.30 L-9.97 60.77 L-10.16 60.24 L-10.39 59.74 L-10.69 59.27 L-11.04 58.84 L-11.44 58.45 L-11.88 58.11 L-12.36 57.84 L-12.88 57.62 L-13.41 57.45 L-13.95 57.32 L-14.50 57.25 L-15.06 57.21 L-15.61 57.21 L-16.17 57.23 L-16.72 57.30 L-17.27 57.39 L-17.81 57.52 L-18.34 57.70 L-18.85 57.92 L-19.34 58.18 L-19.81 58.49 L-20.22 58.87 L-20.59 59.28 L-20.90 59.74 L-21.17 60.23 L-21.36 60.75 L-21.49 61.29 L-21.56 61.84Z" fill="#f48a69" stroke="#fcefc8" stroke-width="3.00" stroke-linejoin="round"/>
<path d="M-21.60 62.40 L-21.64 61.84 L-21.71 61.29 L-21.84 60.75 L-22.03 60.23 L-22.30 59.74 L-22.61 59.28 L-22.98 58.87 L-23.39 58.49 L-23.86 58.18 L-24.35 57.92 L-24.86 57.70 L-25.39 57.52 L-25.93 57.39 L-26.48 57.30 L-27.03 57.23 L-27.59 57.21 L-28.14 57.21 L-28.70 57.25 L-29.25 57.32 L-29.79 57.45 L-30.32 57.62 L-30.84 57.84 L-31.32 58.11 L-31.76 58.45 L-32.16 58.84 L-32.51 59.27 L-32.81 59.74 L-33.04 60.24 L-33.23 60.77 L-33.39 61.30 L-33.48 61.85 L-33.55 62.40 L-33.58 62.96 L-33.58 63.52 L-33.51 64.07 L-33.44 64.62 L-33.27 65.15 L-33.09 65.68 L-32.87 66.19 L-32.61 66.68 L-32.35 67.17 L-32.05 67.64 L-31.73 68.10 L-31.41 68.56 L-31.07 69.00 L-30.72 69.43 L-30.37 69.86 L-30.01 70.28 L-29.63 70.70 L-29.26 71.11 L-28.88 71.52 L-28.49 71.92 L-28.10 72.32 L-27.71 72.72 L-27.32 73.11 L-26.92 73.51 L-26.53 73.90 L-26.13 74.29 L-25.74 74.68 L-25.34 75.08 L-24.95 75.47 L-24.56 75.87 L-24.17 76.27 L-23.78 76.67 L-23.41 77.08 L-23.03 77.49 L-22.66 77.90 L-22.30 78.33 L-21.95 78.77 L-21.60 79.20 L-21.25 78.77 L-20.90 78.33 L-20.54 77.90 L-20.17 77.49 L-19.79 77.08 L-19.42 76.67 L-19.03 76.27 L-18.64 75.87 L-18.25 75.47 L-17.86 75.08 L-17.46 74.68 L-17.07 74.29 L-16.67 73.90 L-16.28 73.51 L-15.88 73.11 L-15.49 72.72 L-15.10 72.32 L-14.71 71.92 L-14.32 71.52 L-13.94 71.11 L-13.57 70.70 L-13.19 70.28 L-12.83 69.86 L-12.48 69.43 L-12.13 69.00 L-11.79 68.56 L-11.47 68.10 L-11.15 67.64 L-10.85 67.17 L-10.59 66.68 L-10.33 66.19 L-10.11 65.68 L-9.93 65.15 L-9.76 64.62 L-9.69 64.07 L-9.62 63.52 L-9.62 62.96 L-9.65 62.40 L-9.72 61.85 L-9.81 61.30 L-9.97 60.77 L-10.16 60.24 L-10.39 59.74 L-10.69 59.27 L-11.04 58.84 L-11.44 58.45 L-11.88 58.11 L-12.36 57.84 L-12.88 57.62 L-13.41 57.45 L-13.95 57.32 L-14.50 57.25 L-15.06 57.21 L-15.61 57.21 L-16.17 57.23 L-16.72 57.30 L-17.27 57.39 L-17.81 57.52 L-18.34 57.70 L-18.85 57.92 L-19.34 58.18 L-19.81 58.49 L-20.22 58.87 L-20.59 59.28 L-20.90 59.74 L-21.17 60.23 L-21.36 60.75 L-21.49 61.29 L-21.56 61.84Z" fill="#f48a69" stroke="#d0914a" stroke-width="0.90" stroke-linejoin="round"/>
<path d="M-2 14 C-16 16 -36 28 -48 48 C-54 58 -58 68 -58 76 C-57 86 -47 95 -28 97 C-16 97.5 -5 94 -1 87 C0 80 0 40 0 16Z" fill="none" stroke="#d0914a" stroke-width="1.90"/>
<path d="M-10.00 9.00 L-11.50 8.97 L-13.01 8.96 L-14.51 9.01 L-16.01 9.08 L-17.51 9.19 L-19.01 9.32 L-20.50 9.49 L-21.99 9.67 L-23.48 9.89 L-24.97 10.11 L-26.45 10.38 L-27.93 10.65 L-29.40 10.94 L-30.87 11.25 L-32.34 11.57 L-33.81 11.93 L-35.27 12.28 L-36.72 12.67 L-38.17 13.06 L-39.62 13.47 L-41.06 13.91 L-42.49 14.35 L-43.92 14.82 L-45.35 15.30 L-46.77 15.79 L-48.18 16.32 L-49.58 16.84 L-50.98 17.41 L-52.37 17.99 L-53.75 18.57 L-55.12 19.19 L-56.49 19.80 L-57.86 20.42 L-59.22 21.08 L-60.58 21.73 L-61.93 22.38 L-63.27 23.06 L-64.61 23.74 L-65.95 24.42 L-67.28 25.13 L-68.61 25.83 L-69.93 26.54 L-71.25 27.27 L-72.56 28.00 L-73.88 28.73 L-75.18 29.48 L-76.48 30.23 L-77.78 30.99 L-79.08 31.75 L-80.36 32.53 L-81.65 33.31 L-82.93 34.09 L-84.21 34.89 L-85.48 35.69 L-86.75 36.50 L-88.01 37.32 L-89.27 38.15 L-90.52 38.98 L-91.76 39.82 L-93.00 40.67 L-94.24 41.53 L-95.46 42.40 L-96.69 43.28 L-97.89 44.18 L-99.06 45.12 L-100.20 46.10 L-101.28 47.14 L-102.27 48.27 L-103.07 49.55 L-103.40 51.00 L-103.11 52.55 L-102.59 54.04 L-101.87 55.44 L-100.99 56.76 L-100.00 57.99 L-98.92 59.14 L-97.77 60.22 L-96.57 61.24 L-95.32 62.20 L-94.03 63.12 L-92.70 63.98 L-91.35 64.79 L-89.94 65.52 L-88.52 66.21 L-87.09 66.88 L-85.66 67.54 L-84.21 68.17 L-82.76 68.79 L-81.29 69.38 L-79.82 69.95 L-78.33 70.49 L-76.84 71.00 L-75.34 71.49 L-73.82 71.93 L-72.29 72.35 L-70.76 72.72 L-69.21 73.05 L-67.66 73.34 L-66.10 73.56 L-64.53 73.76 L-62.95 73.89 L-61.38 73.96 L-59.80 73.99 L-58.22 73.95 L-56.64 73.88 L-55.06 73.75 L-53.49 73.57 L-51.93 73.34 L-50.38 73.05 L-48.83 72.72 L-47.31 72.30 L-45.80 71.84 L-44.31 71.30 L-42.85 70.70 L-41.42 70.05 L-40.03 69.30 L-38.67 68.48 L-37.35 67.61 L-36.11 66.64 L-34.93 65.59 L-33.80 64.49 L-32.76 63.30 L-31.77 62.07 L-30.79 60.83 L-29.82 59.58 L-28.85 58.33 L-27.89 57.08 L-26.94 55.82 L-26.00 54.55 L-25.08 53.26 L-24.17 51.97 L-23.28 50.66 L-22.41 49.34 L-21.56 48.01 L-20.74 46.66 L-19.94 45.30 L-19.16 43.92 L-18.42 42.53 L-17.71 41.12 L-17.04 39.69 L-16.40 38.24 L-15.81 36.78 L-15.26 35.30 L-14.76 33.80 L-14.31 32.29 L-13.90 30.76 L-13.51 29.23 L-13.16 27.69 L-12.82 26.15 L-12.50 24.60 L-12.19 23.05 L-11.90 21.50 L-11.62 19.94 L-11.36 18.38 L-11.10 16.82 L-10.86 15.26 L-10.63 13.70 L-10.41 12.13 L-10.20 10.57Z" fill="#f7bcaa"/>
<path d="M-12.07 10.79 L-13.47 10.77 L-14.88 10.77 L-16.28 10.82 L-17.68 10.88 L-19.09 10.98 L-20.48 11.09 L-21.88 11.23 L-23.28 11.37 L-24.67 11.56 L-26.06 11.73 L-27.44 11.95 L-28.83 12.17 L-30.21 12.41 L-31.58 12.67 L-32.96 12.93 L-34.33 13.22 L-35.70 13.51 L-37.06 13.83 L-38.42 14.16 L-39.78 14.50 L-41.13 14.87 L-42.48 15.24 L-43.82 15.64 L-45.16 16.05 L-46.49 16.46 L-47.82 16.92 L-49.14 17.37 L-50.45 17.86 L-51.76 18.37 L-53.06 18.89 L-54.35 19.43 L-55.64 19.99 L-56.92 20.55 L-58.20 21.14 L-59.46 21.74 L-60.73 22.36 L-61.98 22.99 L-63.23 23.64 L-64.47 24.29 L-65.70 24.97 L-66.93 25.65 L-68.15 26.33 L-69.36 27.04 L-70.55 27.76 L-71.75 28.48 L-72.92 29.23 L-74.08 29.99 L-75.23 30.76 L-76.35 31.54 L-77.45 32.33 L-78.52 33.13 L-79.56 33.94 L-80.57 34.74 L-81.57 35.54 L-82.54 36.34 L-83.49 37.14 L-84.43 37.93 L-85.36 38.71 L-86.26 39.48 L-87.16 40.24 L-88.04 40.99 L-88.91 41.73 L-89.79 42.45 L-90.64 43.19 L-91.47 43.94 L-92.28 44.71 L-93.05 45.53 L-93.73 46.41 L-94.26 47.40 L-94.41 48.54 L-94.27 49.90 L-93.93 51.21 L-93.42 52.45 L-92.78 53.62 L-92.04 54.72 L-91.60 56.08 L-91.12 57.50 L-90.36 58.69 L-89.30 59.60 L-88.01 60.21 L-86.54 60.54 L-84.98 60.66 L-84.18 61.91 L-83.36 63.21 L-82.38 64.28 L-81.20 65.06 L-79.82 65.47 L-78.30 65.58 L-76.68 65.45 L-75.50 66.24 L-74.49 67.50 L-73.34 68.51 L-72.02 69.16 L-70.55 69.39 L-68.99 69.25 L-67.39 68.81 L-66.04 69.30 L-64.76 70.34 L-63.38 71.06 L-61.92 71.38 L-60.42 71.24 L-58.94 70.69 L-57.51 69.87 L-56.07 70.02 L-54.58 70.70 L-53.07 71.06 L-51.59 71.01 L-50.18 70.51 L-48.88 69.62 L-47.67 68.49 L-46.24 68.31 L-44.62 68.61 L-43.06 68.55 L-41.64 68.09 L-40.41 67.22 L-39.40 65.97 L-38.62 64.51 L-37.30 63.92 L-35.68 63.62 L-34.23 63.00 L-33.06 62.03 L-32.28 60.72 L-31.83 59.20 L-31.61 57.55 L-30.48 56.61 L-29.61 55.47 L-28.74 54.33 L-27.89 53.17 L-27.05 52.01 L-26.23 50.84 L-25.41 49.66 L-24.61 48.46 L-23.83 47.26 L-23.07 46.05 L-22.33 44.82 L-21.61 43.58 L-20.91 42.32 L-20.24 41.06 L-19.60 39.77 L-18.98 38.48 L-18.40 37.16 L-17.86 35.84 L-17.35 34.50 L-16.89 33.14 L-16.46 31.77 L-16.07 30.39 L-15.70 29.01 L-15.35 27.62 L-15.02 26.22 L-14.70 24.83 L-14.40 23.43 L-14.10 22.03 L-13.82 20.63 L-13.55 19.22 L-13.28 17.82 L-13.02 16.41 L-12.78 15.01 L-12.53 13.60 L-12.30 12.19Z" fill="#f7bcaa" stroke="#d0914a" stroke-width="3.20" stroke-linejoin="round"/><path d="M-12.07 10.79 L-13.47 10.77 L-14.88 10.77 L-16.28 10.82 L-17.68 10.88 L-19.09 10.98 L-20.48 11.09 L-21.88 11.23 L-23.28 11.37 L-24.67 11.56 L-26.06 11.73 L-27.44 11.95 L-28.83 12.17 L-30.21 12.41 L-31.58 12.67 L-32.96 12.93 L-34.33 13.22 L-35.70 13.51 L-37.06 13.83 L-38.42 14.16 L-39.78 14.50 L-41.13 14.87 L-42.48 15.24 L-43.82 15.64 L-45.16 16.05 L-46.49 16.46 L-47.82 16.92 L-49.14 17.37 L-50.45 17.86 L-51.76 18.37 L-53.06 18.89 L-54.35 19.43 L-55.64 19.99 L-56.92 20.55 L-58.20 21.14 L-59.46 21.74 L-60.73 22.36 L-61.98 22.99 L-63.23 23.64 L-64.47 24.29 L-65.70 24.97 L-66.93 25.65 L-68.15 26.33 L-69.36 27.04 L-70.55 27.76 L-71.75 28.48 L-72.92 29.23 L-74.08 29.99 L-75.23 30.76 L-76.35 31.54 L-77.45 32.33 L-78.52 33.13 L-79.56 33.94 L-80.57 34.74 L-81.57 35.54 L-82.54 36.34 L-83.49 37.14 L-84.43 37.93 L-85.36 38.71 L-86.26 39.48 L-87.16 40.24 L-88.04 40.99 L-88.91 41.73 L-89.79 42.45 L-90.64 43.19 L-91.47 43.94 L-92.28 44.71 L-93.05 45.53 L-93.73 46.41 L-94.26 47.40 L-94.41 48.54 L-94.27 49.90 L-93.93 51.21 L-93.42 52.45 L-92.78 53.62 L-92.04 54.72 L-91.60 56.08 L-91.12 57.50 L-90.36 58.69 L-89.30 59.60 L-88.01 60.21 L-86.54 60.54 L-84.98 60.66 L-84.18 61.91 L-83.36 63.21 L-82.38 64.28 L-81.20 65.06 L-79.82 65.47 L-78.30 65.58 L-76.68 65.45 L-75.50 66.24 L-74.49 67.50 L-73.34 68.51 L-72.02 69.16 L-70.55 69.39 L-68.99 69.25 L-67.39 68.81 L-66.04 69.30 L-64.76 70.34 L-63.38 71.06 L-61.92 71.38 L-60.42 71.24 L-58.94 70.69 L-57.51 69.87 L-56.07 70.02 L-54.58 70.70 L-53.07 71.06 L-51.59 71.01 L-50.18 70.51 L-48.88 69.62 L-47.67 68.49 L-46.24 68.31 L-44.62 68.61 L-43.06 68.55 L-41.64 68.09 L-40.41 67.22 L-39.40 65.97 L-38.62 64.51 L-37.30 63.92 L-35.68 63.62 L-34.23 63.00 L-33.06 62.03 L-32.28 60.72 L-31.83 59.20 L-31.61 57.55 L-30.48 56.61 L-29.61 55.47 L-28.74 54.33 L-27.89 53.17 L-27.05 52.01 L-26.23 50.84 L-25.41 49.66 L-24.61 48.46 L-23.83 47.26 L-23.07 46.05 L-22.33 44.82 L-21.61 43.58 L-20.91 42.32 L-20.24 41.06 L-19.60 39.77 L-18.98 38.48 L-18.40 37.16 L-17.86 35.84 L-17.35 34.50 L-16.89 33.14 L-16.46 31.77 L-16.07 30.39 L-15.70 29.01 L-15.35 27.62 L-15.02 26.22 L-14.70 24.83 L-14.40 23.43 L-14.10 22.03 L-13.82 20.63 L-13.55 19.22 L-13.28 17.82 L-13.02 16.41 L-12.78 15.01 L-12.53 13.60 L-12.30 12.19Z" fill="none" stroke="#fcefc8" stroke-width="2.00" stroke-linejoin="round"/>
<path d="M-16.91 14.74 L-18.09 14.74 L-19.26 14.76 L-20.44 14.81 L-21.62 14.85 L-22.79 14.91 L-23.97 14.99 L-25.14 15.07 L-26.31 15.16 L-27.48 15.28 L-28.65 15.38 L-29.81 15.52 L-30.98 15.65 L-32.14 15.80 L-33.30 15.95 L-34.46 16.12 L-35.61 16.30 L-36.77 16.48 L-37.92 16.69 L-39.07 16.89 L-40.21 17.12 L-41.36 17.36 L-42.50 17.60 L-43.64 17.87 L-44.77 18.15 L-45.90 18.44 L-47.03 18.76 L-48.15 19.09 L-49.27 19.44 L-50.38 19.81 L-51.48 20.20 L-52.58 20.61 L-53.67 21.04 L-54.76 21.49 L-55.84 21.96 L-56.91 22.45 L-57.96 22.97 L-59.01 23.50 L-60.05 24.06 L-61.08 24.63 L-62.09 25.23 L-63.10 25.83 L-64.10 26.45 L-65.08 27.09 L-66.04 27.75 L-66.99 28.42 L-67.90 29.12 L-68.79 29.84 L-69.64 30.58 L-70.44 31.35 L-71.19 32.13 L-71.88 32.91 L-72.51 33.69 L-73.07 34.47 L-73.60 35.22 L-74.08 35.96 L-74.53 36.68 L-74.94 37.37 L-75.32 38.03 L-75.68 38.66 L-76.01 39.24 L-76.32 39.78 L-76.62 40.28 L-76.92 40.74 L-77.22 41.18 L-77.50 41.62 L-77.77 42.04 L-78.02 42.47 L-78.22 42.94 L-78.33 43.45 L-78.19 44.06 L-78.27 45.06 L-78.22 46.02 L-78.06 46.96 L-77.80 47.85 L-77.47 48.70 L-77.55 49.76 L-76.66 50.33 L-75.71 50.79 L-75.59 51.82 L-75.46 52.88 L-75.18 53.92 L-74.73 54.89 L-74.10 55.71 L-73.31 56.38 L-72.37 56.88 L-71.31 57.22 L-70.12 57.41 L-68.89 57.49 L-68.20 58.37 L-67.58 59.46 L-66.84 60.43 L-65.96 61.22 L-64.92 61.78 L-63.76 62.06 L-62.52 62.08 L-61.24 61.86 L-59.98 61.46 L-58.95 62.04 L-57.89 62.82 L-56.77 63.42 L-55.59 63.75 L-54.40 63.78 L-53.23 63.51 L-52.10 62.98 L-51.03 62.25 L-50.02 61.40 L-48.81 61.81 L-47.56 62.16 L-46.32 62.31 L-45.12 62.22 L-44.01 61.83 L-42.99 61.18 L-42.10 60.29 L-41.34 59.23 L-40.60 58.23 L-39.28 58.24 L-37.99 58.08 L-36.79 57.73 L-35.73 57.10 L-34.88 56.24 L-34.26 55.17 L-33.87 53.95 L-33.66 52.65 L-33.19 51.58 L-32.20 50.90 L-31.52 49.99 L-30.84 49.08 L-30.18 48.15 L-29.53 47.22 L-28.89 46.28 L-28.26 45.33 L-27.64 44.38 L-27.04 43.41 L-26.45 42.44 L-25.87 41.46 L-25.31 40.47 L-24.77 39.47 L-24.24 38.46 L-23.74 37.44 L-23.25 36.41 L-22.78 35.37 L-22.34 34.32 L-21.93 33.26 L-21.54 32.19 L-21.17 31.12 L-20.83 30.04 L-20.51 28.95 L-20.19 27.86 L-19.89 26.77 L-19.59 25.68 L-19.30 24.58 L-19.02 23.49 L-18.75 22.39 L-18.47 21.30 L-18.21 20.20 L-17.94 19.10 L-17.68 18.01 L-17.42 16.92 L-17.16 15.83Z" fill="#f7bcaa" stroke="#d0914a" stroke-width="3.20" stroke-linejoin="round"/><path d="M-16.91 14.74 L-18.09 14.74 L-19.26 14.76 L-20.44 14.81 L-21.62 14.85 L-22.79 14.91 L-23.97 14.99 L-25.14 15.07 L-26.31 15.16 L-27.48 15.28 L-28.65 15.38 L-29.81 15.52 L-30.98 15.65 L-32.14 15.80 L-33.30 15.95 L-34.46 16.12 L-35.61 16.30 L-36.77 16.48 L-37.92 16.69 L-39.07 16.89 L-40.21 17.12 L-41.36 17.36 L-42.50 17.60 L-43.64 17.87 L-44.77 18.15 L-45.90 18.44 L-47.03 18.76 L-48.15 19.09 L-49.27 19.44 L-50.38 19.81 L-51.48 20.20 L-52.58 20.61 L-53.67 21.04 L-54.76 21.49 L-55.84 21.96 L-56.91 22.45 L-57.96 22.97 L-59.01 23.50 L-60.05 24.06 L-61.08 24.63 L-62.09 25.23 L-63.10 25.83 L-64.10 26.45 L-65.08 27.09 L-66.04 27.75 L-66.99 28.42 L-67.90 29.12 L-68.79 29.84 L-69.64 30.58 L-70.44 31.35 L-71.19 32.13 L-71.88 32.91 L-72.51 33.69 L-73.07 34.47 L-73.60 35.22 L-74.08 35.96 L-74.53 36.68 L-74.94 37.37 L-75.32 38.03 L-75.68 38.66 L-76.01 39.24 L-76.32 39.78 L-76.62 40.28 L-76.92 40.74 L-77.22 41.18 L-77.50 41.62 L-77.77 42.04 L-78.02 42.47 L-78.22 42.94 L-78.33 43.45 L-78.19 44.06 L-78.27 45.06 L-78.22 46.02 L-78.06 46.96 L-77.80 47.85 L-77.47 48.70 L-77.55 49.76 L-76.66 50.33 L-75.71 50.79 L-75.59 51.82 L-75.46 52.88 L-75.18 53.92 L-74.73 54.89 L-74.10 55.71 L-73.31 56.38 L-72.37 56.88 L-71.31 57.22 L-70.12 57.41 L-68.89 57.49 L-68.20 58.37 L-67.58 59.46 L-66.84 60.43 L-65.96 61.22 L-64.92 61.78 L-63.76 62.06 L-62.52 62.08 L-61.24 61.86 L-59.98 61.46 L-58.95 62.04 L-57.89 62.82 L-56.77 63.42 L-55.59 63.75 L-54.40 63.78 L-53.23 63.51 L-52.10 62.98 L-51.03 62.25 L-50.02 61.40 L-48.81 61.81 L-47.56 62.16 L-46.32 62.31 L-45.12 62.22 L-44.01 61.83 L-42.99 61.18 L-42.10 60.29 L-41.34 59.23 L-40.60 58.23 L-39.28 58.24 L-37.99 58.08 L-36.79 57.73 L-35.73 57.10 L-34.88 56.24 L-34.26 55.17 L-33.87 53.95 L-33.66 52.65 L-33.19 51.58 L-32.20 50.90 L-31.52 49.99 L-30.84 49.08 L-30.18 48.15 L-29.53 47.22 L-28.89 46.28 L-28.26 45.33 L-27.64 44.38 L-27.04 43.41 L-26.45 42.44 L-25.87 41.46 L-25.31 40.47 L-24.77 39.47 L-24.24 38.46 L-23.74 37.44 L-23.25 36.41 L-22.78 35.37 L-22.34 34.32 L-21.93 33.26 L-21.54 32.19 L-21.17 31.12 L-20.83 30.04 L-20.51 28.95 L-20.19 27.86 L-19.89 26.77 L-19.59 25.68 L-19.30 24.58 L-19.02 23.49 L-18.75 22.39 L-18.47 21.30 L-18.21 20.20 L-17.94 19.10 L-17.68 18.01 L-17.42 16.92 L-17.16 15.83Z" fill="none" stroke="#fcefc8" stroke-width="2.00" stroke-linejoin="round"/>
<path d="M-23.78 20.09 L-24.65 20.11 L-25.51 20.14 L-26.37 20.18 L-27.23 20.20 L-28.09 20.24 L-28.95 20.27 L-29.81 20.30 L-30.67 20.34 L-31.53 20.38 L-32.39 20.41 L-33.24 20.46 L-34.10 20.51 L-34.95 20.56 L-35.81 20.61 L-36.66 20.67 L-37.51 20.74 L-38.36 20.82 L-39.21 20.90 L-40.06 20.98 L-40.91 21.09 L-41.76 21.19 L-42.61 21.30 L-43.45 21.44 L-44.29 21.58 L-45.13 21.72 L-45.97 21.89 L-46.81 22.08 L-47.64 22.28 L-48.47 22.49 L-49.29 22.73 L-50.11 22.99 L-50.92 23.26 L-51.73 23.57 L-52.53 23.88 L-53.31 24.24 L-54.09 24.62 L-54.85 25.01 L-55.60 25.44 L-56.34 25.88 L-57.07 26.34 L-57.78 26.82 L-58.48 27.31 L-59.17 27.83 L-59.82 28.37 L-60.47 28.92 L-61.06 29.51 L-61.62 30.13 L-62.13 30.77 L-62.58 31.44 L-62.96 32.12 L-63.25 32.81 L-63.46 33.50 L-63.59 34.16 L-63.66 34.80 L-63.67 35.41 L-63.64 35.99 L-63.56 36.53 L-63.44 37.02 L-63.29 37.45 L-63.10 37.82 L-62.90 38.13 L-62.68 38.37 L-62.46 38.56 L-62.25 38.71 L-62.03 38.83 L-61.81 38.90 L-61.59 38.96 L-61.36 39.02 L-61.10 39.08 L-60.74 39.18 L-61.00 39.76 L-61.20 40.33 L-61.35 40.90 L-61.45 41.46 L-61.51 42.02 L-61.53 42.57 L-61.52 43.12 L-61.48 43.67 L-61.40 44.23 L-61.30 44.78 L-61.14 45.35 L-60.95 45.91 L-60.72 46.46 L-60.42 47.02 L-60.09 47.57 L-59.73 48.12 L-59.31 48.66 L-58.85 49.18 L-58.36 49.69 L-57.83 50.17 L-57.27 50.63 L-56.68 51.07 L-56.05 51.47 L-55.39 51.82 L-54.69 52.12 L-53.98 52.38 L-53.24 52.58 L-52.49 52.73 L-51.73 52.82 L-50.96 52.86 L-50.20 52.86 L-49.43 52.82 L-48.68 52.74 L-47.92 52.63 L-47.18 52.49 L-46.44 52.32 L-45.70 52.13 L-44.98 51.90 L-44.26 51.66 L-43.55 51.39 L-42.84 51.10 L-42.15 50.79 L-41.47 50.44 L-40.81 50.06 L-40.15 49.68 L-39.52 49.25 L-38.92 48.78 L-38.33 48.30 L-37.75 47.79 L-37.21 47.25 L-36.70 46.69 L-36.21 46.10 L-35.73 45.50 L-35.27 44.88 L-34.82 44.26 L-34.37 43.64 L-33.93 43.02 L-33.50 42.38 L-33.08 41.74 L-32.67 41.09 L-32.25 40.45 L-31.86 39.79 L-31.47 39.13 L-31.09 38.47 L-30.71 37.80 L-30.34 37.12 L-29.99 36.44 L-29.64 35.76 L-29.30 35.07 L-28.98 34.38 L-28.66 33.68 L-28.35 32.98 L-28.06 32.27 L-27.77 31.56 L-27.50 30.84 L-27.24 30.13 L-26.98 29.41 L-26.73 28.69 L-26.48 27.96 L-26.23 27.24 L-25.99 26.52 L-25.75 25.80 L-25.51 25.08 L-25.26 24.36 L-25.02 23.65 L-24.78 22.93 L-24.53 22.22 L-24.28 21.51 L-24.03 20.80Z" fill="#f5b2a0" stroke="#d0914a" stroke-width="3.20" stroke-linejoin="round"/><path d="M-23.78 20.09 L-24.65 20.11 L-25.51 20.14 L-26.37 20.18 L-27.23 20.20 L-28.09 20.24 L-28.95 20.27 L-29.81 20.30 L-30.67 20.34 L-31.53 20.38 L-32.39 20.41 L-33.24 20.46 L-34.10 20.51 L-34.95 20.56 L-35.81 20.61 L-36.66 20.67 L-37.51 20.74 L-38.36 20.82 L-39.21 20.90 L-40.06 20.98 L-40.91 21.09 L-41.76 21.19 L-42.61 21.30 L-43.45 21.44 L-44.29 21.58 L-45.13 21.72 L-45.97 21.89 L-46.81 22.08 L-47.64 22.28 L-48.47 22.49 L-49.29 22.73 L-50.11 22.99 L-50.92 23.26 L-51.73 23.57 L-52.53 23.88 L-53.31 24.24 L-54.09 24.62 L-54.85 25.01 L-55.60 25.44 L-56.34 25.88 L-57.07 26.34 L-57.78 26.82 L-58.48 27.31 L-59.17 27.83 L-59.82 28.37 L-60.47 28.92 L-61.06 29.51 L-61.62 30.13 L-62.13 30.77 L-62.58 31.44 L-62.96 32.12 L-63.25 32.81 L-63.46 33.50 L-63.59 34.16 L-63.66 34.80 L-63.67 35.41 L-63.64 35.99 L-63.56 36.53 L-63.44 37.02 L-63.29 37.45 L-63.10 37.82 L-62.90 38.13 L-62.68 38.37 L-62.46 38.56 L-62.25 38.71 L-62.03 38.83 L-61.81 38.90 L-61.59 38.96 L-61.36 39.02 L-61.10 39.08 L-60.74 39.18 L-61.00 39.76 L-61.20 40.33 L-61.35 40.90 L-61.45 41.46 L-61.51 42.02 L-61.53 42.57 L-61.52 43.12 L-61.48 43.67 L-61.40 44.23 L-61.30 44.78 L-61.14 45.35 L-60.95 45.91 L-60.72 46.46 L-60.42 47.02 L-60.09 47.57 L-59.73 48.12 L-59.31 48.66 L-58.85 49.18 L-58.36 49.69 L-57.83 50.17 L-57.27 50.63 L-56.68 51.07 L-56.05 51.47 L-55.39 51.82 L-54.69 52.12 L-53.98 52.38 L-53.24 52.58 L-52.49 52.73 L-51.73 52.82 L-50.96 52.86 L-50.20 52.86 L-49.43 52.82 L-48.68 52.74 L-47.92 52.63 L-47.18 52.49 L-46.44 52.32 L-45.70 52.13 L-44.98 51.90 L-44.26 51.66 L-43.55 51.39 L-42.84 51.10 L-42.15 50.79 L-41.47 50.44 L-40.81 50.06 L-40.15 49.68 L-39.52 49.25 L-38.92 48.78 L-38.33 48.30 L-37.75 47.79 L-37.21 47.25 L-36.70 46.69 L-36.21 46.10 L-35.73 45.50 L-35.27 44.88 L-34.82 44.26 L-34.37 43.64 L-33.93 43.02 L-33.50 42.38 L-33.08 41.74 L-32.67 41.09 L-32.25 40.45 L-31.86 39.79 L-31.47 39.13 L-31.09 38.47 L-30.71 37.80 L-30.34 37.12 L-29.99 36.44 L-29.64 35.76 L-29.30 35.07 L-28.98 34.38 L-28.66 33.68 L-28.35 32.98 L-28.06 32.27 L-27.77 31.56 L-27.50 30.84 L-27.24 30.13 L-26.98 29.41 L-26.73 28.69 L-26.48 27.96 L-26.23 27.24 L-25.99 26.52 L-25.75 25.80 L-25.51 25.08 L-25.26 24.36 L-25.02 23.65 L-24.78 22.93 L-24.53 22.22 L-24.28 21.51 L-24.03 20.80Z" fill="none" stroke="#fcefc8" stroke-width="2.00" stroke-linejoin="round"/>
<path d="M-65.00 50.50 L-65.53 50.50 L-66.07 50.47 L-66.60 50.43 L-67.13 50.38 L-67.66 50.32 L-68.19 50.27 L-68.73 50.21 L-69.26 50.16 L-69.79 50.13 L-70.32 50.11 L-70.86 50.11 L-71.39 50.14 L-71.92 50.21 L-72.44 50.33 L-72.94 50.50 L-73.42 50.75 L-73.85 51.06 L-74.26 51.41 L-74.60 51.81 L-74.85 52.28 L-74.96 52.80 L-74.90 53.33 L-74.69 53.82 L-74.38 54.25 L-73.98 54.61 L-73.51 54.84 L-72.99 54.94 L-72.45 54.89 L-71.95 54.72 L-71.47 54.48 L-71.90 54.80 L-72.28 55.17 L-72.56 55.63 L-72.71 56.14 L-72.72 56.67 L-72.58 57.18 L-72.33 57.66 L-71.99 58.06 L-71.55 58.35 L-71.03 58.49 L-70.50 58.48 L-69.98 58.35 L-69.49 58.15 L-69.02 57.90 L-68.59 57.59 L-68.20 57.22 L-67.86 56.81 L-67.56 56.37 L-67.29 55.91 L-67.05 55.43 L-66.83 54.94 L-66.62 54.45 L-66.42 53.96 L-66.23 53.46 L-66.04 52.96 L-65.86 52.46 L-65.66 51.96 L-65.46 51.47 L-65.24 50.98Z" fill="#f48a69" stroke="#d0914a" stroke-width="3.60" stroke-linejoin="round"/>
<path d="M-65.00 50.50 L-65.53 50.50 L-66.07 50.47 L-66.60 50.43 L-67.13 50.38 L-67.66 50.32 L-68.19 50.27 L-68.73 50.21 L-69.26 50.16 L-69.79 50.13 L-70.32 50.11 L-70.86 50.11 L-71.39 50.14 L-71.92 50.21 L-72.44 50.33 L-72.94 50.50 L-73.42 50.75 L-73.85 51.06 L-74.26 51.41 L-74.60 51.81 L-74.85 52.28 L-74.96 52.80 L-74.90 53.33 L-74.69 53.82 L-74.38 54.25 L-73.98 54.61 L-73.51 54.84 L-72.99 54.94 L-72.45 54.89 L-71.95 54.72 L-71.47 54.48 L-71.90 54.80 L-72.28 55.17 L-72.56 55.63 L-72.71 56.14 L-72.72 56.67 L-72.58 57.18 L-72.33 57.66 L-71.99 58.06 L-71.55 58.35 L-71.03 58.49 L-70.50 58.48 L-69.98 58.35 L-69.49 58.15 L-69.02 57.90 L-68.59 57.59 L-68.20 57.22 L-67.86 56.81 L-67.56 56.37 L-67.29 55.91 L-67.05 55.43 L-66.83 54.94 L-66.62 54.45 L-66.42 53.96 L-66.23 53.46 L-66.04 52.96 L-65.86 52.46 L-65.66 51.96 L-65.46 51.47 L-65.24 50.98Z" fill="#f48a69" stroke="#fcefc8" stroke-width="2.00" stroke-linejoin="round"/>
<path d="M-65.00 50.50 L-65.53 50.50 L-66.07 50.47 L-66.60 50.43 L-67.13 50.38 L-67.66 50.32 L-68.19 50.27 L-68.73 50.21 L-69.26 50.16 L-69.79 50.13 L-70.32 50.11 L-70.86 50.11 L-71.39 50.14 L-71.92 50.21 L-72.44 50.33 L-72.94 50.50 L-73.42 50.75 L-73.85 51.06 L-74.26 51.41 L-74.60 51.81 L-74.85 52.28 L-74.96 52.80 L-74.90 53.33 L-74.69 53.82 L-74.38 54.25 L-73.98 54.61 L-73.51 54.84 L-72.99 54.94 L-72.45 54.89 L-71.95 54.72 L-71.47 54.48 L-71.90 54.80 L-72.28 55.17 L-72.56 55.63 L-72.71 56.14 L-72.72 56.67 L-72.58 57.18 L-72.33 57.66 L-71.99 58.06 L-71.55 58.35 L-71.03 58.49 L-70.50 58.48 L-69.98 58.35 L-69.49 58.15 L-69.02 57.90 L-68.59 57.59 L-68.20 57.22 L-67.86 56.81 L-67.56 56.37 L-67.29 55.91 L-67.05 55.43 L-66.83 54.94 L-66.62 54.45 L-66.42 53.96 L-66.23 53.46 L-66.04 52.96 L-65.86 52.46 L-65.66 51.96 L-65.46 51.47 L-65.24 50.98Z" fill="#f48a69" stroke="#d0914a" stroke-width="0.70" stroke-linejoin="round"/>
<path d="M-31.00 25.50 L-31.53 25.53 L-32.07 25.57 L-32.60 25.60 L-33.14 25.60 L-33.67 25.61 L-34.21 25.61 L-34.75 25.60 L-35.28 25.59 L-35.82 25.58 L-36.35 25.57 L-36.89 25.55 L-37.42 25.53 L-37.96 25.51 L-38.49 25.50 L-39.03 25.48 L-39.56 25.46 L-40.10 25.45 L-40.63 25.44 L-41.17 25.43 L-41.71 25.44 L-42.24 25.45 L-42.78 25.45 L-43.31 25.48 L-43.85 25.51 L-44.38 25.54 L-44.91 25.59 L-45.45 25.65 L-45.98 25.72 L-46.51 25.80 L-47.03 25.91 L-47.55 26.02 L-48.07 26.16 L-48.58 26.33 L-49.09 26.50 L-49.58 26.71 L-50.05 26.95 L-50.53 27.20 L-50.99 27.48 L-51.43 27.77 L-51.87 28.09 L-52.29 28.41 L-52.70 28.76 L-53.10 29.12 L-53.46 29.51 L-53.81 29.91 L-54.12 30.35 L-54.39 30.82 L-54.60 31.30 L-54.76 31.82 L-54.83 32.35 L-54.82 32.88 L-54.72 33.41 L-54.54 33.91 L-54.29 34.39 L-53.99 34.83 L-53.64 35.23 L-53.25 35.60 L-52.82 35.91 L-52.34 36.15 L-51.84 36.34 L-51.32 36.45 L-50.78 36.48 L-50.25 36.46 L-49.72 36.40 L-49.19 36.29 L-48.68 36.12 L-48.18 35.93 L-47.70 35.71 L-47.22 35.46 L-46.76 35.19 L-47.10 35.43 L-47.45 35.66 L-47.78 35.91 L-48.10 36.17 L-48.41 36.45 L-48.70 36.75 L-48.98 37.06 L-49.24 37.39 L-49.46 37.74 L-49.68 38.09 L-49.84 38.48 L-49.98 38.87 L-50.08 39.27 L-50.13 39.69 L-50.13 40.10 L-50.11 40.52 L-50.02 40.92 L-49.90 41.32 L-49.75 41.71 L-49.55 42.08 L-49.33 42.43 L-49.08 42.76 L-48.79 43.06 L-48.47 43.32 L-48.12 43.54 L-47.74 43.73 L-47.35 43.86 L-46.94 43.93 L-46.53 43.98 L-46.11 43.98 L-45.70 43.94 L-45.28 43.88 L-44.88 43.79 L-44.48 43.68 L-44.08 43.55 L-43.69 43.40 L-43.31 43.24 L-42.93 43.06 L-42.56 42.88 L-42.19 42.68 L-41.83 42.48 L-41.47 42.27 L-41.13 42.03 L-40.79 41.78 L-40.46 41.53 L-40.13 41.27 L-39.84 40.98 L-39.54 40.69 L-39.24 40.40 L-38.97 40.09 L-38.71 39.76 L-38.45 39.44 L-38.18 39.11 L-37.95 38.77 L-37.71 38.42 L-37.48 38.08 L-37.25 37.73 L-37.04 37.37 L-36.83 37.01 L-36.62 36.65 L-36.41 36.29 L-36.21 35.93 L-36.02 35.56 L-35.83 35.19 L-35.64 34.82 L-35.45 34.45 L-35.27 34.07 L-35.09 33.70 L-34.91 33.32 L-34.73 32.95 L-34.55 32.57 L-34.37 32.19 L-34.20 31.81 L-34.02 31.43 L-33.85 31.06 L-33.67 30.68 L-33.50 30.30 L-33.32 29.92 L-33.14 29.55 L-32.96 29.17 L-32.78 28.80 L-32.60 28.42 L-32.41 28.05 L-32.22 27.68 L-32.03 27.31 L-31.84 26.94 L-31.63 26.58 L-31.42 26.22 L-31.21 25.86Z" fill="#f48a69" stroke="#d0914a" stroke-width="4.30" stroke-linejoin="round"/>
<path d="M-31.00 25.50 L-31.53 25.53 L-32.07 25.57 L-32.60 25.60 L-33.14 25.60 L-33.67 25.61 L-34.21 25.61 L-34.75 25.60 L-35.28 25.59 L-35.82 25.58 L-36.35 25.57 L-36.89 25.55 L-37.42 25.53 L-37.96 25.51 L-38.49 25.50 L-39.03 25.48 L-39.56 25.46 L-40.10 25.45 L-40.63 25.44 L-41.17 25.43 L-41.71 25.44 L-42.24 25.45 L-42.78 25.45 L-43.31 25.48 L-43.85 25.51 L-44.38 25.54 L-44.91 25.59 L-45.45 25.65 L-45.98 25.72 L-46.51 25.80 L-47.03 25.91 L-47.55 26.02 L-48.07 26.16 L-48.58 26.33 L-49.09 26.50 L-49.58 26.71 L-50.05 26.95 L-50.53 27.20 L-50.99 27.48 L-51.43 27.77 L-51.87 28.09 L-52.29 28.41 L-52.70 28.76 L-53.10 29.12 L-53.46 29.51 L-53.81 29.91 L-54.12 30.35 L-54.39 30.82 L-54.60 31.30 L-54.76 31.82 L-54.83 32.35 L-54.82 32.88 L-54.72 33.41 L-54.54 33.91 L-54.29 34.39 L-53.99 34.83 L-53.64 35.23 L-53.25 35.60 L-52.82 35.91 L-52.34 36.15 L-51.84 36.34 L-51.32 36.45 L-50.78 36.48 L-50.25 36.46 L-49.72 36.40 L-49.19 36.29 L-48.68 36.12 L-48.18 35.93 L-47.70 35.71 L-47.22 35.46 L-46.76 35.19 L-47.10 35.43 L-47.45 35.66 L-47.78 35.91 L-48.10 36.17 L-48.41 36.45 L-48.70 36.75 L-48.98 37.06 L-49.24 37.39 L-49.46 37.74 L-49.68 38.09 L-49.84 38.48 L-49.98 38.87 L-50.08 39.27 L-50.13 39.69 L-50.13 40.10 L-50.11 40.52 L-50.02 40.92 L-49.90 41.32 L-49.75 41.71 L-49.55 42.08 L-49.33 42.43 L-49.08 42.76 L-48.79 43.06 L-48.47 43.32 L-48.12 43.54 L-47.74 43.73 L-47.35 43.86 L-46.94 43.93 L-46.53 43.98 L-46.11 43.98 L-45.70 43.94 L-45.28 43.88 L-44.88 43.79 L-44.48 43.68 L-44.08 43.55 L-43.69 43.40 L-43.31 43.24 L-42.93 43.06 L-42.56 42.88 L-42.19 42.68 L-41.83 42.48 L-41.47 42.27 L-41.13 42.03 L-40.79 41.78 L-40.46 41.53 L-40.13 41.27 L-39.84 40.98 L-39.54 40.69 L-39.24 40.40 L-38.97 40.09 L-38.71 39.76 L-38.45 39.44 L-38.18 39.11 L-37.95 38.77 L-37.71 38.42 L-37.48 38.08 L-37.25 37.73 L-37.04 37.37 L-36.83 37.01 L-36.62 36.65 L-36.41 36.29 L-36.21 35.93 L-36.02 35.56 L-35.83 35.19 L-35.64 34.82 L-35.45 34.45 L-35.27 34.07 L-35.09 33.70 L-34.91 33.32 L-34.73 32.95 L-34.55 32.57 L-34.37 32.19 L-34.20 31.81 L-34.02 31.43 L-33.85 31.06 L-33.67 30.68 L-33.50 30.30 L-33.32 29.92 L-33.14 29.55 L-32.96 29.17 L-32.78 28.80 L-32.60 28.42 L-32.41 28.05 L-32.22 27.68 L-32.03 27.31 L-31.84 26.94 L-31.63 26.58 L-31.42 26.22 L-31.21 25.86Z" fill="#f48a69" stroke="#fcefc8" stroke-width="3.00" stroke-linejoin="round"/>
<path d="M-31.00 25.50 L-31.53 25.53 L-32.07 25.57 L-32.60 25.60 L-33.14 25.60 L-33.67 25.61 L-34.21 25.61 L-34.75 25.60 L-35.28 25.59 L-35.82 25.58 L-36.35 25.57 L-36.89 25.55 L-37.42 25.53 L-37.96 25.51 L-38.49 25.50 L-39.03 25.48 L-39.56 25.46 L-40.10 25.45 L-40.63 25.44 L-41.17 25.43 L-41.71 25.44 L-42.24 25.45 L-42.78 25.45 L-43.31 25.48 L-43.85 25.51 L-44.38 25.54 L-44.91 25.59 L-45.45 25.65 L-45.98 25.72 L-46.51 25.80 L-47.03 25.91 L-47.55 26.02 L-48.07 26.16 L-48.58 26.33 L-49.09 26.50 L-49.58 26.71 L-50.05 26.95 L-50.53 27.20 L-50.99 27.48 L-51.43 27.77 L-51.87 28.09 L-52.29 28.41 L-52.70 28.76 L-53.10 29.12 L-53.46 29.51 L-53.81 29.91 L-54.12 30.35 L-54.39 30.82 L-54.60 31.30 L-54.76 31.82 L-54.83 32.35 L-54.82 32.88 L-54.72 33.41 L-54.54 33.91 L-54.29 34.39 L-53.99 34.83 L-53.64 35.23 L-53.25 35.60 L-52.82 35.91 L-52.34 36.15 L-51.84 36.34 L-51.32 36.45 L-50.78 36.48 L-50.25 36.46 L-49.72 36.40 L-49.19 36.29 L-48.68 36.12 L-48.18 35.93 L-47.70 35.71 L-47.22 35.46 L-46.76 35.19 L-47.10 35.43 L-47.45 35.66 L-47.78 35.91 L-48.10 36.17 L-48.41 36.45 L-48.70 36.75 L-48.98 37.06 L-49.24 37.39 L-49.46 37.74 L-49.68 38.09 L-49.84 38.48 L-49.98 38.87 L-50.08 39.27 L-50.13 39.69 L-50.13 40.10 L-50.11 40.52 L-50.02 40.92 L-49.90 41.32 L-49.75 41.71 L-49.55 42.08 L-49.33 42.43 L-49.08 42.76 L-48.79 43.06 L-48.47 43.32 L-48.12 43.54 L-47.74 43.73 L-47.35 43.86 L-46.94 43.93 L-46.53 43.98 L-46.11 43.98 L-45.70 43.94 L-45.28 43.88 L-44.88 43.79 L-44.48 43.68 L-44.08 43.55 L-43.69 43.40 L-43.31 43.24 L-42.93 43.06 L-42.56 42.88 L-42.19 42.68 L-41.83 42.48 L-41.47 42.27 L-41.13 42.03 L-40.79 41.78 L-40.46 41.53 L-40.13 41.27 L-39.84 40.98 L-39.54 40.69 L-39.24 40.40 L-38.97 40.09 L-38.71 39.76 L-38.45 39.44 L-38.18 39.11 L-37.95 38.77 L-37.71 38.42 L-37.48 38.08 L-37.25 37.73 L-37.04 37.37 L-36.83 37.01 L-36.62 36.65 L-36.41 36.29 L-36.21 35.93 L-36.02 35.56 L-35.83 35.19 L-35.64 34.82 L-35.45 34.45 L-35.27 34.07 L-35.09 33.70 L-34.91 33.32 L-34.73 32.95 L-34.55 32.57 L-34.37 32.19 L-34.20 31.81 L-34.02 31.43 L-33.85 31.06 L-33.67 30.68 L-33.50 30.30 L-33.32 29.92 L-33.14 29.55 L-32.96 29.17 L-32.78 28.80 L-32.60 28.42 L-32.41 28.05 L-32.22 27.68 L-32.03 27.31 L-31.84 26.94 L-31.63 26.58 L-31.42 26.22 L-31.21 25.86Z" fill="#f48a69" stroke="#d0914a" stroke-width="0.90" stroke-linejoin="round"/>
<path d="M-10.00 9.00 L-11.50 8.97 L-13.01 8.96 L-14.51 9.01 L-16.01 9.08 L-17.51 9.19 L-19.01 9.32 L-20.50 9.49 L-21.99 9.67 L-23.48 9.89 L-24.97 10.11 L-26.45 10.38 L-27.93 10.65 L-29.40 10.94 L-30.87 11.25 L-32.34 11.57 L-33.81 11.93 L-35.27 12.28 L-36.72 12.67 L-38.17 13.06 L-39.62 13.47 L-41.06 13.91 L-42.49 14.35 L-43.92 14.82 L-45.35 15.30 L-46.77 15.79 L-48.18 16.32 L-49.58 16.84 L-50.98 17.41 L-52.37 17.99 L-53.75 18.57 L-55.12 19.19 L-56.49 19.80 L-57.86 20.42 L-59.22 21.08 L-60.58 21.73 L-61.93 22.38 L-63.27 23.06 L-64.61 23.74 L-65.95 24.42 L-67.28 25.13 L-68.61 25.83 L-69.93 26.54 L-71.25 27.27 L-72.56 28.00 L-73.88 28.73 L-75.18 29.48 L-76.48 30.23 L-77.78 30.99 L-79.08 31.75 L-80.36 32.53 L-81.65 33.31 L-82.93 34.09 L-84.21 34.89 L-85.48 35.69 L-86.75 36.50 L-88.01 37.32 L-89.27 38.15 L-90.52 38.98 L-91.76 39.82 L-93.00 40.67 L-94.24 41.53 L-95.46 42.40 L-96.69 43.28 L-97.89 44.18 L-99.06 45.12 L-100.20 46.10 L-101.28 47.14 L-102.27 48.27 L-103.07 49.55 L-103.40 51.00 L-103.11 52.55 L-102.59 54.04 L-101.87 55.44 L-100.99 56.76 L-100.00 57.99 L-98.92 59.14 L-97.77 60.22 L-96.57 61.24 L-95.32 62.20 L-94.03 63.12 L-92.70 63.98 L-91.35 64.79 L-89.94 65.52 L-88.52 66.21 L-87.09 66.88 L-85.66 67.54 L-84.21 68.17 L-82.76 68.79 L-81.29 69.38 L-79.82 69.95 L-78.33 70.49 L-76.84 71.00 L-75.34 71.49 L-73.82 71.93 L-72.29 72.35 L-70.76 72.72 L-69.21 73.05 L-67.66 73.34 L-66.10 73.56 L-64.53 73.76 L-62.95 73.89 L-61.38 73.96 L-59.80 73.99 L-58.22 73.95 L-56.64 73.88 L-55.06 73.75 L-53.49 73.57 L-51.93 73.34 L-50.38 73.05 L-48.83 72.72 L-47.31 72.30 L-45.80 71.84 L-44.31 71.30 L-42.85 70.70 L-41.42 70.05 L-40.03 69.30 L-38.67 68.48 L-37.35 67.61 L-36.11 66.64 L-34.93 65.59 L-33.80 64.49 L-32.76 63.30 L-31.77 62.07 L-30.79 60.83 L-29.82 59.58 L-28.85 58.33 L-27.89 57.08 L-26.94 55.82 L-26.00 54.55 L-25.08 53.26 L-24.17 51.97 L-23.28 50.66 L-22.41 49.34 L-21.56 48.01 L-20.74 46.66 L-19.94 45.30 L-19.16 43.92 L-18.42 42.53 L-17.71 41.12 L-17.04 39.69 L-16.40 38.24 L-15.81 36.78 L-15.26 35.30 L-14.76 33.80 L-14.31 32.29 L-13.90 30.76 L-13.51 29.23 L-13.16 27.69 L-12.82 26.15 L-12.50 24.60 L-12.19 23.05 L-11.90 21.50 L-11.62 19.94 L-11.36 18.38 L-11.10 16.82 L-10.86 15.26 L-10.63 13.70 L-10.41 12.13 L-10.20 10.57Z" fill="none" stroke="#d0914a" stroke-width="1.80" stroke-linejoin="round"/></g><path id="antL" d="M3.79 2.62 C-2.5 -7.6 -6.8 -14.6 -10.32 -21.84 A2.3 2.3 0 0 0 -14.16 -19.32 C-10.4 -12.6 -3.6 -2.8 2.61 3.38Z" fill="#e9a982" stroke="#d0914a" stroke-width="1.10" stroke-linejoin="round"/><g id="mothL"><use href="#halfL"/><use href="#halfL" transform="scale(-1 1)"/><path d="M0 2.2 C-5 2.2 -10.5 5 -10.5 10.5 C-10.2 22 -9 34 -7.4 42 C-5.8 49 -2.8 55 0 60 C2.8 55 5.8 49 7.4 42 C9 34 10.2 22 10.5 10.5 C10.5 5 5 2.2 0 2.2Z" fill="#fbf0da" stroke="#d0914a" stroke-width="1.70"/>
<path d="M-5.3 9 q1.3 1.4 2.6 0" fill="none" stroke="#d9b07e" stroke-width="0.90"/>
<path d="M1.7 11 q1.3 1.4 2.6 0" fill="none" stroke="#d9b07e" stroke-width="0.90"/>
<path d="M-3.3 16 q1.3 1.4 2.6 0" fill="none" stroke="#d9b07e" stroke-width="0.90"/>
<path d="M3.2 19 q1.3 1.4 2.6 0" fill="none" stroke="#d9b07e" stroke-width="0.90"/>
<path d="M-6.3 23 q1.3 1.4 2.6 0" fill="none" stroke="#d9b07e" stroke-width="0.90"/>
<path d="M0.19999999999999996 25 q1.3 1.4 2.6 0" fill="none" stroke="#d9b07e" stroke-width="0.90"/>
<path d="M-4.3 31 q1.3 1.4 2.6 0" fill="none" stroke="#d9b07e" stroke-width="0.90"/>
<path d="M2.2 34 q1.3 1.4 2.6 0" fill="none" stroke="#d9b07e" stroke-width="0.90"/>
<path d="M-2.8 40 q1.3 1.4 2.6 0" fill="none" stroke="#d9b07e" stroke-width="0.90"/>
<path d="M0.7 46 q1.3 1.4 2.6 0" fill="none" stroke="#d9b07e" stroke-width="0.90"/>
<path d="M-1.8 52 q1.3 1.4 2.6 0" fill="none" stroke="#d9b07e" stroke-width="0.90"/><use href="#antL"/><use href="#antL" transform="scale(-1 1)"/></g></defs></svg>
<svg class="panel" style="left:259.5px;top:69px" width="705.80" height="234.30" viewBox="0 0 705.80 234.30"><rect width="100%" height="100%" fill="#faebd0"/><use href="#mothS" transform="translate(-41.90 2.20) scale(0.536)"/>
<use href="#mothS" transform="translate(75.10 2.20) scale(0.536)"/>
<use href="#mothS" transform="translate(192.10 2.20) scale(0.536)"/>
<use href="#mothS" transform="translate(309.10 2.20) scale(0.536)"/>
<use href="#mothS" transform="translate(426.10 2.20) scale(0.536)"/>
<use href="#mothS" transform="translate(543.10 2.20) scale(0.536)"/>
<use href="#mothS" transform="translate(660.10 2.20) scale(0.536)"/>
<use href="#mothS" transform="translate(16.60 60.75) scale(0.536)"/>
<use href="#mothS" transform="translate(133.60 60.75) scale(0.536)"/>
<use href="#mothS" transform="translate(250.60 60.75) scale(0.536)"/>
<use href="#mothS" transform="translate(367.60 60.75) scale(0.536)"/>
<use href="#mothS" transform="translate(484.60 60.75) scale(0.536)"/>
<use href="#mothS" transform="translate(601.60 60.75) scale(0.536)"/>
<use href="#mothS" transform="translate(718.60 60.75) scale(0.536)"/>
<use href="#mothS" transform="translate(-41.90 121.00) scale(0.536)"/>
<use href="#mothS" transform="translate(75.10 121.00) scale(0.536)"/>
<use href="#mothS" transform="translate(192.10 121.00) scale(0.536)"/>
<use href="#mothS" transform="translate(309.10 121.00) scale(0.536)"/>
<use href="#mothS" transform="translate(426.10 121.00) scale(0.536)"/>
<use href="#mothS" transform="translate(543.10 121.00) scale(0.536)"/>
<use href="#mothS" transform="translate(660.10 121.00) scale(0.536)"/>
<use href="#mothS" transform="translate(16.60 177.50) scale(0.536)"/>
<use href="#mothS" transform="translate(133.60 177.50) scale(0.536)"/>
<use href="#mothS" transform="translate(250.60 177.50) scale(0.536)"/>
<use href="#mothS" transform="translate(367.60 177.50) scale(0.536)"/>
<use href="#mothS" transform="translate(484.60 177.50) scale(0.536)"/>
<use href="#mothS" transform="translate(601.60 177.50) scale(0.536)"/>
<use href="#mothS" transform="translate(718.60 177.50) scale(0.536)"/>
<use href="#mothS" transform="translate(-41.90 236.50) scale(0.536)"/>
<use href="#mothS" transform="translate(75.10 236.50) scale(0.536)"/>
<use href="#mothS" transform="translate(192.10 236.50) scale(0.536)"/>
<use href="#mothS" transform="translate(309.10 236.50) scale(0.536)"/>
<use href="#mothS" transform="translate(426.10 236.50) scale(0.536)"/>
<use href="#mothS" transform="translate(543.10 236.50) scale(0.536)"/>
<use href="#mothS" transform="translate(660.10 236.50) scale(0.536)"/></svg>
<svg class="panel" style="left:259.3px;top:395.3px" width="706.00" height="245.50" viewBox="0 0 706.00 245.50"><rect width="100%" height="100%" fill="#faebd0"/><use href="#mothM" transform="translate(-32.10 4.90) scale(0.713)"/>
<use href="#mothM" transform="translate(123.90 4.90) scale(0.713)"/>
<use href="#mothM" transform="translate(279.90 4.90) scale(0.713)"/>
<use href="#mothM" transform="translate(435.90 4.90) scale(0.713)"/>
<use href="#mothM" transform="translate(591.90 4.90) scale(0.713)"/>
<use href="#mothM" transform="translate(747.90 4.90) scale(0.713)"/>
<use href="#mothM" transform="translate(45.90 82.50) scale(0.713)"/>
<use href="#mothM" transform="translate(201.90 82.50) scale(0.713)"/>
<use href="#mothM" transform="translate(357.90 82.50) scale(0.713)"/>
<use href="#mothM" transform="translate(513.90 82.50) scale(0.713)"/>
<use href="#mothM" transform="translate(669.90 82.50) scale(0.713)"/>
<use href="#mothM" transform="translate(-32.10 163.30) scale(0.713)"/>
<use href="#mothM" transform="translate(123.90 163.30) scale(0.713)"/>
<use href="#mothM" transform="translate(279.90 163.30) scale(0.713)"/>
<use href="#mothM" transform="translate(435.90 163.30) scale(0.713)"/>
<use href="#mothM" transform="translate(591.90 163.30) scale(0.713)"/>
<use href="#mothM" transform="translate(747.90 163.30) scale(0.713)"/>
<use href="#mothM" transform="translate(45.90 238.00) scale(0.713)"/>
<use href="#mothM" transform="translate(201.90 238.00) scale(0.713)"/>
<use href="#mothM" transform="translate(357.90 238.00) scale(0.713)"/>
<use href="#mothM" transform="translate(513.90 238.00) scale(0.713)"/>
<use href="#mothM" transform="translate(669.90 238.00) scale(0.713)"/></svg>
<svg class="panel" style="left:259.5px;top:724px" width="705.90" height="244.00" viewBox="0 0 705.90 244.00"><rect width="100%" height="100%" fill="#faebd0"/><use href="#mothL" transform="translate(31.70 4.00) scale(1.0)"/>
<use href="#mothL" transform="translate(249.20 4.00) scale(1.0)"/>
<use href="#mothL" transform="translate(466.70 4.00) scale(1.0)"/>
<use href="#mothL" transform="translate(684.20 4.00) scale(1.0)"/>
<use href="#mothL" transform="translate(-77.05 112.50) scale(1.0)"/>
<use href="#mothL" transform="translate(140.45 112.50) scale(1.0)"/>
<use href="#mothL" transform="translate(357.95 112.50) scale(1.0)"/>
<use href="#mothL" transform="translate(575.45 112.50) scale(1.0)"/>
<use href="#mothL" transform="translate(792.95 112.50) scale(1.0)"/>
<use href="#mothL" transform="translate(31.70 223.50) scale(1.0)"/>
<use href="#mothL" transform="translate(249.20 223.50) scale(1.0)"/>
<use href="#mothL" transform="translate(466.70 223.50) scale(1.0)"/>
<use href="#mothL" transform="translate(684.20 223.50) scale(1.0)"/></svg>
<svg style="position:absolute;left:0;top:0;will-change:transform" width="1000" height="1000" viewBox="0 0 1000 1000">
<rect x="258.35" y="44.50" width="1.3" height="20.00" fill="#1a1a1a"/>
<rect x="265.64" y="58.40" width="1.3" height="6.10" fill="#1a1a1a"/>
<rect x="272.92" y="58.40" width="1.3" height="6.10" fill="#1a1a1a"/>
<rect x="280.21" y="58.40" width="1.3" height="6.10" fill="#1a1a1a"/>
<rect x="287.50" y="58.40" width="1.3" height="6.10" fill="#1a1a1a"/>
<rect x="294.78" y="58.40" width="1.3" height="6.10" fill="#1a1a1a"/>
<rect x="302.07" y="58.40" width="1.3" height="6.10" fill="#1a1a1a"/>
<rect x="309.35" y="58.40" width="1.3" height="6.10" fill="#1a1a1a"/>
<rect x="316.64" y="50.60" width="1.3" height="13.90" fill="#1a1a1a"/>
<rect x="323.93" y="58.40" width="1.3" height="6.10" fill="#1a1a1a"/>
<rect x="331.21" y="58.40" width="1.3" height="6.10" fill="#1a1a1a"/>
<rect x="338.50" y="58.40" width="1.3" height="6.10" fill="#1a1a1a"/>
<rect x="345.79" y="58.40" width="1.3" height="6.10" fill="#1a1a1a"/>
<rect x="353.07" y="58.40" width="1.3" height="6.10" fill="#1a1a1a"/>
<rect x="360.36" y="58.40" width="1.3" height="6.10" fill="#1a1a1a"/>
<rect x="367.64" y="58.40" width="1.3" height="6.10" fill="#1a1a1a"/>
<rect x="374.93" y="44.50" width="1.3" height="20.00" fill="#1a1a1a"/>
<rect x="382.22" y="58.40" width="1.3" height="6.10" fill="#1a1a1a"/>
<rect x="389.50" y="58.40" width="1.3" height="6.10" fill="#1a1a1a"/>
<rect x="396.79" y="58.40" width="1.3" height="6.10" fill="#1a1a1a"/>
<rect x="404.08" y="58.40" width="1.3" height="6.10" fill="#1a1a1a"/>
<rect x="411.36" y="58.40" width="1.3" height="6.10" fill="#1a1a1a"/>
<rect x="418.65" y="58.40" width="1.3" height="6.10" fill="#1a1a1a"/>
<rect x="425.93" y="58.40" width="1.3" height="6.10" fill="#1a1a1a"/>
<rect x="433.22" y="50.60" width="1.3" height="13.90" fill="#1a1a1a"/>
<rect x="440.51" y="58.40" width="1.3" height="6.10" fill="#1a1a1a"/>
<rect x="447.79" y="58.40" width="1.3" height="6.10" fill="#1a1a1a"/>
<rect x="455.08" y="58.40" width="1.3" height="6.10" fill="#1a1a1a"/>
<rect x="462.37" y="58.40" width="1.3" height="6.10" fill="#1a1a1a"/>
<rect x="469.65" y="58.40" width="1.3" height="6.10" fill="#1a1a1a"/>
<rect x="476.94" y="58.40" width="1.3" height="6.10" fill="#1a1a1a"/>
<rect x="484.22" y="58.40" width="1.3" height="6.10" fill="#1a1a1a"/>
<rect x="491.51" y="44.50" width="1.3" height="20.00" fill="#1a1a1a"/>
<rect x="498.80" y="58.40" width="1.3" height="6.10" fill="#1a1a1a"/>
<rect x="506.08" y="58.40" width="1.3" height="6.10" fill="#1a1a1a"/>
<rect x="513.37" y="58.40" width="1.3" height="6.10" fill="#1a1a1a"/>
<rect x="520.66" y="58.40" width="1.3" height="6.10" fill="#1a1a1a"/>
<rect x="527.94" y="58.40" width="1.3" height="6.10" fill="#1a1a1a"/>
<rect x="535.23" y="58.40" width="1.3" height="6.10" fill="#1a1a1a"/>
<rect x="542.51" y="58.40" width="1.3" height="6.10" fill="#1a1a1a"/>
<rect x="549.80" y="50.60" width="1.3" height="13.90" fill="#1a1a1a"/>
<rect x="557.09" y="58.40" width="1.3" height="6.10" fill="#1a1a1a"/>
<rect x="564.37" y="58.40" width="1.3" height="6.10" fill="#1a1a1a"/>
<rect x="571.66" y="58.40" width="1.3" height="6.10" fill="#1a1a1a"/>
<rect x="578.95" y="58.40" width="1.3" height="6.10" fill="#1a1a1a"/>
<rect x="586.23" y="58.40" width="1.3" height="6.10" fill="#1a1a1a"/>
<rect x="593.52" y="58.40" width="1.3" height="6.10" fill="#1a1a1a"/>
<rect x="600.80" y="58.40" width="1.3" height="6.10" fill="#1a1a1a"/>
<rect x="608.09" y="44.50" width="1.3" height="20.00" fill="#1a1a1a"/>
<rect x="615.38" y="58.40" width="1.3" height="6.10" fill="#1a1a1a"/>
<rect x="622.66" y="58.40" width="1.3" height="6.10" fill="#1a1a1a"/>
<rect x="629.95" y="58.40" width="1.3" height="6.10" fill="#1a1a1a"/>
<rect x="637.24" y="58.40" width="1.3" height="6.10" fill="#1a1a1a"/>
<rect x="644.52" y="58.40" width="1.3" height="6.10" fill="#1a1a1a"/>
<rect x="651.81" y="58.40" width="1.3" height="6.10" fill="#1a1a1a"/>
<rect x="659.09" y="58.40" width="1.3" height="6.10" fill="#1a1a1a"/>
<rect x="666.38" y="50.60" width="1.3" height="13.90" fill="#1a1a1a"/>
<rect x="673.67" y="58.40" width="1.3" height="6.10" fill="#1a1a1a"/>
<rect x="680.95" y="58.40" width="1.3" height="6.10" fill="#1a1a1a"/>
<rect x="688.24" y="58.40" width="1.3" height="6.10" fill="#1a1a1a"/>
<rect x="695.52" y="58.40" width="1.3" height="6.10" fill="#1a1a1a"/>
<rect x="702.81" y="58.40" width="1.3" height="6.10" fill="#1a1a1a"/>
<rect x="710.10" y="58.40" width="1.3" height="6.10" fill="#1a1a1a"/>
<rect x="717.38" y="58.40" width="1.3" height="6.10" fill="#1a1a1a"/>
<rect x="724.67" y="44.50" width="1.3" height="20.00" fill="#1a1a1a"/>
<rect x="731.96" y="58.40" width="1.3" height="6.10" fill="#1a1a1a"/>
<rect x="739.24" y="58.40" width="1.3" height="6.10" fill="#1a1a1a"/>
<rect x="746.53" y="58.40" width="1.3" height="6.10" fill="#1a1a1a"/>
<rect x="753.81" y="58.40" width="1.3" height="6.10" fill="#1a1a1a"/>
<rect x="761.10" y="58.40" width="1.3" height="6.10" fill="#1a1a1a"/>
<rect x="768.39" y="58.40" width="1.3" height="6.10" fill="#1a1a1a"/>
<rect x="775.67" y="58.40" width="1.3" height="6.10" fill="#1a1a1a"/>
<rect x="782.96" y="50.60" width="1.3" height="13.90" fill="#1a1a1a"/>
<rect x="790.25" y="58.40" width="1.3" height="6.10" fill="#1a1a1a"/>
<rect x="797.53" y="58.40" width="1.3" height="6.10" fill="#1a1a1a"/>
<rect x="804.82" y="58.40" width="1.3" height="6.10" fill="#1a1a1a"/>
<rect x="812.11" y="58.40" width="1.3" height="6.10" fill="#1a1a1a"/>
<rect x="819.39" y="58.40" width="1.3" height="6.10" fill="#1a1a1a"/>
<rect x="826.68" y="58.40" width="1.3" height="6.10" fill="#1a1a1a"/>
<rect x="833.96" y="58.40" width="1.3" height="6.10" fill="#1a1a1a"/>
<rect x="841.25" y="44.50" width="1.3" height="20.00" fill="#1a1a1a"/>
<rect x="848.54" y="58.40" width="1.3" height="6.10" fill="#1a1a1a"/>
<rect x="855.82" y="58.40" width="1.3" height="6.10" fill="#1a1a1a"/>
<rect x="863.11" y="58.40" width="1.3" height="6.10" fill="#1a1a1a"/>
<rect x="870.39" y="58.40" width="1.3" height="6.10" fill="#1a1a1a"/>
<rect x="877.68" y="58.40" width="1.3" height="6.10" fill="#1a1a1a"/>
<rect x="884.97" y="58.40" width="1.3" height="6.10" fill="#1a1a1a"/>
<rect x="892.25" y="58.40" width="1.3" height="6.10" fill="#1a1a1a"/>
<rect x="899.54" y="50.60" width="1.3" height="13.90" fill="#1a1a1a"/>
<rect x="906.83" y="58.40" width="1.3" height="6.10" fill="#1a1a1a"/>
<rect x="914.11" y="58.40" width="1.3" height="6.10" fill="#1a1a1a"/>
<rect x="921.40" y="58.40" width="1.3" height="6.10" fill="#1a1a1a"/>
<rect x="928.69" y="58.40" width="1.3" height="6.10" fill="#1a1a1a"/>
<rect x="935.97" y="58.40" width="1.3" height="6.10" fill="#1a1a1a"/>
<rect x="943.26" y="58.40" width="1.3" height="6.10" fill="#1a1a1a"/>
<rect x="950.54" y="58.40" width="1.3" height="6.10" fill="#1a1a1a"/>
<rect x="957.83" y="44.50" width="1.3" height="20.00" fill="#1a1a1a"/>
<rect x="258.35" y="64.50" width="1.3" height="6.60" fill="#1a1a1a"/>
<rect x="233.50" y="69.85" width="25.00" height="1.3" fill="#1a1a1a"/>
<rect x="246.50" y="77.14" width="12.00" height="1.3" fill="#1a1a1a"/>
<rect x="246.50" y="84.42" width="12.00" height="1.3" fill="#1a1a1a"/>
<rect x="246.50" y="91.71" width="12.00" height="1.3" fill="#1a1a1a"/>
<rect x="246.50" y="98.99" width="12.00" height="1.3" fill="#1a1a1a"/>
<rect x="246.50" y="106.28" width="12.00" height="1.3" fill="#1a1a1a"/>
<rect x="246.50" y="113.57" width="12.00" height="1.3" fill="#1a1a1a"/>
<rect x="246.50" y="120.85" width="12.00" height="1.3" fill="#1a1a1a"/>
<rect x="239.50" y="128.14" width="19.00" height="1.3" fill="#1a1a1a"/>
<rect x="246.50" y="135.43" width="12.00" height="1.3" fill="#1a1a1a"/>
<rect x="246.50" y="142.71" width="12.00" height="1.3" fill="#1a1a1a"/>
<rect x="246.50" y="150.00" width="12.00" height="1.3" fill="#1a1a1a"/>
<rect x="246.50" y="157.28" width="12.00" height="1.3" fill="#1a1a1a"/>
<rect x="246.50" y="164.57" width="12.00" height="1.3" fill="#1a1a1a"/>
<rect x="246.50" y="171.86" width="12.00" height="1.3" fill="#1a1a1a"/>
<rect x="246.50" y="179.14" width="12.00" height="1.3" fill="#1a1a1a"/>
<rect x="233.50" y="186.43" width="25.00" height="1.3" fill="#1a1a1a"/>
<rect x="246.50" y="193.72" width="12.00" height="1.3" fill="#1a1a1a"/>
<rect x="246.50" y="201.00" width="12.00" height="1.3" fill="#1a1a1a"/>
<rect x="246.50" y="208.29" width="12.00" height="1.3" fill="#1a1a1a"/>
<rect x="246.50" y="215.57" width="12.00" height="1.3" fill="#1a1a1a"/>
<rect x="246.50" y="222.86" width="12.00" height="1.3" fill="#1a1a1a"/>
<rect x="246.50" y="230.15" width="12.00" height="1.3" fill="#1a1a1a"/>
<rect x="246.50" y="237.43" width="12.00" height="1.3" fill="#1a1a1a"/>
<rect x="239.50" y="244.72" width="19.00" height="1.3" fill="#1a1a1a"/>
<rect x="246.50" y="252.01" width="12.00" height="1.3" fill="#1a1a1a"/>
<rect x="246.50" y="259.29" width="12.00" height="1.3" fill="#1a1a1a"/>
<rect x="246.50" y="266.58" width="12.00" height="1.3" fill="#1a1a1a"/>
<rect x="246.50" y="273.87" width="12.00" height="1.3" fill="#1a1a1a"/>
<rect x="246.50" y="281.15" width="12.00" height="1.3" fill="#1a1a1a"/>
<rect x="246.50" y="288.44" width="12.00" height="1.3" fill="#1a1a1a"/>
<rect x="246.50" y="295.72" width="12.00" height="1.3" fill="#1a1a1a"/>
<text x="361.38" y="39.00" class="lab">1in.</text>
<text x="477.96" y="39.00" class="lab">2in.</text>
<text x="594.54" y="39.00" class="lab">3in.</text>
<text x="711.12" y="39.00" class="lab">4in.</text>
<text x="827.70" y="39.00" class="lab">5in.</text>
<text x="944.28" y="39.00" class="lab">6in.</text>
<text transform="translate(228.8 205.58) rotate(-90)" class="lab">1in.</text>
<text transform="translate(228.8 318.16) rotate(-90)" class="lab">2in.</text>
<rect x="258.35" y="372.60" width="1.3" height="22.40" fill="#1a1a1a"/>
<rect x="265.64" y="385.80" width="1.3" height="9.20" fill="#1a1a1a"/>
<rect x="272.92" y="385.80" width="1.3" height="9.20" fill="#1a1a1a"/>
<rect x="280.21" y="385.80" width="1.3" height="9.20" fill="#1a1a1a"/>
<rect x="287.50" y="385.80" width="1.3" height="9.20" fill="#1a1a1a"/>
<rect x="294.78" y="385.80" width="1.3" height="9.20" fill="#1a1a1a"/>
<rect x="302.07" y="385.80" width="1.3" height="9.20" fill="#1a1a1a"/>
<rect x="309.35" y="385.80" width="1.3" height="9.20" fill="#1a1a1a"/>
<rect x="316.64" y="379.50" width="1.3" height="15.50" fill="#1a1a1a"/>
<rect x="323.93" y="385.80" width="1.3" height="9.20" fill="#1a1a1a"/>
<rect x="331.21" y="385.80" width="1.3" height="9.20" fill="#1a1a1a"/>
<rect x="338.50" y="385.80" width="1.3" height="9.20" fill="#1a1a1a"/>
<rect x="345.79" y="385.80" width="1.3" height="9.20" fill="#1a1a1a"/>
<rect x="353.07" y="385.80" width="1.3" height="9.20" fill="#1a1a1a"/>
<rect x="360.36" y="385.80" width="1.3" height="9.20" fill="#1a1a1a"/>
<rect x="367.64" y="385.80" width="1.3" height="9.20" fill="#1a1a1a"/>
<rect x="374.93" y="372.60" width="1.3" height="22.40" fill="#1a1a1a"/>
<rect x="382.22" y="385.80" width="1.3" height="9.20" fill="#1a1a1a"/>
<rect x="389.50" y="385.80" width="1.3" height="9.20" fill="#1a1a1a"/>
<rect x="396.79" y="385.80" width="1.3" height="9.20" fill="#1a1a1a"/>
<rect x="404.08" y="385.80" width="1.3" height="9.20" fill="#1a1a1a"/>
<rect x="411.36" y="385.80" width="1.3" height="9.20" fill="#1a1a1a"/>
<rect x="418.65" y="385.80" width="1.3" height="9.20" fill="#1a1a1a"/>
<rect x="425.93" y="385.80" width="1.3" height="9.20" fill="#1a1a1a"/>
<rect x="433.22" y="379.50" width="1.3" height="15.50" fill="#1a1a1a"/>
<rect x="440.51" y="385.80" width="1.3" height="9.20" fill="#1a1a1a"/>
<rect x="447.79" y="385.80" width="1.3" height="9.20" fill="#1a1a1a"/>
<rect x="455.08" y="385.80" width="1.3" height="9.20" fill="#1a1a1a"/>
<rect x="462.37" y="385.80" width="1.3" height="9.20" fill="#1a1a1a"/>
<rect x="469.65" y="385.80" width="1.3" height="9.20" fill="#1a1a1a"/>
<rect x="476.94" y="385.80" width="1.3" height="9.20" fill="#1a1a1a"/>
<rect x="484.22" y="385.80" width="1.3" height="9.20" fill="#1a1a1a"/>
<rect x="491.51" y="372.60" width="1.3" height="22.40" fill="#1a1a1a"/>
<rect x="498.80" y="385.80" width="1.3" height="9.20" fill="#1a1a1a"/>
<rect x="506.08" y="385.80" width="1.3" height="9.20" fill="#1a1a1a"/>
<rect x="513.37" y="385.80" width="1.3" height="9.20" fill="#1a1a1a"/>
<rect x="520.66" y="385.80" width="1.3" height="9.20" fill="#1a1a1a"/>
<rect x="527.94" y="385.80" width="1.3" height="9.20" fill="#1a1a1a"/>
<rect x="535.23" y="385.80" width="1.3" height="9.20" fill="#1a1a1a"/>
<rect x="542.51" y="385.80" width="1.3" height="9.20" fill="#1a1a1a"/>
<rect x="549.80" y="379.50" width="1.3" height="15.50" fill="#1a1a1a"/>
<rect x="557.09" y="385.80" width="1.3" height="9.20" fill="#1a1a1a"/>
<rect x="564.37" y="385.80" width="1.3" height="9.20" fill="#1a1a1a"/>
<rect x="571.66" y="385.80" width="1.3" height="9.20" fill="#1a1a1a"/>
<rect x="578.95" y="385.80" width="1.3" height="9.20" fill="#1a1a1a"/>
<rect x="586.23" y="385.80" width="1.3" height="9.20" fill="#1a1a1a"/>
<rect x="593.52" y="385.80" width="1.3" height="9.20" fill="#1a1a1a"/>
<rect x="600.80" y="385.80" width="1.3" height="9.20" fill="#1a1a1a"/>
<rect x="608.09" y="372.60" width="1.3" height="22.40" fill="#1a1a1a"/>
<rect x="615.38" y="385.80" width="1.3" height="9.20" fill="#1a1a1a"/>
<rect x="622.66" y="385.80" width="1.3" height="9.20" fill="#1a1a1a"/>
<rect x="629.95" y="385.80" width="1.3" height="9.20" fill="#1a1a1a"/>
<rect x="637.24" y="385.80" width="1.3" height="9.20" fill="#1a1a1a"/>
<rect x="644.52" y="385.80" width="1.3" height="9.20" fill="#1a1a1a"/>
<rect x="651.81" y="385.80" width="1.3" height="9.20" fill="#1a1a1a"/>
<rect x="659.09" y="385.80" width="1.3" height="9.20" fill="#1a1a1a"/>
<rect x="666.38" y="379.50" width="1.3" height="15.50" fill="#1a1a1a"/>
<rect x="673.67" y="385.80" width="1.3" height="9.20" fill="#1a1a1a"/>
<rect x="680.95" y="385.80" width="1.3" height="9.20" fill="#1a1a1a"/>
<rect x="688.24" y="385.80" width="1.3" height="9.20" fill="#1a1a1a"/>
<rect x="695.52" y="385.80" width="1.3" height="9.20" fill="#1a1a1a"/>
<rect x="702.81" y="385.80" width="1.3" height="9.20" fill="#1a1a1a"/>
<rect x="710.10" y="385.80" width="1.3" height="9.20" fill="#1a1a1a"/>
<rect x="717.38" y="385.80" width="1.3" height="9.20" fill="#1a1a1a"/>
<rect x="724.67" y="372.60" width="1.3" height="22.40" fill="#1a1a1a"/>
<rect x="731.96" y="385.80" width="1.3" height="9.20" fill="#1a1a1a"/>
<rect x="739.24" y="385.80" width="1.3" height="9.20" fill="#1a1a1a"/>
<rect x="746.53" y="385.80" width="1.3" height="9.20" fill="#1a1a1a"/>
<rect x="753.81" y="385.80" width="1.3" height="9.20" fill="#1a1a1a"/>
<rect x="761.10" y="385.80" width="1.3" height="9.20" fill="#1a1a1a"/>
<rect x="768.39" y="385.80" width="1.3" height="9.20" fill="#1a1a1a"/>
<rect x="775.67" y="385.80" width="1.3" height="9.20" fill="#1a1a1a"/>
<rect x="782.96" y="379.50" width="1.3" height="15.50" fill="#1a1a1a"/>
<rect x="790.25" y="385.80" width="1.3" height="9.20" fill="#1a1a1a"/>
<rect x="797.53" y="385.80" width="1.3" height="9.20" fill="#1a1a1a"/>
<rect x="804.82" y="385.80" width="1.3" height="9.20" fill="#1a1a1a"/>
<rect x="812.11" y="385.80" width="1.3" height="9.20" fill="#1a1a1a"/>
<rect x="819.39" y="385.80" width="1.3" height="9.20" fill="#1a1a1a"/>
<rect x="826.68" y="385.80" width="1.3" height="9.20" fill="#1a1a1a"/>
<rect x="833.96" y="385.80" width="1.3" height="9.20" fill="#1a1a1a"/>
<rect x="841.25" y="372.60" width="1.3" height="22.40" fill="#1a1a1a"/>
<rect x="848.54" y="385.80" width="1.3" height="9.20" fill="#1a1a1a"/>
<rect x="855.82" y="385.80" width="1.3" height="9.20" fill="#1a1a1a"/>
<rect x="863.11" y="385.80" width="1.3" height="9.20" fill="#1a1a1a"/>
<rect x="870.39" y="385.80" width="1.3" height="9.20" fill="#1a1a1a"/>
<rect x="877.68" y="385.80" width="1.3" height="9.20" fill="#1a1a1a"/>
<rect x="884.97" y="385.80" width="1.3" height="9.20" fill="#1a1a1a"/>
<rect x="892.25" y="385.80" width="1.3" height="9.20" fill="#1a1a1a"/>
<rect x="899.54" y="379.50" width="1.3" height="15.50" fill="#1a1a1a"/>
<rect x="906.83" y="385.80" width="1.3" height="9.20" fill="#1a1a1a"/>
<rect x="914.11" y="385.80" width="1.3" height="9.20" fill="#1a1a1a"/>
<rect x="921.40" y="385.80" width="1.3" height="9.20" fill="#1a1a1a"/>
<rect x="928.69" y="385.80" width="1.3" height="9.20" fill="#1a1a1a"/>
<rect x="935.97" y="385.80" width="1.3" height="9.20" fill="#1a1a1a"/>
<rect x="943.26" y="385.80" width="1.3" height="9.20" fill="#1a1a1a"/>
<rect x="950.54" y="385.80" width="1.3" height="9.20" fill="#1a1a1a"/>
<rect x="957.83" y="372.60" width="1.3" height="22.40" fill="#1a1a1a"/>
<rect x="258.35" y="395.00" width="1.3" height="4.60" fill="#1a1a1a"/>
<rect x="233.50" y="398.35" width="24.00" height="1.3" fill="#1a1a1a"/>
<rect x="246.50" y="405.64" width="11.00" height="1.3" fill="#1a1a1a"/>
<rect x="246.50" y="412.92" width="11.00" height="1.3" fill="#1a1a1a"/>
<rect x="246.50" y="420.21" width="11.00" height="1.3" fill="#1a1a1a"/>
<rect x="246.50" y="427.50" width="11.00" height="1.3" fill="#1a1a1a"/>
<rect x="246.50" y="434.78" width="11.00" height="1.3" fill="#1a1a1a"/>
<rect x="246.50" y="442.07" width="11.00" height="1.3" fill="#1a1a1a"/>
<rect x="246.50" y="449.35" width="11.00" height="1.3" fill="#1a1a1a"/>
<rect x="239.50" y="456.64" width="18.00" height="1.3" fill="#1a1a1a"/>
<rect x="246.50" y="463.93" width="11.00" height="1.3" fill="#1a1a1a"/>
<rect x="246.50" y="471.21" width="11.00" height="1.3" fill="#1a1a1a"/>
<rect x="246.50" y="478.50" width="11.00" height="1.3" fill="#1a1a1a"/>
<rect x="246.50" y="485.79" width="11.00" height="1.3" fill="#1a1a1a"/>
<rect x="246.50" y="493.07" width="11.00" height="1.3" fill="#1a1a1a"/>
<rect x="246.50" y="500.36" width="11.00" height="1.3" fill="#1a1a1a"/>
<rect x="246.50" y="507.64" width="11.00" height="1.3" fill="#1a1a1a"/>
<rect x="233.50" y="514.93" width="24.00" height="1.3" fill="#1a1a1a"/>
<rect x="246.50" y="522.22" width="11.00" height="1.3" fill="#1a1a1a"/>
<rect x="246.50" y="529.50" width="11.00" height="1.3" fill="#1a1a1a"/>
<rect x="246.50" y="536.79" width="11.00" height="1.3" fill="#1a1a1a"/>
<rect x="246.50" y="544.08" width="11.00" height="1.3" fill="#1a1a1a"/>
<rect x="246.50" y="551.36" width="11.00" height="1.3" fill="#1a1a1a"/>
<rect x="246.50" y="558.65" width="11.00" height="1.3" fill="#1a1a1a"/>
<rect x="246.50" y="565.93" width="11.00" height="1.3" fill="#1a1a1a"/>
<rect x="239.50" y="573.22" width="18.00" height="1.3" fill="#1a1a1a"/>
<rect x="246.50" y="580.51" width="11.00" height="1.3" fill="#1a1a1a"/>
<rect x="246.50" y="587.79" width="11.00" height="1.3" fill="#1a1a1a"/>
<rect x="246.50" y="595.08" width="11.00" height="1.3" fill="#1a1a1a"/>
<rect x="246.50" y="602.37" width="11.00" height="1.3" fill="#1a1a1a"/>
<rect x="246.50" y="609.65" width="11.00" height="1.3" fill="#1a1a1a"/>
<rect x="246.50" y="616.94" width="11.00" height="1.3" fill="#1a1a1a"/>
<rect x="246.50" y="624.22" width="11.00" height="1.3" fill="#1a1a1a"/>
<rect x="233.50" y="631.51" width="24.00" height="1.3" fill="#1a1a1a"/>
<text x="361.38" y="368.20" class="lab">1in.</text>
<text x="477.96" y="368.20" class="lab">2in.</text>
<text x="594.54" y="368.20" class="lab">3in.</text>
<text x="711.12" y="368.20" class="lab">4in.</text>
<text x="827.70" y="368.20" class="lab">5in.</text>
<text x="944.28" y="368.20" class="lab">6in.</text>
<text transform="translate(228.8 534.08) rotate(-90)" class="lab">1in.</text>
<text transform="translate(228.8 646.66) rotate(-90)" class="lab">2in.</text>
<rect x="258.85" y="700.20" width="1.3" height="23.20" fill="#1a1a1a"/>
<rect x="266.14" y="713.00" width="1.3" height="10.40" fill="#1a1a1a"/>
<rect x="273.42" y="713.00" width="1.3" height="10.40" fill="#1a1a1a"/>
<rect x="280.71" y="713.00" width="1.3" height="10.40" fill="#1a1a1a"/>
<rect x="288.00" y="713.00" width="1.3" height="10.40" fill="#1a1a1a"/>
<rect x="295.28" y="713.00" width="1.3" height="10.40" fill="#1a1a1a"/>
<rect x="302.57" y="713.00" width="1.3" height="10.40" fill="#1a1a1a"/>
<rect x="309.85" y="713.00" width="1.3" height="10.40" fill="#1a1a1a"/>
<rect x="317.14" y="707.00" width="1.3" height="16.40" fill="#1a1a1a"/>
<rect x="324.43" y="713.00" width="1.3" height="10.40" fill="#1a1a1a"/>
<rect x="331.71" y="713.00" width="1.3" height="10.40" fill="#1a1a1a"/>
<rect x="339.00" y="713.00" width="1.3" height="10.40" fill="#1a1a1a"/>
<rect x="346.29" y="713.00" width="1.3" height="10.40" fill="#1a1a1a"/>
<rect x="353.57" y="713.00" width="1.3" height="10.40" fill="#1a1a1a"/>
<rect x="360.86" y="713.00" width="1.3" height="10.40" fill="#1a1a1a"/>
<rect x="368.14" y="713.00" width="1.3" height="10.40" fill="#1a1a1a"/>
<rect x="375.43" y="700.20" width="1.3" height="23.20" fill="#1a1a1a"/>
<rect x="382.72" y="713.00" width="1.3" height="10.40" fill="#1a1a1a"/>
<rect x="390.00" y="713.00" width="1.3" height="10.40" fill="#1a1a1a"/>
<rect x="397.29" y="713.00" width="1.3" height="10.40" fill="#1a1a1a"/>
<rect x="404.58" y="713.00" width="1.3" height="10.40" fill="#1a1a1a"/>
<rect x="411.86" y="713.00" width="1.3" height="10.40" fill="#1a1a1a"/>
<rect x="419.15" y="713.00" width="1.3" height="10.40" fill="#1a1a1a"/>
<rect x="426.43" y="713.00" width="1.3" height="10.40" fill="#1a1a1a"/>
<rect x="433.72" y="707.00" width="1.3" height="16.40" fill="#1a1a1a"/>
<rect x="441.01" y="713.00" width="1.3" height="10.40" fill="#1a1a1a"/>
<rect x="448.29" y="713.00" width="1.3" height="10.40" fill="#1a1a1a"/>
<rect x="455.58" y="713.00" width="1.3" height="10.40" fill="#1a1a1a"/>
<rect x="462.87" y="713.00" width="1.3" height="10.40" fill="#1a1a1a"/>
<rect x="470.15" y="713.00" width="1.3" height="10.40" fill="#1a1a1a"/>
<rect x="477.44" y="713.00" width="1.3" height="10.40" fill="#1a1a1a"/>
<rect x="484.72" y="713.00" width="1.3" height="10.40" fill="#1a1a1a"/>
<rect x="492.01" y="700.20" width="1.3" height="23.20" fill="#1a1a1a"/>
<rect x="499.30" y="713.00" width="1.3" height="10.40" fill="#1a1a1a"/>
<rect x="506.58" y="713.00" width="1.3" height="10.40" fill="#1a1a1a"/>
<rect x="513.87" y="713.00" width="1.3" height="10.40" fill="#1a1a1a"/>
<rect x="521.16" y="713.00" width="1.3" height="10.40" fill="#1a1a1a"/>
<rect x="528.44" y="713.00" width="1.3" height="10.40" fill="#1a1a1a"/>
<rect x="535.73" y="713.00" width="1.3" height="10.40" fill="#1a1a1a"/>
<rect x="543.01" y="713.00" width="1.3" height="10.40" fill="#1a1a1a"/>
<rect x="550.30" y="707.00" width="1.3" height="16.40" fill="#1a1a1a"/>
<rect x="557.59" y="713.00" width="1.3" height="10.40" fill="#1a1a1a"/>
<rect x="564.87" y="713.00" width="1.3" height="10.40" fill="#1a1a1a"/>
<rect x="572.16" y="713.00" width="1.3" height="10.40" fill="#1a1a1a"/>
<rect x="579.45" y="713.00" width="1.3" height="10.40" fill="#1a1a1a"/>
<rect x="586.73" y="713.00" width="1.3" height="10.40" fill="#1a1a1a"/>
<rect x="594.02" y="713.00" width="1.3" height="10.40" fill="#1a1a1a"/>
<rect x="601.30" y="713.00" width="1.3" height="10.40" fill="#1a1a1a"/>
<rect x="608.59" y="700.20" width="1.3" height="23.20" fill="#1a1a1a"/>
<rect x="615.88" y="713.00" width="1.3" height="10.40" fill="#1a1a1a"/>
<rect x="623.16" y="713.00" width="1.3" height="10.40" fill="#1a1a1a"/>
<rect x="630.45" y="713.00" width="1.3" height="10.40" fill="#1a1a1a"/>
<rect x="637.74" y="713.00" width="1.3" height="10.40" fill="#1a1a1a"/>
<rect x="645.02" y="713.00" width="1.3" height="10.40" fill="#1a1a1a"/>
<rect x="652.31" y="713.00" width="1.3" height="10.40" fill="#1a1a1a"/>
<rect x="659.59" y="713.00" width="1.3" height="10.40" fill="#1a1a1a"/>
<rect x="666.88" y="707.00" width="1.3" height="16.40" fill="#1a1a1a"/>
<rect x="674.17" y="713.00" width="1.3" height="10.40" fill="#1a1a1a"/>
<rect x="681.45" y="713.00" width="1.3" height="10.40" fill="#1a1a1a"/>
<rect x="688.74" y="713.00" width="1.3" height="10.40" fill="#1a1a1a"/>
<rect x="696.02" y="713.00" width="1.3" height="10.40" fill="#1a1a1a"/>
<rect x="703.31" y="713.00" width="1.3" height="10.40" fill="#1a1a1a"/>
<rect x="710.60" y="713.00" width="1.3" height="10.40" fill="#1a1a1a"/>
<rect x="717.88" y="713.00" width="1.3" height="10.40" fill="#1a1a1a"/>
<rect x="725.17" y="700.20" width="1.3" height="23.20" fill="#1a1a1a"/>
<rect x="732.46" y="713.00" width="1.3" height="10.40" fill="#1a1a1a"/>
<rect x="739.74" y="713.00" width="1.3" height="10.40" fill="#1a1a1a"/>
<rect x="747.03" y="713.00" width="1.3" height="10.40" fill="#1a1a1a"/>
<rect x="754.31" y="713.00" width="1.3" height="10.40" fill="#1a1a1a"/>
<rect x="761.60" y="713.00" width="1.3" height="10.40" fill="#1a1a1a"/>
<rect x="768.89" y="713.00" width="1.3" height="10.40" fill="#1a1a1a"/>
<rect x="776.17" y="713.00" width="1.3" height="10.40" fill="#1a1a1a"/>
<rect x="783.46" y="707.00" width="1.3" height="16.40" fill="#1a1a1a"/>
<rect x="790.75" y="713.00" width="1.3" height="10.40" fill="#1a1a1a"/>
<rect x="798.03" y="713.00" width="1.3" height="10.40" fill="#1a1a1a"/>
<rect x="805.32" y="713.00" width="1.3" height="10.40" fill="#1a1a1a"/>
<rect x="812.61" y="713.00" width="1.3" height="10.40" fill="#1a1a1a"/>
<rect x="819.89" y="713.00" width="1.3" height="10.40" fill="#1a1a1a"/>
<rect x="827.18" y="713.00" width="1.3" height="10.40" fill="#1a1a1a"/>
<rect x="834.46" y="713.00" width="1.3" height="10.40" fill="#1a1a1a"/>
<rect x="841.75" y="700.20" width="1.3" height="23.20" fill="#1a1a1a"/>
<rect x="849.04" y="713.00" width="1.3" height="10.40" fill="#1a1a1a"/>
<rect x="856.32" y="713.00" width="1.3" height="10.40" fill="#1a1a1a"/>
<rect x="863.61" y="713.00" width="1.3" height="10.40" fill="#1a1a1a"/>
<rect x="870.89" y="713.00" width="1.3" height="10.40" fill="#1a1a1a"/>
<rect x="878.18" y="713.00" width="1.3" height="10.40" fill="#1a1a1a"/>
<rect x="885.47" y="713.00" width="1.3" height="10.40" fill="#1a1a1a"/>
<rect x="892.75" y="713.00" width="1.3" height="10.40" fill="#1a1a1a"/>
<rect x="900.04" y="707.00" width="1.3" height="16.40" fill="#1a1a1a"/>
<rect x="907.33" y="713.00" width="1.3" height="10.40" fill="#1a1a1a"/>
<rect x="914.61" y="713.00" width="1.3" height="10.40" fill="#1a1a1a"/>
<rect x="921.90" y="713.00" width="1.3" height="10.40" fill="#1a1a1a"/>
<rect x="929.19" y="713.00" width="1.3" height="10.40" fill="#1a1a1a"/>
<rect x="936.47" y="713.00" width="1.3" height="10.40" fill="#1a1a1a"/>
<rect x="943.76" y="713.00" width="1.3" height="10.40" fill="#1a1a1a"/>
<rect x="951.04" y="713.00" width="1.3" height="10.40" fill="#1a1a1a"/>
<rect x="958.33" y="700.20" width="1.3" height="23.20" fill="#1a1a1a"/>
<rect x="258.85" y="723.40" width="1.3" height="2.50" fill="#1a1a1a"/>
<rect x="234.00" y="724.65" width="23.50" height="1.3" fill="#1a1a1a"/>
<rect x="246.50" y="731.94" width="11.00" height="1.3" fill="#1a1a1a"/>
<rect x="246.50" y="739.22" width="11.00" height="1.3" fill="#1a1a1a"/>
<rect x="246.50" y="746.51" width="11.00" height="1.3" fill="#1a1a1a"/>
<rect x="246.50" y="753.79" width="11.00" height="1.3" fill="#1a1a1a"/>
<rect x="246.50" y="761.08" width="11.00" height="1.3" fill="#1a1a1a"/>
<rect x="246.50" y="768.37" width="11.00" height="1.3" fill="#1a1a1a"/>
<rect x="246.50" y="775.65" width="11.00" height="1.3" fill="#1a1a1a"/>
<rect x="240.00" y="782.94" width="17.50" height="1.3" fill="#1a1a1a"/>
<rect x="246.50" y="790.23" width="11.00" height="1.3" fill="#1a1a1a"/>
<rect x="246.50" y="797.51" width="11.00" height="1.3" fill="#1a1a1a"/>
<rect x="246.50" y="804.80" width="11.00" height="1.3" fill="#1a1a1a"/>
<rect x="246.50" y="812.08" width="11.00" height="1.3" fill="#1a1a1a"/>
<rect x="246.50" y="819.37" width="11.00" height="1.3" fill="#1a1a1a"/>
<rect x="246.50" y="826.66" width="11.00" height="1.3" fill="#1a1a1a"/>
<rect x="246.50" y="833.94" width="11.00" height="1.3" fill="#1a1a1a"/>
<rect x="234.00" y="841.23" width="23.50" height="1.3" fill="#1a1a1a"/>
<rect x="246.50" y="848.52" width="11.00" height="1.3" fill="#1a1a1a"/>
<rect x="246.50" y="855.80" width="11.00" height="1.3" fill="#1a1a1a"/>
<rect x="246.50" y="863.09" width="11.00" height="1.3" fill="#1a1a1a"/>
<rect x="246.50" y="870.38" width="11.00" height="1.3" fill="#1a1a1a"/>
<rect x="246.50" y="877.66" width="11.00" height="1.3" fill="#1a1a1a"/>
<rect x="246.50" y="884.95" width="11.00" height="1.3" fill="#1a1a1a"/>
<rect x="246.50" y="892.23" width="11.00" height="1.3" fill="#1a1a1a"/>
<rect x="240.00" y="899.52" width="17.50" height="1.3" fill="#1a1a1a"/>
<rect x="246.50" y="906.81" width="11.00" height="1.3" fill="#1a1a1a"/>
<rect x="246.50" y="914.09" width="11.00" height="1.3" fill="#1a1a1a"/>
<rect x="246.50" y="921.38" width="11.00" height="1.3" fill="#1a1a1a"/>
<rect x="246.50" y="928.66" width="11.00" height="1.3" fill="#1a1a1a"/>
<rect x="246.50" y="935.95" width="11.00" height="1.3" fill="#1a1a1a"/>
<rect x="246.50" y="943.24" width="11.00" height="1.3" fill="#1a1a1a"/>
<rect x="246.50" y="950.52" width="11.00" height="1.3" fill="#1a1a1a"/>
<rect x="234.00" y="957.81" width="23.50" height="1.3" fill="#1a1a1a"/>
<text x="361.88" y="695.50" class="lab">1in.</text>
<text x="478.46" y="695.50" class="lab">2in.</text>
<text x="595.04" y="695.50" class="lab">3in.</text>
<text x="711.62" y="695.50" class="lab">4in.</text>
<text x="828.20" y="695.50" class="lab">5in.</text>
<text x="944.78" y="695.50" class="lab">6in.</text>
<text transform="translate(228.8 860.38) rotate(-90)" class="lab">1in.</text>
<text transform="translate(228.8 972.96) rotate(-90)" class="lab">2in.</text>
</svg>
<div class="big" style="top:129px">SMALL<br><span style="letter-spacing:-1.6px">SCALE</span></div>
<div class="big" style="top:459px"><span style="letter-spacing:-0.4px">MEDIUM</span><br><span style="letter-spacing:-1.6px">SCALE</span></div>
<div class="big" style="top:789px"><span style="letter-spacing:-2px">LARGE</span><br><span style="letter-spacing:-1.6px">SCALE</span></div>
</div></body></html>
